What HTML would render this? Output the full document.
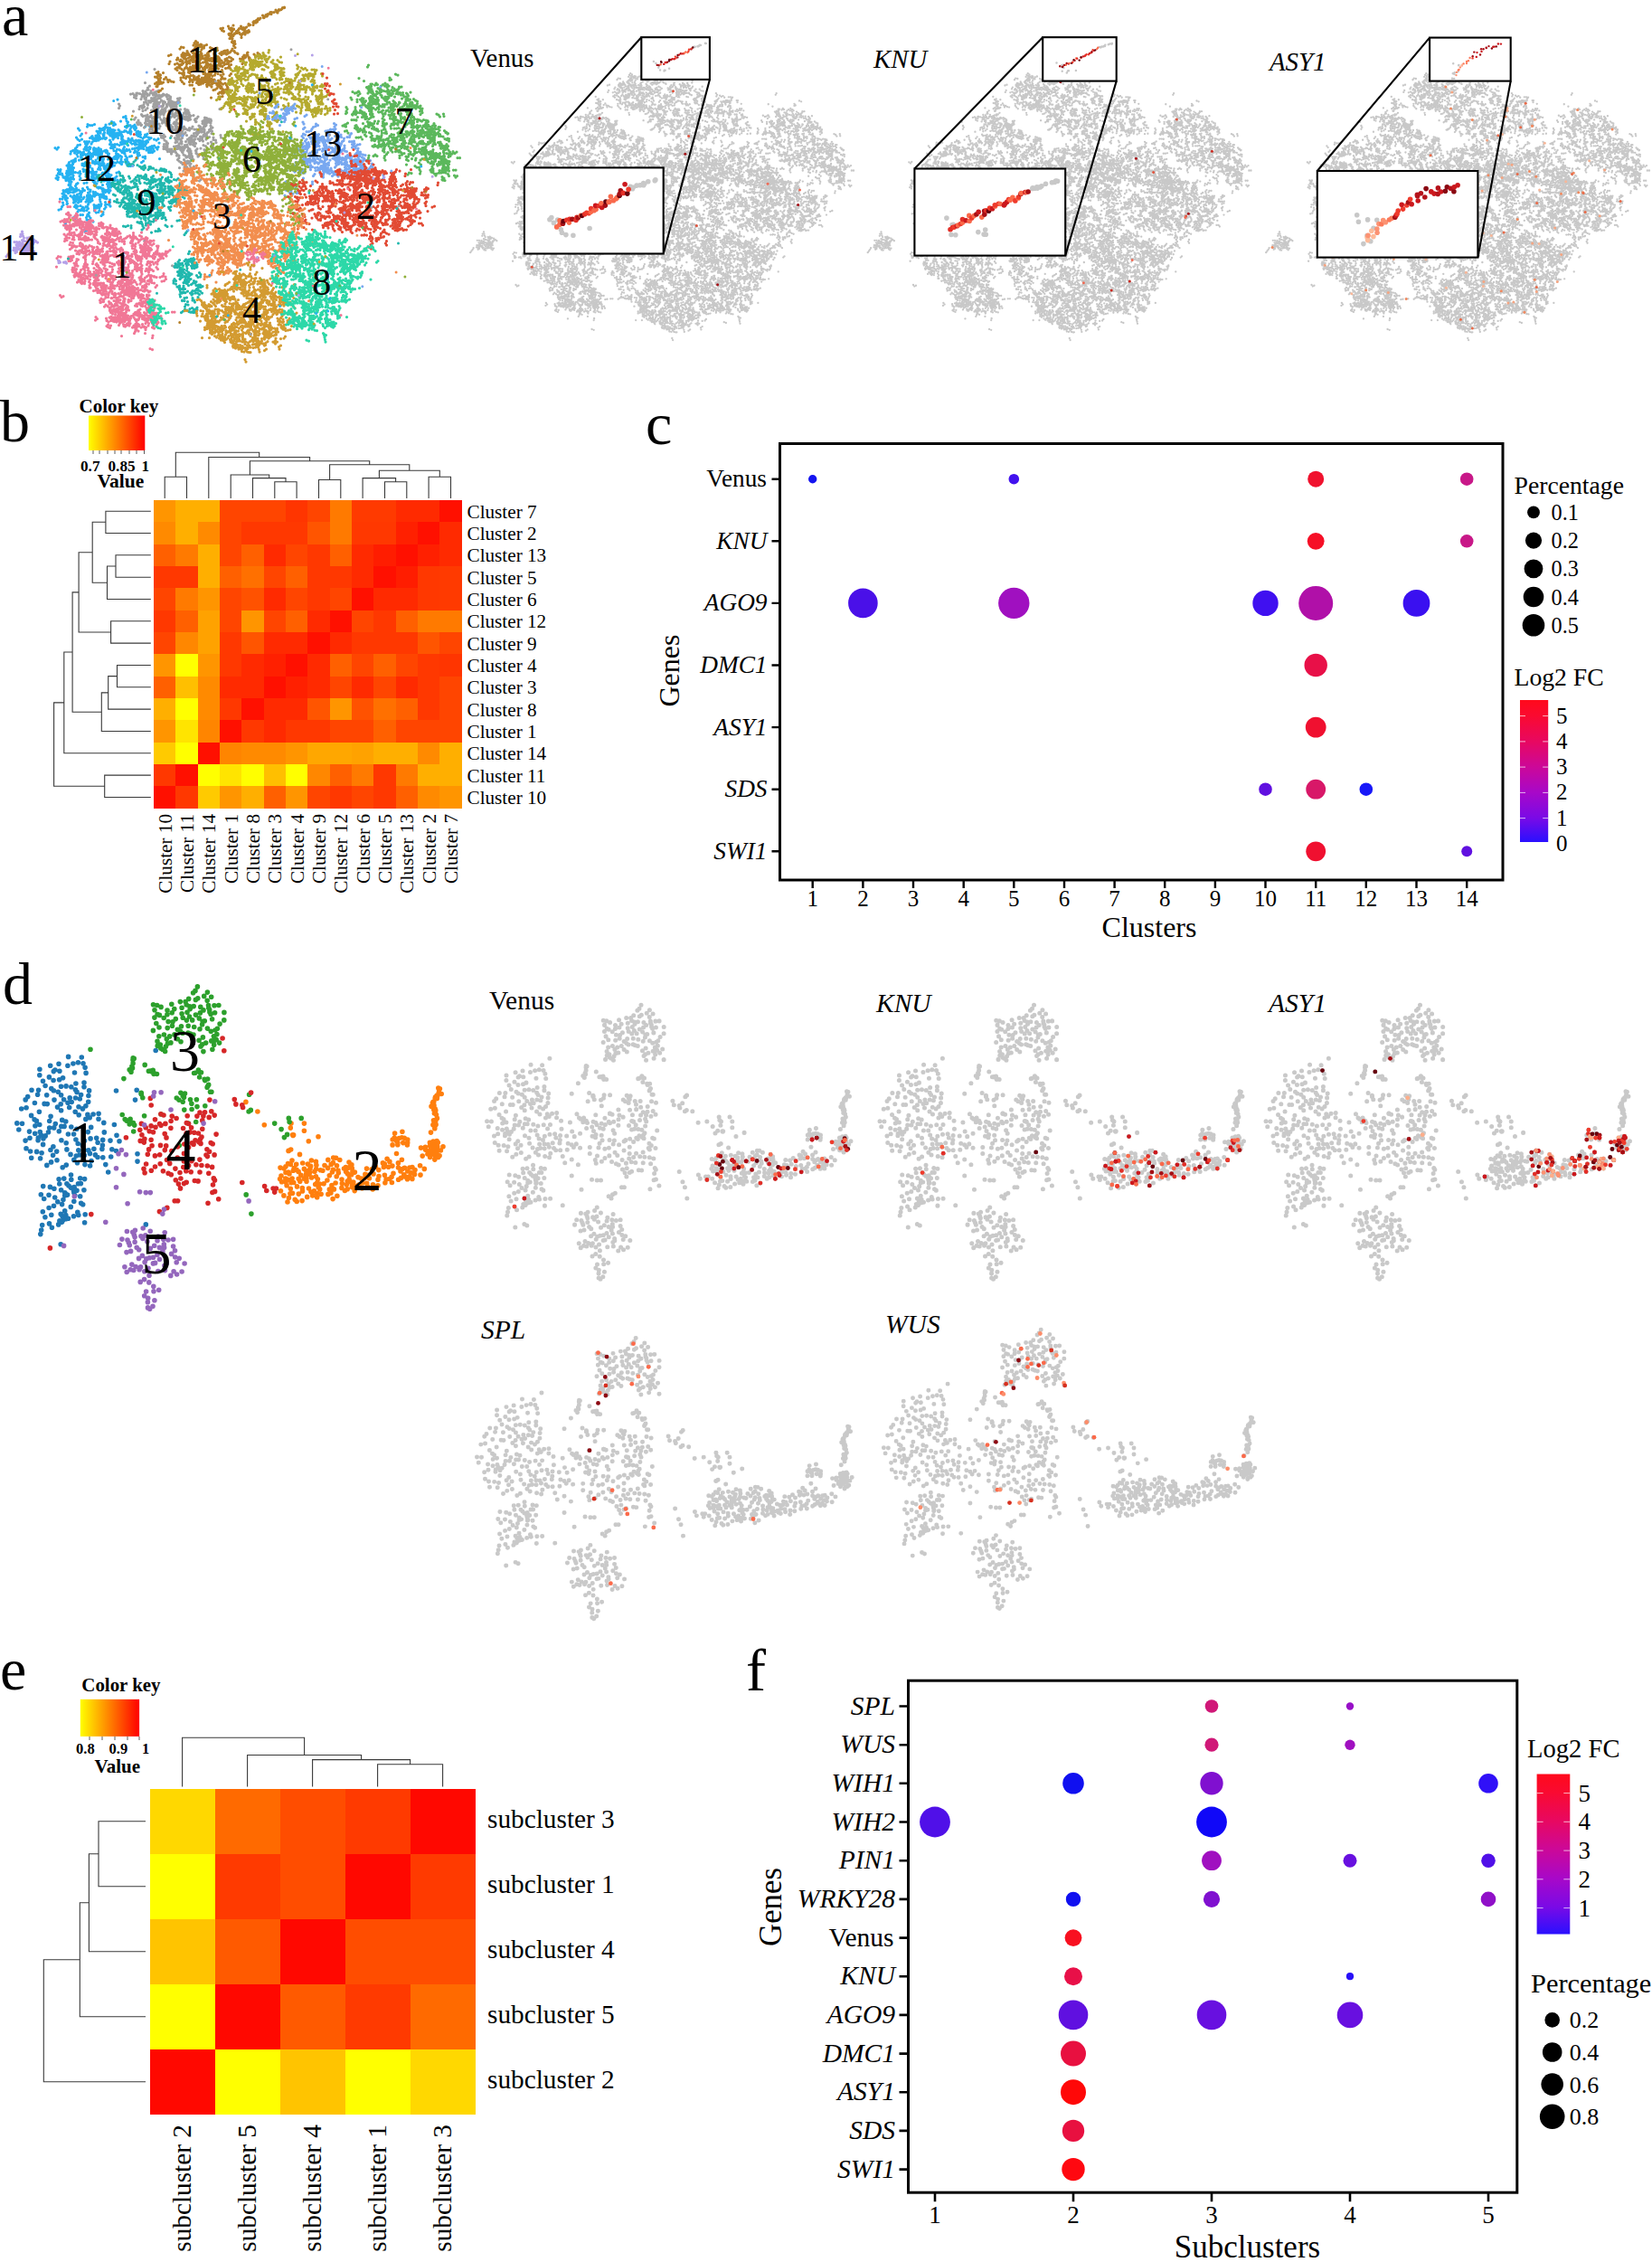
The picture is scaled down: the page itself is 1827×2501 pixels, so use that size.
<!DOCTYPE html>
<html lang="en"><head><meta charset="utf-8"><title>Figure</title>
<style>
html,body{margin:0;padding:0;background:#fff}
body{width:1827px;height:2501px;overflow:hidden}
svg{display:block}
text{font-family:"Liberation Serif",serif;fill:#000}
</style></head><body>
<svg width="1827" height="2501" viewBox="0 0 1827 2501">
<defs>
<linearGradient id="gk" x1="0" y1="0" x2="1" y2="0"><stop offset="0" stop-color="#ffff00"/><stop offset="1" stop-color="#ff0000"/></linearGradient>
<linearGradient id="gfc" x1="0" y1="1" x2="0" y2="0"><stop offset="0" stop-color="#2a10ff"/><stop offset="0.17" stop-color="#7a0ae6"/><stop offset="0.35" stop-color="#a808c8"/><stop offset="0.53" stop-color="#cc0898"/><stop offset="0.71" stop-color="#e80860"/><stop offset="0.89" stop-color="#fa0a30"/><stop offset="1" stop-color="#ff0a1c"/></linearGradient>
<linearGradient id="gfc2" x1="0" y1="1" x2="0" y2="0"><stop offset="0" stop-color="#2a10ff"/><stop offset="0.17" stop-color="#7a0ae6"/><stop offset="0.35" stop-color="#a808c8"/><stop offset="0.53" stop-color="#cc0898"/><stop offset="0.71" stop-color="#e80860"/><stop offset="0.89" stop-color="#fa0a30"/><stop offset="1" stop-color="#ff0a1c"/></linearGradient>
</defs>
<text x="2" y="38.5" font-size="66">a</text>
<text x="0" y="488" font-size="66">b</text>
<text x="714" y="490.5" font-size="66">c</text>
<text x="3" y="1110" font-size="66">d</text>
<text x="0" y="1868" font-size="66">e</text>
<text x="825" y="1869" font-size="66">f</text>
<defs>
<path id="a14" transform="scale(.5)" d="M62 550h0m-3 4h0m-6-28h0m-2-4h0m-1-5h0m-1-5h0m13 33h0m-1 5h0m2 5h0m-5 1h0m-4-5h0m5-1h0m2-5h0m1-4h0m-2 4h0m-29 3h0m-1 5h0m5 1h0m2 3h0m1-5h0m4-2h0m-4-2h0m6 2h0m23 4h0m2 4h0m-35 1h0m-1-5h0m21-21h0m5 1h0m5-1h0m1-5h0m-5-2h0m-13 15h0m-4 2h0m-5 1h0m8-5h0m-5 0h0m-5 2h0m5 2h0m-2 4h0m32-4h0m2-4h0m3-4h0m-26 10h0m-4-2h0m4-4h0m33-3h0m-4-3h0m-4-3h0m-26 1h0m-27 24h0m-2 4h0m-3 4h0m-3 4h0m52-25h0m5-1h0m-1 14h0m2 5h0m3-4h0m-43-21h0m5 0h0m32 20h0m-1-5h0m4-2h0m-5 2h0m-3-4h0m-12-14h0m-3 5h0m1 5h0m-12 2h0m-3 4h0m5 2h0m5-1h0m-4-10h0m2-4h0m26 11h0m-1-5h0m-5-2h0m-4 3h0m-11 12h0m3-7h0m5-1h0m-1-5h0m-5 0h0m-3-3h0m19-12h0m-5 2h0m4-3h0m1 5h0m-1-5h0m5 3h0m-1 19h0m-4-4h0m0-5h0m-4-1h0m11 0h0m-18 24h0m-1-5h0m-3 4h0m-4-4h0m-2-4h0m-5-2h0m-4-2h0m33-18h0m-4-2h0m-19-5h0m1-5h0m101 64h0m-2-3h0m0 1h0m-15 1h0m1-4h0m-2-1h0m4 4h0m8 0h0"/>
<path id="a12" transform="scale(.5)" d="M218 453h0m-2 4h0m4 2h0m3-4h0m-4-2h0m25-159h0m-3-3h0m5-2h0m-3 4h0m-20 137h0m4 3h0m3 4h0m4 2h0m-64-105h0m4 3h0m5 0h0m11 48h0m2-5h0m5-1h0m21-47h0m-1 5h0m3 4h0m5 0h0m-67 78h0m1-4h0m-2 4h0m-3 4h0m-3 4h0m186-92h0m-5 2h0m-3-4h0m-3-4h0m4-3h0m-166 32h0m-3 5h0m2 33h0m-2-4h0m-4 3h0m-5-1h0m-4-3h0m119-123h0m-30 110h0m-3 4h0m-74 2h0m-3-5h0m4-3h0m2-5h0m-4-2h0m92-92h0m4-2h0m-4-3h0m-4-3h0m5 2h0m-3 18h0m5-1h0m-6 80h0m5-2h0m-78-12h0m50-15h0m-5 0h0m3-4h0m-4 1h0m45-15h0m-43 22h0m-5-1h0m-5-3h0m-4-2h0m115-22h0m3-4h0m-119 113h0m74-142h0m3-3h0m5-2h0m2 5h0m-119 148h0m-3 5h0m18 31h0m0-5h0m4-4h0m4 4h0m91-153h0m-2 5h0m-4 3h0m-36-6h0m2 4h0m0 5h0m-18 63h0m4 2h0m3 4h0m3 4h0m5 1h0m-109-14h0m112 35h0m-5 2h0m44-139h0m-2-5h0m-41 68h0m13-39h0m4-2h0m5 0h0m-50 171h0m5-1h0m2-4h0m60-135h0m-3 3h0m-5 0h0m-5 0h0m-36-40h0m-1 5h0m0 5h0m5 2h0m-82 76h0m2 5h0m4-2h0m3-4h0m-4-24h0m64 19h0m-3-5h0m3-4h0m2-4h0m4-3h0m-37 7h0m-5-2h0m-4-2h0m124-36h0m5 0h0m5-2h0m5-2h0m-14-12h0m4 3h0m-133 152h0m5 0h0m4-89h0m25 54h0m-1-5h0m-4 2h0m62-108h0m5-1h0m-1-5h0m-76 39h0m1-4h0m-1-5h0m16 18h0m-1-4h0m1 4h0m5 1h0m1-5h0m-20-28h0m-3 4h0m-5-1h0m-5-2h0m9 122h0m-47-1h0m82-89h0m-3 3h0m-28 32h0m5-1h0m2-5h0m0-5h0m2-4h0m14-30h0m5-1h0m15 60h0m-42-71h0m5 0h0m4-3h0m2 4h0m86-4h0m2-4h0m-1-5h0m-5 1h0m-89 114h0m-1-4h0m1-5h0m5 0h0m-6-132h0m3 4h0m2 5h0m-4 3h0m107-3h0m3 4h0m-3-4h0m-14 6h0m5 2h0m-105 168h0m-5-1h0m-55-102h0m-5 1h0m30 40h0m67-74h0m-4-2h0m-4 3h0m-4-3h0m-91 39h0m3 4h0m-5 2h0m4 3h0m57-18h0m37-72h0m-4-4h0m-2-4h0m1-5h0m-3-4h0m97 7h0m-1-5h0m-5-2h0m1 5h0m4 3h0m-67 144h0m0 5h0m-1 5h0m2 4h0m-33-48h0m30-23h0m5 2h0m-66-35h0m17-39h0m-3 4h0m-5 1h0m3-5h0m-5 0h0m-41 80h0m60 97h0m45-198h0m-4 2h0m1 5h0m3 4h0m-109 129h0m-4-4h0m165-136h0m-91 19h0m-4-3h0m25-28h0m2 155h0m-5 0h0m-3-4h0m4 3h0m-38 1h0m5-1h0m42-42h0m0-5h0m-71 20h0m40 49h0m0 5h0m0 5h0m19-112h0m-56 102h0m-3 4h0m73-163h0m-2-5h0m-1-5h0m65 53h0m1 5h0m-1 5h0m-170 25h0m-3 3h0m29-8h0m-5 3h0m0 5h0m-2 29h0m3 4h0m147-75h0m-20-66h0m-3-3h0m-1-5h0m-1-5h0m-5 2h0m-82 64h0m2 4h0m5-2h0m23 27h0m66-6h0m4-1h0m-136 30h0m126-21h0m0-5h0m-3-4h0m-2-5h0m-131 81h0m-4 4h0m1 5h0m-2 5h0m5 1h0m44-77h0m-4 3h0m1 5h0m-4-2h0m18-39h0m108-5h0m-2 4h0m-4 2h0m34-4h0m5-1h0m4 4h0m5-1h0m-2 5h0m-18-1h0m2-4h0m5 0h0m-21-7h0m0-5h0m-5 0h0m-4-2h0m-5 1h0m37 17h0m2 5h0m-4 3h0m-99-43h0m0-5h0m31 9h0m2 4h0m-2 5h0m1 5h0m-1 5h0m-77 148h0m3-4h0m-2-4h0m37-88h0m3 5h0m1 5h0m-51 38h0m0 5h0m4-1h0m-58-38h0m2-4h0m-3-4h0m75 64h0m-5 2h0m43-74h0m-5-1h0m-4 2h0m-1 5h0m66-89h0m3-4h0m-2-4h0m3 34h0m-2 5h0m0 5h0m-4-9h0m-4-1h0m-2 5h0m3 3h0m-27 26h0m-3 4h0m-3 4h0m-5-1h0m-5-1h0m-5 55h0m-3-4h0m2-4h0m0-5h0m-74 24h0m-2-5h0m42-30h0m4-1h0m-73 41h0m4 1h0m5 2h0m2-5h0m0 5h0m93-26h0m-5 2h0m-4-1h0m-5 1h0m-4-2h0m85-95h0m-5-2h0m-4-3h0m0-5h0m4 3h0m-109 40h0m-1 5h0m49-14h0m4-3h0m5 1h0m-5-1h0m40-28h0m1-5h0m-2-5h0m-1 4h0m-65 45h0m1-5h0m-5-3h0m-1 5h0m-5 1h0m10 29h0m4-4h0m-77 37h0m4 4h0m17-74h0m2-4h0m5-1h0m84-15h0m-3-3h0m-5 2h0m-3 4h0m-1-5h0m-68 159h0m-35-63h0m-2-5h0m159-82h0m4 2h0m1 5h0m0 5h0m2 4h0m-26 31h0m-90-19h0m4 2h0m3 4h0m0 5h0m-5 1h0m-27 89h0m-3 4h0m-3-4h0m81-149h0m5 0h0m1-5h0m83 47h0m1-5h0m-4 3h0m-136 102h0m5-3h0m-60 17h0m1 5h0m-3 4h0m-2 5h0m-5 2h0m22-102h0m29 100h0m2-4h0m-5-3h0m151-118h0m-138 44h0m22 13h0m-4 3h0m-3 4h0m4 1h0m57-107h0m3 5h0m0 5h0m-39-19h0m3-4h0m-5 1h0m1 5h0m-5-1h0m89 41h0m3-4h0m-4-3h0m3-4h0m0-5h0m-88-15h0m1 4h0m-2 5h0m-5-1h0m-53 129h0m4 3h0m2 4h0m5 1h0m4-3h0m-35-55h0m3-4h0m-4-2h0m-1 5h0m1 5h0m90-25h0m5-1h0m4 1h0m-3-4h0m32-70h0m-68 38h0m-43 11h0m2-5h0m0-5h0m-3 4h0m5 1h0m48 67h0m0-5h0m-3-5h0m-4 4h0m-41 26h0m-4 4h0m-4 1h0m115-108h0m-1-5h0m-3-3h0m-134 78h0m2 5h0m4 1h0m-4-2h0m5 0h0m22-61h0m4 3h0m5 2h0m-5 1h0m17 5h0m-5 2h0m-4 4h0m0-5h0m0-5h0m38-39h0m3 4h0m-2 5h0m-1-5h0m-5-2h0m50-13h0m-102 106h0m-5 0h0m104-74h0m-5 0h0m-5 1h0m-2 4h0m-72 122h0m4-1h0m45-110h0m-5 1h0m-1 5h0m5-2h0m1-5h0m9 119h0m1 5h0m-3 4h0m-6-45h0m2 5h0m5-2h0m10-146h0m4-2h0m-65 36h0m-32 130h0m-5-1h0m-5-2h0m-1 5h0m-5 0h0m87-26h0m-9-4h0m3-4h0m-5-1h0m-1-5h0m5 56h0m-4 2h0m-1-5h0m-36-107h0m-2-5h0m94-52h0m-37 185h0m1-5h0m0 5h0m-4 3h0m0-26h0m40-120h0m-5-1h0m-2 4h0m0 5h0m-58 27h0m-5-1h0m1-5h0m2 5h0m2 4h0m34-62h0m-74 49h0m4-2h0m4-3h0m0 5h0m-7 39h0m-5 0h0m-4-1h0m5 0h0m4-2h0m47 39h0m-4 3h0m-25 0h0m-27-7h0m4-2h0m0-5h0m0-5h0m4 2h0m129-82h0m-2-4h0m-5 2h0m-5 2h0m-5 0h0m-75 113h0m4-2h0m0-26h0m-5-2h0m-2-4h0m-11-64h0m43 35h0m2 5h0m47-57h0m-4 4h0m5 2h0m-119 1h0m1-5h0m4-2h0m-18 59h0m4 2h0m5 2h0m1 5h0m5 1h0m102-52h0m-4-3h0m-3 4h0m4-2h0m5-2h0m-72 43h0m-13-11h0m-4 3h0m5 2h0m-2 5h0m77-95h0m-4-4h0m-4-3h0m-2-4h0m-5-1h0m-4 87h0m-4-3h0m62-60h0m-3 4h0m-5 0h0m-16 42h0m-1 5h0m1-5h0m1-5h0m-19-53h0m-3-4h0m3 4h0m-5 3h0m-26 134h0m2 5h0m5 0h0m3-4h0m4 4h0m-68 9h0m-2-4h0m5-1h0m0-5h0m4-1h0m-5 12h0m-1-5h0m-3-4h0m1-5h0m55-2h0m-4-2h0m-5 1h0m-57-70h0m0 5h0m3 4h0m80-31h0m3 4h0m-20 23h0m2 4h0m1 5h0m-5 1h0m0-73h0m-4 3h0m2 5h0m-5-3h0m-5 1h0m13 21h0m-3 4h0m5-2h0m63-19h0m1-5h0m-127 95h0m-5-1h0m2-4h0m4-4h0m61 67h0m-5 1h0m-1-5h0m-65-74h0m5-2h0m4 4h0m0-5h0m-1-5h0m83-21h0m3-5h0m-78 10h0m-3 4h0m-2 5h0m-4-1h0m-4 3h0m16 86h0m29 19h0m-3 4h0m-2 4h0m2 5h0m-47-53h0m2 5h0m-3 3h0m3 4h0m1 5h0m167-144h0m3-3h0m2-5h0m3 4h0m-76 61h0m-39 102h0m-16-82h0m1-5h0m5 2h0m5 1h0m73-28h0m1 5h0m2 4h0m4 4h0m-79-10h0m4 3h0m5 0h0m-2-5h0m-6-48h0m5 1h0m116 7h0m-5-1h0m1 5h0m-4 2h0m-4-4h0m-97-10h0m53 52h0m-2 5h0m-4-3h0m-5-2h0m-58 24h0m-5-2h0m5 1h0m3-4h0m-1-4h0m-27 24h0m76-50h0m4-3h0m5 2h0m-1-5h0m-21 69h0m5 0h0m-4-4h0m-2-4h0m0 5h0m-76 41h0m1-4h0m0-5h0m-4-3h0m-4-3h0m87-11h0m-2 4h0m-3-3h0m-5 2h0m-27-40h0m-1 4h0m4-3h0m-5 1h0m1-5h0m-31 82h0m-2 4h0m84-108h0m-5-1h0m62-37h0m2 4h0m-1-4h0m-3-5h0m-120 28h0m3 4h0m43-15h0m-5-1h0m-51 7h0m5 0h0m-1-4h0m58-17h0m-62 106h0m-2 5h0m0 5h0m-3 4h0m-3 4h0m55-18h0m1 5h0m-4 3h0m5 0h0m60-152h0m4-2h0m3 4h0m2 4h0m2-4h0m-52 15h0m-4-3h0m-1 5h0m6 28h0m-2-5h0m5-1h0m50-10h0m-80 40h0m-1-58h0m-3-4h0m4-2h0m-3-4h0m15 48h0m-5 2h0m-13 16h0m1-5h0m2-5h0m5-2h0m-72 29h0m-5-1h0m56 29h0m4-2h0m-2 4h0m2-4h0m36 28h0m-4-3h0m-4 3h0m-23-35h0m-1-28h0m-2 4h0m-5-2h0m50 39h0m5-1h0m5 3h0m12-89h0m-2 5h0m5 1h0m-111 104h0m5-2h0m4 3h0m-2 5h0m16-24h0m117-61h0m-2-5h0m-110 132h0m20-40h0m-5 1h0m53-139h0m-74 39h0m-4-2h0m5 0h0m-3-4h0m3-5h0m20 10h0m-5-1h0m4 2h0m-2 5h0m-1 5h0m-18 35h0m34 54h0m-9-16h0m3-104h0m-2-4h0m-5 1h0m-5-2h0m-2-4h0m70-10h0m5-1h0m4 3h0m5 1h0m1-4h0m-20 13h0m-1-5h0m-5-3h0m-4-1h0m-4 4h0m-65 148h0m2-5h0m2-4h0m4 2h0m3-4h0m12-124h0m-5 0h0m1-5h0m-5-1h0m-5 0h0m-41 64h0m-2 4h0m168-41h0m1-5h0m-131 35h0m-5 2h0m122-41h0m-3 3h0m-2 5h0m-87-31h0m-33 105h0m51 2h0m2 5h0m-87-30h0m-2-5h0m1-5h0m5 2h0m6 43h0m5 1h0m-3 4h0m-3-4h0m157-89h0m-5-3h0m-3-4h0m2-4h0m-160 108h0m57-151h0m-5 2h0m-5 0h0m-21 117h0m3-98h0m-3 4h0m59 72h0m-71 113h0m113-133h0m-61 62h0m5 1h0m-5 1h0m45-36h0m-5 2h0m-102 25h0m-4 2h0m-5-12h0m5 0h0m44 48h0m-24-40h0m149-55h0m-158 131h0m0 5h0m5-33h0m-3 4h0m4 3h0m0-156h0m3 4h0m4 3h0m176 5h0m-92-96h0m17 60h0m-45 2h0m89 64h0m-5 1h0m-41-22h0m-2 4h0m-49-44h0m-25 53h0m3 4h0m3 4h0m7-4h0m5-2h0m-4-3h0m-9 49h0m-1 5h0m25 26h0m-61-36h0m-5 1h0m96 8h0m-3 3h0m-5 2h0m-10-110h0m0 93h0m-3 4h0m-5-1h0m20-48h0m-52 149h0m-3-4h0m-3-4h0m8-156h0m130-38h0m-97 57h0m4 2h0m0 5h0m-5-68h0m95 28h0m5 1h0m-4 3h0m-103 101h0m-41 27h0m-10-148h0m-3-4h0m-51 43h0m4 3h0m3-4h0m70-49h0m-5-2h0m-1 5h0m-47 144h0m2-5h0m173-139h0m-36 87h0m37-69h0m4-2h0m-142 78h0m23-43h0m5-2h0m59-18h0m-4 4h0m-14 32h0m5 0h0m-22 92h0m-5-1h0m-86 56h0m-1 4h0m142-134h0m3 3h0m-3-4h0m67-12h0m-136-60h0m5 1h0m-60 96h0m37 36h0m-4 2h0m1 5h0m117-72h0m4-3h0m-165 31h0m-3 3h0m192-82h0m5 2h0m4-3h0m-157 125h0m5 1h0m24 13h0m-1-5h0m35-96h0m5-1h0m-82 101h0m-5-2h0m-1 5h0m67 4h0m-5 0h0m-2-5h0m50-126h0m-14-29h0m-91 183h0m5 0h0m-16 22h0m81-207h0m-3-4h0m23 60h0m-77 164h0m-4-2h0m1 4h0"/>
<path id="a10" transform="scale(.5)" d="M404 255h0m-2 4h0m-3-4h0m4 2h0m-49-31h0m3-4h0m4 3h0m30 40h0m4-4h0m0-5h0m-2 35h0m-4-2h0m-5-2h0m-4 3h0m0-5h0m72 14h0m4 3h0m-1-5h0m-5 2h0m17 15h0m2 5h0m-94 11h0m1 5h0m-48-137h0m15 7h0m48 21h0m-5 2h0m-51 40h0m-1 4h0m84-21h0m-26 39h0m5-1h0m10 64h0m3 4h0m-13 14h0m-48-145h0m0 5h0m-3 4h0m36 5h0m1-5h0m-46-12h0m-4 3h0m-4-3h0m64 130h0m3-4h0m0-5h0m-5 0h0m-23-80h0m-5 0h0m-4 3h0m-3-3h0m-3-5h0m-1-44h0m0-5h0m5 1h0m4-3h0m91 81h0m-5 2h0m-101-23h0m49 53h0m4 4h0m-4 3h0m-35-79h0m2 5h0m-2-5h0m4-1h0m68 15h0m-52-28h0m0-5h0m-3-5h0m-8 9h0m-53-33h0m1 5h0m106 139h0m1 5h0m-30-56h0m-54-35h0m4 3h0m4-3h0m1-5h0m94 26h0m-37 62h0m-2-5h0m2-5h0m2-4h0m-22-94h0m-23 27h0m4 2h0m-22 0h0m-5-1h0m-4-2h0m89 86h0m-4 2h0m3-4h0m-47-122h0m0-5h0m-64 17h0m-4 2h0m-1 5h0m82 4h0m-2-4h0m2-5h0m0-5h0m4-3h0m26 102h0m-2 4h0m-1-5h0m27-20h0m-68-65h0m5 2h0m-69-27h0m2-5h0m0-5h0m-5-2h0m-5-1h0m108 156h0m5-2h0m5 2h0m-2 4h0m2 5h0m-46-138h0m2-5h0m1 11h0m2 5h0m37 93h0m-3-4h0m4 3h0m-35-108h0m1 5h0m-5-1h0m-2-4h0m-5-2h0m31 137h0m5-1h0m-39-40h0m-2 4h0m1 5h0m2 4h0m9-109h0m-4-3h0m39 64h0m-5 6h0m-3 3h0m-70-34h0m60 56h0m-57-80h0m0 5h0m-5 1h0m109 84h0m-4-50h0m2 4h0m0 5h0m1-4h0m-69-38h0m16 78h0m-5 1h0m3 5h0m19-49h0m3 4h0m-4 2h0m-4-3h0m-5 1h0m-9-55h0m-3-3h0m26 87h0m-72-94h0m99 39h0m-3 4h0m-53 19h0m-5 1h0m-2-4h0m-4-3h0m-29-58h0m-12 55h0m1-5h0m5 1h0m3 5h0m4 1h0m61 51h0m-12 16h0m-3-4h0m-2-5h0m-4 3h0m19-35h0m10 48h0m10-92h0m-4 4h0m-5-2h0m-5 0h0m-4 2h0m-69-43h0m5 1h0m5 2h0m-5-3h0m0 5h0m68 28h0m2-4h0m-1-5h0m5 2h0m32 49h0m-85-62h0m60 74h0m3-4h0m5 0h0m0-5h0m1 21h0m-4-2h0m-4-3h0m-4 2h0m-92-50h0m-3 4h0m5-2h0m69-39h0m-50-14h0m-4 3h0m14-2h0m-3 4h0m108 46h0m-72 6h0m3 4h0m-4 2h0m-5-2h0m5 0h0m48 23h0m3-3h0m-1-5h0m-4-2h0m-5 0h0m1 22h0m-4 3h0m1 5h0m-102-62h0m-5 2h0m-5 0h0m103 102h0m-4-2h0m21-66h0m-99-84h0m5-2h0m4-2h0m5-2h0m-48 71h0m3 4h0m4-3h0m12-70h0m4-4h0m1-4h0m4-4h0m147 125h0m-1-5h0m-5-1h0m0-5h0m-38 35h0m0-5h0m2-5h0m-3 4h0m1 5h0m-55-37h0m30-42h0m5 1h0m-3 4h0m5 2h0m5-2h0m35 42h0m1-5h0m-5-1h0m-4 3h0m3-5h0m-33 46h0m-4 3h0m12-38h0m-4 4h0m-46-62h0m5 1h0m4 2h0m5 2h0m69 12h0m-5 1h0m-2-4h0m1-5h0m4 1h0m-1 16h0m-4-3h0m-115 1h0m4 3h0m-4-4h0m-5 0h0m3-4h0m58-20h0m4-3h0m2-5h0m72 79h0m0 5h0m2 4h0m-5 0h0m-1-5h0m-149-88h0m-18 23h0m-3 4h0m15 13h0m-3-4h0m4 3h0m153-4h0m-4-2h0m-5 2h0m-5-1h0m-4 2h0m-63-34h0m32 9h0m-5-1h0m-5 3h0m4-4h0m5-2h0m-12 56h0m-1 5h0m63-39h0m-4 4h0m-97-44h0m-4 2h0m0 5h0m34 75h0m-4-3h0m-2 4h0m3 5h0m-26-42h0m2-5h0m-5 2h0m-4 3h0m-7-59h0m5 0h0m63 98h0m4 3h0m5 0h0m4 3h0m-107-106h0m-1-4h0m-3-4h0m20 16h0m-5 0h0m118 113h0m-139-75h0m-3-4h0m96 10h0m5 1h0m5 0h0m1-5h0m-70-20h0m-1 5h0m1-5h0m3-4h0m-2-4h0m67 22h0m-4-2h0m-18 54h0m2-5h0m-57-70h0m1-5h0m4-3h0m3-4h0m80 92h0m-3 4h0m3 4h0m2 5h0m-4-3h0m-14-72h0m5 1h0m1 5h0m-4 4h0m-5 0h0m-29-7h0m1 5h0m-4 3h0m-3 4h0m-5-1h0m-26-18h0m-7 43h0m2 4h0m-44-45h0m70-6h0m4-4h0m0-5h0m4-1h0m3 4h0m62 73h0m-76-83h0m-7 74h0m46 61h0m-10-53h0m-1 4h0m-2 5h0m45-21h0m4-3h0m-44 16h0m-47-99h0m-12-7h0m-2 5h0m-2 4h0m86 151h0m3-4h0m-15-23h0m1-5h0m28-60h0m-37 87h0m40-58h0m-3 4h0m-78-50h0m4-4h0m4 2h0m3-4h0m0-5h0m-14 43h0m2-5h0m-2-5h0m115-7h0m-61 111h0m3-4h0m5-2h0m-3 5h0m-35-93h0m47 59h0m2 5h0m-5 1h0m-3-4h0m2-5h0m-94-84h0m3 4h0m-4 2h0m0 5h0m4-3h0m83 21h0m-5-2h0m36 28h0m3-4h0m-71-28h0m3 5h0m45 50h0m1 5h0m-63-104h0m2-5h0m-1-5h0m52 74h0m30 3h0m-1 5h0m5 1h0m2 4h0m3-19h0m-99-45h0m4 3h0m5-3h0m0-5h0m4-4h0m58 45h0m2-4h0m-57-66h0m4-3h0m4 3h0m89 71h0m4-3h0m-151-56h0m-1 5h0m1 5h0m-4 3h0m87 74h0m-2-4h0m0 5h0m2 4h0m-58-108h0m-5 0h0m1-4h0m110 140h0m0 5h0m5 1h0m-1-75h0m-26 76h0m-5-1h0m0-5h0m-102-139h0m-2 5h0m1 5h0m148 77h0m1-5h0m-19 31h0m5 2h0m-53 5h0m-2 4h0m-38-34h0m3 4h0m-4 3h0m-4-3h0m71-47h0m20 13h0m5-2h0m5 0h0m5 2h0m3-4h0m-129 11h0m56 27h0m3-4h0m5-3h0m2-4h0m-78-17h0m4 3h0m73 20h0m-4-3h0m0-5h0m55-22h0m-73-43h0m3 4h0m5 0h0m49 113h0m1 5h0m-36-15h0m1 5h0m-39-26h0m4 3h0m3 4h0m-2 5h0m-9-22h0m-3 4h0m55-52h0m51 35h0m-2 5h0m4-3h0m-55 55h0m56-66h0m1 5h0m-10 15h0m2-5h0m-53-31h0m-87 20h0m4-5h0m-2-5h0m2-4h0m5-1h0m76 16h0m40 7h0m3-5h0m3-4h0m2-5h0m-42 88h0m-2 5h0m-38-43h0m-4 3h0m21 1h0m5-1h0m5-1h0m-3-4h0m-26-6h0m-5 1h0m-1 5h0m0 5h0m1-5h0m92 16h0m-1-5h0m-2-4h0m-129-115h0m0 5h0m0 5h0m3 4h0m113 115h0m-30-24h0m5 0h0m-4 3h0m5 1h0m4 4h0m-64-76h0m-22 30h0m5-1h0m-24-27h0m-13-38h0m-4-2h0m0-5h0m-3-3h0m-5 1h0m55 24h0m0-5h0m-4 3h0m-24-20h0m1-4h0m84 50h0m-4-2h0m-46-5h0m5 0h0m31-10h0m1-5h0m-1-5h0m-4-3h0m32 82h0m4-3h0m1 5h0m-2 5h0m3 4h0m-43-96h0m-4 1h0m5 2h0m-5 2h0m-4 3h0m1-12h0m5-1h0m-1-5h0m0 5h0m3 5h0m15 1h0m-3 4h0m10 131h0m-6-64h0m-3 4h0m-13-66h0m4-3h0m4 2h0m5-2h0m-5 40h0m6-22h0m-4 2h0m2-4h0m-46 18h0m-3 4h0m-1 5h0m-13-41h0m159 110h0m2-5h0m-2-4h0m-112-58h0m4 2h0m-42 15h0m-5-1h0m0-5h0m129 31h0m-9-26h0m1-5h0m-146-20h0m2 5h0m-3 4h0m82 30h0m-57-79h0m4-4h0m5 1h0m147 18h0m4-2h0m-116 32h0m1-5h0m-49-27h0m-4 4h0m20-90h0m87 215h0m-43-109h0m3-4h0m52 145h0m3-3h0m-110-142h0m-71-25h0m2 4h0m-2 5h0m146 87h0m-99-91h0m179 69h0m-1-5h0m-95-14h0m-5 0h0m1-5h0m-1-3h0m4 3h0m2 5h0m-73-102h0m52 102h0m-1-5h0m-4-3h0m12 53h0m48-28h0m-5 3h0m-64-93h0m5-2h0m5-1h0m-13 36h0m3-4h0m96 59h0m-60-82h0m5 169h0m13-18h0m-2 5h0m-3 3h0m-16-135h0m-76 3h0m7 18h0m2-4h0m5 0h0m-28-48h0m0-5h0m96 11h0m-2 5h0m-3-4h0m61 61h0m2 29h0m2-5h0m5 0h0m-84 37h0m0-5h0m-2-5h0m42-42h0m0-5h0m15-14h0m-3-4h0m4-3h0m-83-27h0m-25 25h0m4-2h0m6 19h0m77 43h0m-57-85h0m-5 0h0m-4 3h0m-5 0h0m-4-3h0"/>
<path id="a11" transform="scale(.5)" d="M427 114h0m-29 31h0m62 27h0m-29-65h0m-29 55h0m-5-1h0m85-17h0m-5 1h0m-3-3h0m-47 8h0m-3 4h0m-5-2h0m71-37h0m5 1h0m3-4h0m5-1h0m-64 45h0m5 1h0m5-1h0m4-2h0m6 26h0m-5-2h0m-4-3h0m-3-3h0m-43-46h0m1-5h0m3-3h0m5 1h0m45 61h0m2-5h0m3-4h0m33-56h0m4 3h0m-4-2h0m-17 34h0m4 2h0m-3-4h0m-5 0h0m1 5h0m-20-9h0m1 5h0m-52-9h0m69 11h0m-70-16h0m1 4h0m-3 4h0m33 40h0m7-61h0m4-3h0m2 5h0m-5-1h0m2-5h0m42 63h0m-4-3h0m-43-54h0m-5-1h0m-5-1h0m-4 4h0m-5-1h0m-1 36h0m4-4h0m5-2h0m2-5h0m-5-1h0m58 36h0m-4 3h0m-2-4h0m-3-4h0m-17-9h0m-3-4h0m4-3h0m4-3h0m5-1h0m27-47h0m1 5h0m5 2h0m-25 78h0m4-3h0m2-5h0m5 0h0m1 5h0m-26-18h0m1 5h0m-7-18h0m-12-66h0m4 60h0m2-5h0m2 5h0m1-5h0m-41-6h0m3 4h0m2 4h0m0 5h0m57 16h0m-4 1h0m4-58h0m3 4h0m5 2h0m3 4h0m-32 43h0m3 4h0m1-5h0m5 1h0m-71-40h0m99 60h0m1 4h0m2 5h0m-82-64h0m5 2h0m3-5h0m4-2h0m-4 3h0m19-27h0m-2-5h0m3-4h0m3 4h0m5 1h0m0 73h0m-3 4h0m0-5h0m10-54h0m5 1h0m0-5h0m-1 5h0m-42-6h0m-2-4h0m5 8h0m-6 21h0m50-12h0m-4 3h0m-5 1h0m9 9h0m-4-3h0m1 5h0m8 47h0m-4-4h0m5-2h0m3-3h0m3-5h0m-13-4h0m4 3h0m-2 5h0m4-2h0m5 3h0m39-6h0m-2 4h0m-64-82h0m41 47h0m5 1h0m-4-3h0m-3-4h0m1-5h0m-3-7h0m-2 5h0m5-2h0m-2-4h0m-86-19h0m3-4h0m5 1h0m-1 12h0m0 5h0m3 4h0m2 4h0m84 68h0m-3 4h0m-5 2h0m-3 3h0m-54-79h0m1-5h0m0-5h0m-4-2h0m1-5h0m22 40h0m4-3h0m5 1h0m32-15h0m-53 14h0m-3-5h0m-3 4h0m27-14h0m2-5h0m2-4h0m49 39h0m-3 4h0m-38-38h0m-44 52h0m-2-4h0m-4-4h0m49-66h0m-4-2h0m3 3h0m5 1h0m5 1h0m-41 0h0m1 5h0m3 66h0m-5 1h0m-16-23h0m5-2h0m1 24h0m58 33h0m2 5h0m1-5h0m5-1h0m-80-91h0m3-4h0m-4 3h0m-5 1h0m-4 2h0m5 37h0m12 20h0m11-47h0m-3-4h0m1-30h0m2-5h0m3-4h0m4 3h0m47 88h0m5 2h0m4 2h0m-63 15h0m-1-5h0m24-25h0m-2 5h0m53-42h0m-5 0h0m-59-13h0m-13 16h0m3-4h0m-4-4h0m-29 16h0m1 5h0m4 3h0m4 3h0m28-35h0m1 5h0m3 4h0m5 2h0m0-5h0m-4 59h0m1-5h0m1-5h0m67-40h0m-3 5h0m-103-20h0m5 2h0m51 59h0m-1 5h0m1 4h0m2-4h0m23-4h0m-1 5h0m4 4h0m-17-57h0m-5-1h0m-5 0h0m-4 4h0m-34 10h0m3 4h0m-4 3h0m20 32h0m4-1h0m5-2h0m4-3h0m-57-38h0m79-18h0m3 4h0m4-3h0m13 48h0m-4-2h0m-68-41h0m-2 46h0m5 0h0m40-35h0m3 4h0m11-40h0m1 5h0m-4 2h0m18 92h0m-5 1h0m-29-43h0m-34-18h0m5 0h0m12-31h0m2-5h0m24 59h0m5-2h0m1-5h0m-36 7h0m-4 3h0m-4 3h0m-2-5h0m20-6h0m5 1h0m3 4h0m3-4h0m2 12h0m-71-21h0m-4-3h0m4-3h0m5 1h0m28 38h0m-5 0h0m-3-52h0m3 4h0m-4-3h0m-4-4h0m-2-4h0m39 9h0m-5 42h0m4 1h0m0-5h0m4-15h0m-18-21h0m4 3h0m-7 33h0m-2-4h0m-2-5h0m-5 0h0m-4 2h0m27-22h0m-9-40h0m-3-4h0m1-5h0m54 44h0m-23 3h0m-1 5h0m-2 5h0m2-5h0m4 3h0m-20-24h0m-7 21h0m2-4h0m-1-5h0m-1-5h0m2 4h0m45 5h0m-3-4h0m-2-5h0m-4-1h0m-5-3h0m-76 3h0m5 1h0m-3-4h0m55-4h0m-5 1h0m-39-8h0m3-4h0m3 4h0m74 34h0m-3 3h0m4 1h0m2 5h0m-78 5h0m-10 0h0m-2-5h0m64 10h0m25 27h0m1 5h0m-2-4h0m0-5h0m-3-22h0m2-5h0m-3-4h0m-56-30h0m4 3h0m-1 5h0m63 30h0m-92-13h0m16 16h0m77-60h0m-5 1h0m-4 3h0m-4-3h0m-59-1h0m81 68h0m4-3h0m3-3h0m-3 3h0m-8-64h0m4-2h0m4-4h0m2-4h0m-15 43h0m5-1h0m5 1h0m-2-5h0m4-3h0m-7-28h0m5 0h0m-36 36h0m-2 4h0m30 32h0m2 5h0m-2-4h0m-3-4h0m-2-41h0m-1-5h0m-59 39h0m4-3h0m-4-3h0m-2 4h0m35-16h0m-4-1h0m-64-16h0m-5 1h0m-4-3h0m-5 2h0m13 30h0m5-10h0m2 4h0m-1 5h0m5 2h0m2-4h0m-4-18h0m73 12h0m-18-30h0m3-4h0m5 1h0m3 4h0m-11 33h0m-57-38h0m0 56h0m-4-4h0m-3-4h0m40 8h0m4-4h0m7-75h0m1-5h0m5-2h0m-30 25h0m2 10h0m-3-3h0m-4 3h0m75 69h0m-119-82h0m-5 2h0m39 7h0m5-2h0m79 13h0m5 0h0m-29 58h0m-79-71h0m73 36h0m-4 1h0m-3 4h0m-85-28h0m2-5h0m153 32h0m-4 3h0m-70-5h0m-2-5h0m5 12h0m-5 0h0m2 4h0m12-26h0m33 47h0m4-4h0m0 5h0m-49-68h0m35 15h0m-2-5h0m4-3h0m-60-32h0m74 72h0m-1-40h0m-4-4h0m-3-3h0m-60 25h0m3-5h0m26 65h0m-6-95h0m0-5h0m4-3h0m37 16h0m5-3h0m4 9h0m4-4h0m-4-3h0m-74 11h0m-13-25h0m4-4h0m5 1h0m-76 73h0m-5 0h0m-5-2h0m-4 3h0m7-11h0m5-2h0m6-11h0m11 20h0m3-4h0m4 3h0m5 1h0m-14-5h0m-22 15h0m7-10h0m-4-3h0m-1-5h0m17-2h0m-4 4h0m-2 7h0m-15-21h0m1 10h0m3-4h0m4-2h0m-5-2h0m4 4h0m6 29h0m-4 4h0m-4 3h0m3-24h0m0-5h0m-8 17h0m3-4h0m4-2h0m5-1h0m-8-25h0m5 7h0m-4-1h0m-3 4h0m-5 1h0m194-105h0m4 3h0m5 1h0m5 1h0m-37-3h0m-1-4h0m-3 3h0m1-4h0m5-6h0m1 9h0m-5 0h0m12 8h0m-5 1h0m-3 5h0m13-7h0m-41-9h0m5-1h0m-2 5h0m4 2h0m32 3h0m-4-3h0m4-3h0m16 7h0m5-1h0m2-5h0m-17-9h0m1 5h0m-5 0h0m-7 9h0m-3 3h0m-5 2h0m-4 3h0m-3-5h0m31-2h0m4 3h0m-6-1h0m-5 0h0m3 3h0m0 5h0m-17-19h0m-5-2h0m-5 1h0m-2-5h0m6 19h0m2-7h0m49 50h0m3 4h0m5 0h0m4-4h0m-4-3h0m-19 12h0m-7-3h0m2-5h0m2-5h0m-14 16h0m4-3h0m0 5h0m2 4h0m-4 3h0m4-19h0m-3 4h0m4 2h0m-5 2h0m-5 0h0m17-8h0m-1-5h0m4 10h0m1 1h0m0 5h0m-40-49h0m-4 1h0m6 0h0m-2-10h0m14 44h0m-16-35h0m-4-9h0m7 18h0m-1-16h0m2 14h0m6 6h0m-8-12h0m7 6h0m-2 10h0m-3-24h0m2 18h0m4 10h0m-2 8h0m2 3h0m-13-39h0m7 1h0m-6-4h0m3 1h0m14 43h0m-6-23h0m103-74h0m7-5h0m-48 18h0m-10 9h0m-3 1h0m56-25h0m-27 10h0m-27 15h0m1-3h0m46-20h0m8-4h0m-32 15h0m36-15h0m-17 9h0m-62 27h0m64-25h0m-30 11h0m16-8h0m13-4h0m-39 15h0m-24 13h0m33-16h0m-30 16h0m38-20h0m-22 13h0m-30 13h0m34-18h0m25-16h0m-63 35h0m55-26h0m7-6h0m-10 6h0m-27 13h0m69-33h0m-41 17h0m-38 23h0m56-29h0m-55 28h0m33-18h0m26-15h0m-68 41h0m23-15h0m36-21h0m-40 24h0m-16 9h0m22-15h0m9-5h0m43-18h0m-30 13h0m3-4h0m-32 24h0m55-31h0m-49 26h0m-4-3h0m29-13h0"/>
<path id="a5" transform="scale(.5)" d="M587 230h0m-3-4h0m4-102h0m-5-2h0m-1-5h0m15 153h0m0 5h0m-1 5h0m1 5h0m5 0h0m-75-127h0m-3-3h0m30 39h0m3 4h0m3 4h0m-4 2h0m-3-4h0m1 63h0m3-3h0m3-4h0m3-4h0m-5 0h0m110-20h0m0 5h0m-56-62h0m82 8h0m0-5h0m-5 1h0m-180 60h0m5-2h0m4-2h0m82 38h0m-72-117h0m3-4h0m-5 1h0m102 14h0m-3-4h0m-5 2h0m4-3h0m46 4h0m-164 16h0m5-2h0m-3-4h0m186-8h0m-46 24h0m-4 4h0m-128 25h0m4 2h0m4-3h0m-3-4h0m-3-4h0m68-17h0m-3 4h0m67 40h0m-2-5h0m-107-10h0m4 2h0m-4 3h0m-2-5h0m0-5h0m33-72h0m-4-3h0m-4 4h0m45 49h0m5-1h0m54 32h0m-130-5h0m4-3h0m102-44h0m-1 5h0m-138 38h0m2-5h0m-2-4h0m-3-4h0m22 22h0m5-1h0m79-62h0m-4-3h0m-3-4h0m-35 69h0m-2 4h0m-3 5h0m-5-1h0m3-4h0m125 3h0m-2 5h0m-2-5h0m3-4h0m0 5h0m-175-7h0m-4 2h0m-3-4h0m5-1h0m-3 4h0m189-65h0m5-1h0m-4 2h0m1 5h0m-91 1h0m5 0h0m-44-31h0m-5 0h0m1 4h0m-1 5h0m2 5h0m147 57h0m-4 3h0m-3 3h0m-2-5h0m-78-16h0m-5 2h0m-5 1h0m1 5h0m-23-73h0m16 133h0m4 2h0m4 3h0m3-4h0m-5-2h0m76-20h0m-46-62h0m2-5h0m-29-43h0m4 4h0m5 1h0m4 95h0m4 3h0m-3 4h0m52-2h0m1-5h0m-4-3h0m-3-4h0m-94-20h0m3-4h0m5-1h0m17 18h0m0-5h0m1-5h0m1-5h0m31 25h0m0 5h0m58 14h0m1-5h0m-2 5h0m-3-4h0m-5 0h0m-10-45h0m-1 5h0m-101 82h0m0 5h0m-3 3h0m-3 4h0m95-111h0m-2-5h0m4-3h0m5-1h0m-86 86h0m2-5h0m-3-4h0m4-3h0m1 5h0m102-81h0m-3 4h0m-24-23h0m-3 4h0m-2 4h0m-3 5h0m-83-47h0m5 1h0m1 5h0m17-3h0m-3 4h0m-3 4h0m-4-3h0m3 4h0m-73 86h0m-2-5h0m-3-3h0m71 24h0m4 4h0m2 4h0m-5 0h0m-4-2h0m-77-16h0m-4 2h0m-2 5h0m-3 4h0m-4 3h0m189-47h0m-3 4h0m-53-47h0m5 0h0m62 96h0m3-4h0m4 3h0m4 3h0m4-1h0m-14-50h0m1 5h0m0 5h0m-115-36h0m3 4h0m5 0h0m4-3h0m15-15h0m-5 2h0m-72 1h0m11 72h0m4 1h0m-4-2h0m-4-3h0m-5-1h0m65-79h0m-4-2h0m-3-4h0m-14 67h0m-1 5h0m-4 3h0m110 8h0m-22 22h0m-121-63h0m4 4h0m-27 47h0m104-43h0m2 5h0m-1 5h0m1 5h0m-5 2h0m67-55h0m-4-4h0m-4 2h0m-4-3h0m-108 74h0m-2-5h0m5-1h0m3 4h0m29-16h0m3 4h0m-5-1h0m-5-1h0m-39 28h0m-4-3h0m-4-3h0m4-2h0m136-1h0m1 5h0m-3 4h0m2 5h0m4-2h0m-10-61h0m0-4h0m-76 58h0m65-46h0m4 2h0m5 0h0m-91 93h0m71-103h0m-5 1h0m-5 0h0m-2 4h0m-3 4h0m-79 34h0m0-5h0m1 5h0m141-66h0m-3 4h0m-2-5h0m-5 0h0m-91 60h0m-5-1h0m-1-5h0m132 37h0m-1 5h0m-5 3h0m-2-39h0m-52-19h0m-5 2h0m0-5h0m4-3h0m-118 12h0m-2-5h0m1-5h0m131 23h0m24 1h0m3 4h0m-1 5h0m2 5h0m-82-13h0m-29-86h0m-4 2h0m1 5h0m-65 14h0m-1 5h0m-1-5h0m143 89h0m0 5h0m-1 5h0m-113-63h0m2 4h0m49 68h0m91-65h0m-84 35h0m4-4h0m-5 1h0m-64-88h0m164 92h0m5 0h0m-32 11h0m-5 2h0m-23-78h0m-116-17h0m-2 4h0m176 64h0m-5-1h0m5-2h0m-169-44h0m-1-5h0m3-4h0m0 108h0m-4-114h0m5 2h0m-5 2h0m35-21h0m-3 4h0m-5 1h0m-2-4h0m-1-5h0m68 55h0m-3 4h0m-43 27h0m-61-18h0m-1-5h0m-3-4h0m-4-3h0m-5-3h0m50 19h0m5-2h0m114 40h0m1-5h0m-179-53h0m5 1h0m3-3h0m4-3h0m-1 4h0m61-46h0m1 5h0m25 49h0m-57 53h0m2 5h0m-39-51h0m5 1h0m-3 4h0m3 34h0m-2 5h0m-3 4h0m50-24h0m5 0h0m-1-5h0m10 55h0m-5-3h0m-2-5h0m0 5h0m0 5h0m-22-58h0m4 3h0m0-5h0m-4 2h0m-3-4h0m45-69h0m-5-1h0m-5 2h0m121 55h0m-3-4h0m4-3h0m4 1h0m-131-58h0m5 1h0m5-1h0m12 133h0m2 5h0m-2 4h0m1-4h0m-10-79h0m-5 0h0m-1-5h0m-2-5h0m3 4h0m-55-20h0m5 1h0m0 5h0m-4 3h0m1 5h0m187 44h0m-144-56h0m1-5h0m-5-1h0m-5-1h0m-26 15h0m0-5h0m-2-5h0m4 51h0m-5-1h0m4-2h0m-4-2h0m-5 2h0m98-33h0m33-17h0m2-4h0m-115 87h0m29-121h0m4-2h0m-1-5h0m13 99h0m1-5h0m1-5h0m118-20h0m4-4h0m1 5h0m4-3h0m-156 0h0m-5 0h0m4-3h0m-3 4h0m72-8h0m4-3h0m0-5h0m-68 41h0m99-28h0m-5 1h0m-3 5h0m-2 4h0m-99 34h0m4 3h0m-3 4h0m-4 2h0m123-17h0m-3-4h0m39 27h0m1-5h0m-5 1h0m-5 2h0m-145-80h0m-3 3h0m-50 39h0m56-72h0m-5-2h0m-1 5h0m1 5h0m66 22h0m1 5h0m-3 4h0m5 2h0m-5 1h0m-109 26h0m-5 1h0m-5-1h0m4 3h0m93 22h0m12-75h0m-1-5h0m4-4h0m2 4h0m-67 106h0m-4-2h0m-5 0h0m122-33h0m-5 1h0m-2-4h0m10-27h0m16 5h0m-157 15h0m-3-4h0m2-5h0m0-5h0m-2-4h0m187 10h0m5 0h0m-20 53h0m2 5h0m5-2h0m1-5h0m-93-2h0m5 3h0m-18-42h0m3-3h0m-1-5h0m-4 0h0m23-18h0m-5 2h0m-56 52h0m38 39h0m3-4h0m-88-64h0m3 4h0m4 3h0m5-1h0m96-63h0m4-2h0m-5 0h0m-3 4h0m14 13h0m-4-3h0m-1-5h0m5 0h0m-9 77h0m-94-48h0m3 4h0m5 0h0m-18 28h0m-2-4h0m4-2h0m2-5h0m4-3h0m138 28h0m4 2h0m-60-2h0m-2-5h0m1-5h0m60-16h0m2-5h0m2-5h0m5-1h0m4-2h0m-120 64h0m4-2h0m5 1h0m133-80h0m1 5h0m-3 4h0m-54 21h0m-1-5h0m-5 2h0m-5-1h0m77 32h0m-3 3h0m-5 0h0m-4 3h0m-12-72h0m0-5h0m-5 0h0m-168 22h0m70-44h0m16 115h0m-5 0h0m3 4h0m-14-10h0m3-22h0m-2 5h0m-23-97h0m4 2h0m4-3h0m-3-4h0m23 104h0m4 4h0m-44 3h0m46-62h0m4 3h0m-1 5h0m2 5h0m18-51h0m-5-2h0m-4-2h0m-4-3h0m4-4h0m-21 69h0m-3-4h0m-4-3h0m135 11h0m0-5h0m-30 18h0m-61-61h0m27 80h0m-119 15h0m-5-2h0m-2-5h0m33-31h0m13-47h0m3 4h0m-16 27h0m-5 0h0m-4-3h0m4 3h0m0 5h0m26 42h0m4 1h0m3 4h0m2-97h0m24 59h0m0 5h0m0 5h0m-4 2h0m-67-2h0m2-5h0m5-1h0m5-3h0m58 42h0m-88-76h0m-5-2h0m-1-5h0m140 42h0m-3 4h0m-4-2h0m10-48h0m-3 4h0m-148 58h0m-3-4h0m161-8h0m5 1h0m53-7h0m4-4h0m2-5h0m-4-3h0m-202-36h0m4 2h0m118 27h0m2-4h0m1-5h0m-5-1h0m-132 51h0m-4-3h0m47-65h0m-3 4h0m-1 5h0m-5 1h0m-4-3h0m89-14h0m-70-11h0m-4-2h0m-20 28h0m-1-5h0m4-3h0m-1-5h0m4-3h0m19-14h0m48 10h0m-3 4h0m3 5h0m-1 5h0m-5 0h0m-82 37h0m24-63h0m-2-5h0m-4-3h0m-5 0h0m24 60h0m-4 3h0m-3-5h0m-1-5h0m2-4h0m50-21h0m2 4h0m-55 77h0m-5 2h0m1 5h0m15-97h0m-5-2h0m29 91h0m-5 1h0m-1 5h0m4 3h0m-5 0h0m35-53h0m-5-1h0m-5 2h0m-4 3h0m116 6h0m-33-18h0m31 39h0m-2-4h0m-5-2h0m-3-4h0m1-5h0m-130-72h0m-4 2h0m93 37h0m2-4h0m-83-11h0m2 5h0m-5 0h0m-6 65h0m3-4h0m3-4h0m-11-102h0m118 36h0m2 5h0m0-5h0m2 61h0m0-61h0m2 4h0m4 3h0m17 81h0m1-5h0m-5-2h0m-4 1h0m0 5h0m-146-64h0m4 3h0m26 37h0m-4 3h0m-3-4h0m2-4h0m92-43h0m-1-5h0m-5 2h0m34 42h0m5 2h0m-65-13h0m-1-5h0m-2-4h0m-2-5h0m46-18h0m-123 123h0m-4-2h0m-5-1h0m91-105h0m-1-5h0m5-1h0m-128 35h0m111-66h0m-5 1h0m-2 4h0m-73-1h0m0 5h0m-5-3h0m-4 64h0m-29 8h0m1-5h0m0-5h0m171 19h0m-54-42h0m5-1h0m3 4h0m-83-57h0m59 110h0m-4-2h0m4-3h0m-97-23h0m28 17h0m-4-2h0m162-50h0m-4 2h0m-5-1h0m-177-34h0m-4-3h0m152 58h0m67 32h0m0-5h0m-43-41h0m-3-5h0m27-30h0m2 5h0m-129-47h0m0 5h0m50 94h0m-5-2h0m47 14h0m-105-110h0m-5 1h0m122 74h0m5 0h0m0 5h0m19 17h0m-1 5h0m-46 0h0m-4-3h0m7 6h0m3-30h0m2-5h0m-102 103h0m4 4h0m5 1h0m78-148h0m2-4h0m-3-4h0m-63-28h0m1-5h0m-41 24h0m0 5h0m-68 74h0m-3 4h0m-4 3h0m107-32h0m-4 1h0m2 5h0m129 20h0m-135-1h0m4 0h0m-3-4h0m42-84h0m-25 105h0m-4-4h0m1 5h0m-64-83h0m153 66h0m39 20h0m-2 5h0m5 0h0m-204-84h0m0-5h0m3-4h0m36 49h0m-5 1h0m-4 3h0m30-47h0m97 14h0m-5 1h0m-28 37h0m3 3h0m3 5h0m-108-46h0m-5-2h0m-4-2h0m144 59h0m-89 40h0m-3-5h0m52-78h0m-3-4h0m4 0h0"/>
<path id="a13" transform="scale(.5)" d="M753 349h0m-21 23h0m2 6h0m-62 4h0m1-5h0m-5-3h0m-3 4h0m66-61h0m-4-3h0m-2-4h0m0-5h0m-45 21h0m-1-5h0m4 3h0m-4 3h0m72-10h0m2 5h0m-80 28h0m4 3h0m4 3h0m5-1h0m-5-28h0m85 30h0m-3-4h0m-4-3h0m-5 1h0m-36 14h0m0-5h0m1-5h0m-3 4h0m-4-3h0m-14 21h0m5-1h0m3-4h0m-4-2h0m-5 1h0m75-4h0m-4-3h0m-38-55h0m-5 2h0m55 47h0m5 0h0m5 2h0m-1 4h0m-63-61h0m82 40h0m-5-1h0m-5-2h0m-2 5h0m-4 2h0m2 5h0m-5 1h0m-143-16h0m-2-4h0m-5 0h0m5-2h0m5 1h0m114 27h0m-4 3h0m-4-2h0m-5-1h0m-3-5h0m-6-53h0m2 24h0m2-4h0m0 5h0m-4 3h0m-4 1h0m65 27h0m-3 4h0m-5 1h0m-68 19h0m-3-4h0m5 1h0m-4 4h0m5 2h0m39-81h0m5 0h0m1-4h0m3-4h0m-7 72h0m-5-1h0m-4-3h0m-5 0h0m-11-36h0m-2-4h0m12-5h0m2-5h0m-63 27h0m1 5h0m-1 5h0m70 8h0m-34-20h0m-2 4h0m-4 4h0m-4-2h0m0-5h0m-30-25h0m5 0h0m5-1h0m-2-5h0m-1-5h0m32 36h0m5-3h0m5-2h0m3-3h0m-22 42h0m5-2h0m-44-19h0m4-2h0m2-5h0m93 19h0m-3-4h0m21 12h0m-77-7h0m-5-1h0m1 4h0m-4-1h0m-3 3h0m107-16h0m-2 4h0m4-3h0m-96 9h0m4-4h0m0 5h0m-5-2h0m4-3h0m21-14h0m3 4h0m-1-5h0m24-32h0m5 0h0m5-1h0m1 5h0m-4 3h0m20 53h0m-2 5h0m-3 3h0m3 4h0m-110-31h0m4 2h0m4-4h0m31-63h0m-5 1h0m1 5h0m4 3h0m-5 1h0m-26 58h0m-3-76h0m-3 4h0m-2 4h0m-5 2h0m-5 0h0m101 28h0m4-2h0m-36-19h0m2-5h0m22 81h0m-5-2h0m-3 4h0m3 4h0m-5-2h0m-41-9h0m3 4h0m4 3h0m-32-51h0m5-1h0m-1-5h0m2 4h0m14 51h0m42-20h0m3-4h0m5-1h0m-30 40h0m4-3h0m5 0h0m4 4h0m-61-25h0m-1 5h0m1 5h0m85 9h0m-4-3h0m-95-37h0m106 2h0m-63-29h0m-1-4h0m2-5h0m-1-5h0m-45 43h0m-5 2h0m-2-4h0m4-3h0m5 1h0m77 2h0m-1 5h0m-2 5h0m-1 5h0m3 4h0m43-28h0m5 1h0m0 5h0m-4-3h0m-98-3h0m2 5h0m4-3h0m-5 2h0m-23-3h0m1 4h0m1 5h0m-3 4h0m5 2h0m43-25h0m2 5h0m-3-4h0m-5 2h0m-1 5h0m33 26h0m-14-33h0m-4-2h0m-5 3h0m-1-5h0m-26 38h0m48-61h0m2 5h0m2 4h0m-4 2h0m-4 3h0m-88 55h0m2 4h0m-4 2h0m2 5h0m67-1h0m-4-1h0m-6 8h0m21-32h0m-76-5h0m0-5h0m-2-4h0m71 12h0m-5-2h0m-3-3h0m0-5h0m-59 27h0m-5-1h0m-5 2h0m-3 4h0m5 2h0m17-42h0m-4-3h0m-4-2h0m147 44h0m2-4h0m-136 5h0m5-62h0m3-4h0m111 67h0m4-2h0m-5-1h0m-5 1h0m-31 1h0m3 3h0m-67-34h0m4 4h0m1 5h0m0-5h0m90-24h0m-4 3h0m-71 57h0m94-16h0m-4-3h0m0-9h0m5 0h0m5-1h0m-3-4h0m-4-2h0m-67 33h0m4 2h0m5-3h0m21-20h0m0 5h0m-1 5h0m3 5h0m-122-67h0m-3-4h0m1 5h0m132 61h0m2-5h0m4 2h0m-14-16h0m-4 2h0m-4-3h0m-69-37h0m2 5h0m3-4h0m3-4h0m33-18h0m-15 95h0m0 5h0m-2-5h0m3-4h0m3-7h0m-4-2h0m-3-4h0m2 4h0m-48 1h0m-5 1h0m-5-2h0m-4-4h0m-1-4h0m61 7h0m3 4h0m5 0h0m-1-4h0m-18-36h0m1-5h0m5-2h0m-1-15h0m-1-5h0m5-2h0m74 65h0m-4 3h0m5 1h0m2 5h0m-3 4h0m-126-60h0m1 5h0m19 21h0m108-24h0m1-5h0m4-3h0m5-1h0m-87-12h0m-5 2h0m-2 40h0m-2-4h0m61-39h0m-1 5h0m-12 1h0m-93 19h0m4-1h0m-2 4h0m84 36h0m3-4h0m-1-5h0m3-4h0m45-14h0m-73-12h0m53 36h0m2 5h0m5-3h0m5-1h0m-59-74h0m70 70h0m4 3h0m0 5h0m4 2h0m-115-4h0m-4-2h0m-3-5h0m1-5h0m5 1h0m-11-61h0m-4-2h0m-3 5h0m3 4h0m20 64h0m-5-2h0m34-27h0m4 2h0m34 7h0m-48-39h0m4 4h0m5 1h0m2-4h0m5 0h0m11-25h0m-5 1h0m-5 2h0m12 0h0m3-4h0m-2-5h0m3-4h0m-4-3h0m26 73h0m4-3h0m0 5h0m5-2h0m1 5h0m15 4h0m-4-3h0m-4 2h0m-5-2h0m-2 5h0m-60-51h0m-2-4h0m-1 5h0m4 2h0m78 47h0m-51-1h0m-3-3h0m5-1h0m66 26h0m4-2h0m3-4h0m3-4h0m2-5h0m-155-8h0m4 3h0m-2 5h0m38-53h0m1-5h0m5-1h0m-5 3h0m-5 56h0m-3-3h0m5 1h0m2-5h0m4 3h0m77 16h0m-4 3h0m5 0h0m5-2h0m4-3h0m-102-77h0m-14 47h0m3-4h0m7-31h0m-4-3h0m-5-2h0m3 4h0m5 2h0m97 30h0m2-5h0m1-5h0m10 55h0m5 0h0m2-4h0m-1-5h0m-66-38h0m-1-5h0m-5 0h0m-1-4h0m16-1h0m1 32h0m-2-5h0m-4-2h0m-21-62h0m-5 1h0m2 5h0m-1-5h0m85 77h0m-5 0h0m-4 4h0m3 4h0m5 1h0m-103-78h0m-4 3h0m4 4h0m-4 2h0m-4 3h0m67 19h0m-4 3h0m-4 1h0m-2 5h0m-83-16h0m34-4h0m1 0h0m-2 4h0m5 1h0m85 19h0m-5-1h0m5 3h0m4-2h0m-2-4h0m-101 5h0m58-42h0m4-3h0m1 5h0m-78 58h0m-4-3h0m1-5h0m-2 5h0m5-1h0m64 22h0m-5 1h0m-3-3h0m-52-55h0m-17 12h0m5 0h0m4 3h0m5-1h0m1-5h0m66-13h0m1-5h0m-1-4h0m-60 33h0m-16-17h0m5-2h0m4 3h0m-4 3h0m-5 2h0m111 25h0m-48 18h0m-88-6h0m58-22h0m1 5h0m5 3h0m11 16h0m36-35h0m3-4h0m4-4h0m0-5h0m-66 63h0m-3 4h0m-34-30h0m-5 0h0m119-10h0m24 33h0m2 4h0m4-2h0m0-5h0m-62-28h0m-5-1h0m4-3h0m5 1h0m1 5h0m-72 29h0m-5 0h0m-5 0h0m2-4h0m5-1h0m-1-107h0m2 4h0m27 30h0m5 0h0m45 43h0m1 5h0m-5 1h0m-73-11h0m-1 5h0m4 3h0m100 44h0m0-5h0m73-2h0m1 5h0m-2 4h0m-156-61h0m-8 6h0m-25-10h0m42 15h0m-5-1h0m14 3h0m8-26h0m4-2h0m-4 53h0m2-4h0m-35-50h0m-2-4h0m-8-58h0m4-3h0m104 121h0m5-1h0m-71-33h0m4-3h0m-17-22h0m-4-4h0m-8 95h0m0-5h0m50-63h0m-3-4h0m-23-2h0m4-3h0m5 1h0m-74-7h0m21 70h0m-14-133h0m-5 2h0m-22 76h0m4-3h0m44-19h0m2 5h0m4 2h0m-27 5h0m0 5h0m5-2h0m-27 45h0m91-85h0m5-1h0m0-5h0m-32-12h0m4 3h0m-5 2h0m9 97h0m1-5h0m2-4h0m57-8h0m-5 2h0m46 8h0m-2-5h0m-76-54h0m4-4h0m-79 44h0m-3-4h0m22-64h0m-3 3h0m26 69h0m-5 1h0m-22-38h0m35-20h0m-2 5h0m64 33h0m-4-1h0m-5-2h0m-137-76h0m-4 2h0m-4-3h0m-4 3h0m2 4h0m24-13h0m-3-3h0m0-5h0m3-3h0m1 5h0m-9 8h0m5 2h0m-3 4h0m18-12h0m-1-5h0m-23 2h0m-4 35h0m17-28h0m0-5h0m-5 0h0m-34 5h0m5 1h0m2-4h0m1 4h0m29-4h0m-31 18h0m4-3h0m4-3h0m3-3h0m25-5h0m-31-12h0m3-4h0m4-3h0m-3 5h0m24 5h0m17-1h0m-4-4h0m-5 1h0m5-3h0m3-4h0m-34 31h0m4-2h0m5 0h0m4 3h0m-11 2h0m1-5h0m13-6h0m-8 8h0m2-4h0m1-5h0m11-12h0m4 2h0m-5 2h0m-3 4h0m-45 14h0m2-5h0m2 5h0m-3-5h0m37 12h0m2-4h0m-1-5h0m5 143h0m1 13h0m10 15h0m-9-16h0m3-3h0m17 15h0m-9 1h0m13-2h0m-17-4h0m-1 3h0m-2 1h0m-11 6h0m1-29h0m0 13h0m23-1h0m-20-14h0m-2 1h0m0 18h0m2 1h0m25 1h0m-3 5h0m-15-13h0m-9-9h0m9 13h0m-6 2h0"/>
<path id="a7" transform="scale(.5)" d="M859 306h0m-32-77h0m3-4h0m1-13h0m67 134h0m5 0h0m1-5h0m5 0h0m-1-5h0m-59-2h0m2-103h0m5-1h0m0-5h0m-4-3h0m0-5h0m16-24h0m4 3h0m-1 5h0m5-1h0m4 3h0m77 132h0m2 4h0m5 2h0m5 0h0m-5-2h0m-7 42h0m4 3h0m3 4h0m-25-47h0m-38-50h0m3 3h0m-14-34h0m5-1h0m0 5h0m-94-47h0m-4 3h0m3 4h0m5 2h0m4-3h0m76 15h0m3 4h0m5-1h0m4-1h0m36 53h0m-5 1h0m5-3h0m-2 5h0m-20-66h0m-5 0h0m14 72h0m-55 29h0m1-4h0m-6-111h0m2-5h0m-7 84h0m-1-4h0m-2-5h0m69-5h0m5 0h0m-3-4h0m-4 3h0m-5 0h0m-3 71h0m72 21h0m4 1h0m-3 4h0m-3 4h0m4-3h0m-20-39h0m0 5h0m4 3h0m5 0h0m5-1h0m-30-7h0m-5-3h0m43 25h0m-5 0h0m-4 1h0m-5 2h0m-5 2h0m-90-58h0m93 7h0m2 4h0m3 4h0m-20-14h0m-3-4h0m-114 1h0m4-3h0m-5-1h0m-1 5h0m1 5h0m49-26h0m4 0h0m39 68h0m4-3h0m-58-86h0m-5-2h0m-1-5h0m-2-4h0m79 60h0m5 1h0m-4 3h0m-5 1h0m-5-2h0m-102-122h0m5 0h0m3 4h0m89 102h0m-129-45h0m1-5h0m-5-1h0m131 17h0m-4-2h0m-4 4h0m0-5h0m32 19h0m-4-3h0m-5-2h0m-4-1h0m0-5h0m-53-31h0m6 21h0m-5-1h0m43 73h0m3-4h0m5-3h0m20-36h0m-70-81h0m0-5h0m-108 60h0m5 1h0m-2-29h0m0 5h0m0 5h0m47-19h0m3-3h0m-2-5h0m-25 32h0m-3-3h0m3 4h0m109-20h0m3 4h0m5 0h0m-4-4h0m5 3h0m-32 75h0m-2 5h0m-2 5h0m-1 4h0m77 38h0m5-1h0m-55-36h0m3 3h0m-2-4h0m4-3h0m-30-52h0m66 108h0m-155-155h0m45 106h0m-32-48h0m-32-30h0m5-2h0m205 108h0m-3 4h0m-1-5h0m-141-70h0m1-5h0m1-5h0m4-3h0m-4 3h0m54 22h0m-82-60h0m-5-2h0m99 88h0m-4-2h0m-4-4h0m79 2h0m-4 3h0m-3 5h0m-3-4h0m-5-2h0m-151-98h0m2 4h0m-27 6h0m5-2h0m0-5h0m5-1h0m173 76h0m-5-1h0m-3-4h0m-3-4h0m3-5h0m9 86h0m-4 3h0m-5 0h0m-1 5h0m5 0h0m-108-150h0m4 3h0m-3 4h0m-1 5h0m13-47h0m-3 3h0m3-3h0m2-5h0m16 55h0m-2-5h0m-3-12h0m3-4h0m2 4h0m2 4h0m3 5h0m61 110h0m-4 3h0m2 4h0m-194-84h0m-4 3h0m-4 3h0m68 33h0m-33-25h0m44-87h0m2 4h0m140 140h0m0-5h0m3-14h0m-1 5h0m5-1h0m3 4h0m3 4h0m-160-63h0m2-5h0m64-15h0m5 1h0m5 1h0m-121 31h0m195 45h0m-1-5h0m-1 4h0m-194-50h0m-4 3h0m1-5h0m102 23h0m-4-4h0m-4-3h0m4-3h0m5 0h0m30 63h0m-73-76h0m1-5h0m80 62h0m-5 2h0m-5-2h0m0-5h0m69 23h0m-5 1h0m5 2h0m-156-47h0m107 9h0m-4-4h0m-4-1h0m3 3h0m3-4h0m-48-61h0m-1 5h0m1 5h0m-1-5h0m-3-4h0m-46-5h0m12 69h0m-4 3h0m-2 5h0m-5 0h0m22-1h0m3 5h0m1 4h0m4 4h0m-80-71h0m141 52h0m5 1h0m-4-4h0m-95-28h0m158 77h0m-2 4h0m-4 4h0m5 2h0m1 5h0m-36-66h0m-5 2h0m0-5h0m-16-21h0m2 4h0m5 0h0m2 5h0m-41 36h0m-88-142h0m-4 2h0m5-1h0m-3 4h0m43 122h0m45 6h0m-2 5h0m-5-1h0m68-50h0m-144-47h0m-4 3h0m-5 2h0m5-2h0m0-5h0m150 120h0m-4-3h0m9-65h0m-27 68h0m-5 2h0m4-4h0m3 4h0m34-29h0m0 5h0m-65-45h0m-4-1h0m5 1h0m-120 8h0m2-5h0m74 13h0m83 0h0m5-1h0m5-2h0m4 1h0m35 80h0m5 0h0m-177-134h0m4-4h0m4-3h0m32 21h0m4 3h0m-5 1h0m39 0h0m1 5h0m2 5h0m3-4h0m-3-38h0m2 5h0m2 4h0m4 3h0m-48 80h0m106 37h0m-2-5h0m-4-3h0m0-5h0m1-5h0m-139-115h0m-5 2h0m54 0h0m-2 5h0m-3 4h0m-2 92h0m-1-5h0m5 2h0m5-1h0m3 4h0m-36-75h0m-5 0h0m5-2h0m2-5h0m4-1h0m57 15h0m2 4h0m-117-15h0m-5 1h0m2-5h0m4 3h0m1 5h0m43-37h0m-1-4h0m107 88h0m40 66h0m1 5h0m-2 5h0m-5 1h0m-36-90h0m-1 5h0m-1 5h0m0 5h0m2 4h0m-129-86h0m5-2h0m5 3h0m-4 3h0m-13 56h0m-5 0h0m-3 5h0m1 5h0m137 43h0m-5-2h0m-4-3h0m13-58h0m-4 4h0m4 3h0m-15 38h0m-5 1h0m-4 3h0m62 61h0m2-4h0m-1-5h0m-3 4h0m4 3h0m-137-112h0m-3 4h0m3 4h0m5 1h0m101 106h0m-2-5h0m4-2h0m-2-5h0m-124-143h0m0 5h0m5 0h0m-1-5h0m135 133h0m0 5h0m-110-154h0m5 2h0m3-4h0m-5 0h0m-5-3h0m74 64h0m4-3h0m5 1h0m1 5h0m3-4h0m-167-14h0m5-2h0m-4 3h0m127-19h0m-5 0h0m-1 5h0m2 8h0m-2-4h0m0-5h0m-4 3h0m-5 1h0m51 34h0m-4 2h0m3 4h0m30 76h0m4-3h0m-27-15h0m4 1h0m4 3h0m-153-127h0m131 75h0m-3 4h0m4-3h0m2 37h0m0-5h0m4-2h0m-23-102h0m-4-3h0m-19 61h0m-1-4h0m-105-56h0m0 5h0m64-23h0m-5-1h0m20 125h0m-35-25h0m1 5h0m-4 1h0m-5 0h0m41 11h0m-5-1h0m-5 0h0m32 25h0m-5 2h0m0 5h0m-12-97h0m-5-2h0m-45 23h0m2 5h0m-21-55h0m-2-5h0m94 96h0m-84-56h0m-5 0h0m2 5h0m22-54h0m-4 2h0m-1-5h0m-1-4h0m106 135h0m17-34h0m4-4h0m0 5h0m-5 0h0m-78 5h0m4 2h0m5 2h0m-3-81h0m-5 0h0m-3 44h0m112 115h0m-144-184h0m-1-5h0m130 150h0m-4-3h0m4-3h0m-3-5h0m-4 4h0m-132-22h0m40-44h0m1 5h0m-50-10h0m-2-5h0m5 2h0m1 5h0m-3 4h0m99-9h0m3 43h0m-5 0h0m-5-1h0m1 5h0m-5-1h0m-31-91h0m-3-3h0m-33-2h0m-2-5h0m1 5h0m-4 4h0m8-20h0m2 5h0m8 26h0m71-2h0m2-5h0m0-5h0m-35 47h0m44 41h0m41-15h0m-2 4h0m-55 8h0m74-13h0m-4-3h0m-3-4h0m4 3h0m4 3h0m-168-39h0m0-5h0m-1-5h0m-5-1h0m101 57h0m-3 5h0m-4 1h0m-5 3h0m4-3h0m-102-75h0m-4-3h0m127 58h0m5 1h0m3 5h0m23-14h0m-5-2h0m3-5h0m-80-7h0m1 5h0m-2-5h0m-4-2h0m-13-55h0m-4-2h0m57 117h0m5 0h0m4-2h0m-136-76h0m-5 1h0m-2 4h0m30-17h0m3 5h0m88 87h0m-5-1h0m-3-4h0m-33-119h0m-3-4h0m-2-5h0m4-3h0m-3-3h0m19 118h0m-29 17h0m-5 1h0m-5-1h0m-1 4h0m-12-50h0m-4-2h0m4 3h0m3-4h0m2-5h0m89 67h0m12-82h0m4-4h0m-2-5h0m10 101h0m0-5h0m-5-1h0m1-5h0m3 4h0m-176-87h0m1-5h0m2-5h0m-2-4h0m75-3h0m4 2h0m2-5h0m24 45h0m0-5h0m1-4h0m1-5h0m-5 1h0m125 126h0m-2-4h0m-5-3h0m-14-5h0m0 5h0m-73-168h0m3-4h0m-3-4h0m-78-15h0m-1-5h0m134 154h0m-1-5h0m-3 4h0m-4-2h0m-132-131h0m2-5h0m-1-5h0m-4-3h0m-10 66h0m61 56h0m-4 3h0m-5 3h0m4-4h0m101 14h0m-115-128h0m-5 2h0m-60 60h0m82-11h0m22 82h0m2-4h0m-4 2h0m-5 1h0m4-3h0m96 16h0m-123-164h0m3 4h0m-4 2h0m-4-3h0m-4 3h0m-3 130h0m5-1h0m42-22h0m3 4h0m17-81h0m-5 1h0m-4-1h0m-1 5h0m-90 73h0m3 3h0m171 51h0m-5-2h0m-2-4h0m-5-2h0m-132-54h0m-4-2h0m-5-2h0m-1-5h0m46-67h0m-54 39h0m5-1h0m-5-1h0m-4-55h0m3-4h0m-4 3h0m5-2h0m3 4h0m159 140h0m-113-133h0m-2-5h0m28 106h0m49-31h0m-140-1h0m82-29h0m1-5h0m4-3h0m4-3h0m86 144h0m-1-5h0m1-5h0m13-22h0m-1-5h0m3 4h0m3-4h0m-43-49h0m5 1h0m-107-71h0m4-2h0m0-5h0m14 53h0m129 73h0m2-5h0m4 4h0m4-3h0m-26-29h0m4 2h0m5 3h0m0-5h0m-113-31h0m-4-3h0m-5 0h0m-5 1h0m110 44h0m-2-4h0m-5 1h0m-111 22h0m-3 4h0m-4 4h0m-1 4h0m2 5h0m61-79h0m-4-4h0m-5 1h0m-4 3h0m27 54h0m5 1h0m5 2h0m0-5h0m15 34h0m3-4h0m5 1h0m-1 5h0m-18-82h0m4-4h0m-124-1h0m-5-2h0m-38-54h0m-2-4h0m121 100h0m-5 0h0m1-5h0m-4-2h0m-95-106h0m152 83h0m-1-5h0m0-5h0m-5 0h0m-4 2h0m-92-30h0m37 47h0m5 3h0m-5 3h0m-3 3h0m-9-97h0m0-5h0m5-3h0m101 160h0m3-4h0m5 1h0m0-5h0m0-5h0m-155-35h0m127-24h0m4-2h0m5 0h0m5 0h0m4-4h0m-107 22h0m-4-2h0m4-4h0m-2-43h0m91 52h0m4-3h0m-2-5h0m-5-1h0m-5 0h0m46 43h0m-5-1h0m-108-132h0m-1-5h0m0-4h0m4-4h0m5-2h0m-72 45h0m1 5h0m-3-4h0m3-4h0m5-2h0m119 120h0m5 1h0m1 5h0m-3-4h0m-117-73h0m-4 3h0m5 0h0m5 1h0m104 18h0m3-4h0m5 1h0m-97 14h0m0-5h0m-5 1h0m5-1h0m5 0h0m107-12h0m-5 0h0m0-5h0m-3-4h0m3-4h0m-137-58h0m0-5h0m-1-4h0m3-4h0m31 111h0m-1 5h0m-3 4h0m3 3h0m-2-4h0m55-120h0m-4 3h0m-5-1h0m-2-4h0m-5 0h0m90 118h0m0-5h0m-2 5h0m5-1h0m4 4h0m-146-83h0m5-1h0m4-3h0m-24-58h0m134 105h0m-4 3h0m-136-1h0m4 2h0m2 5h0m-3 3h0m-53-54h0m117 20h0m-32 51h0m0-106h0m19 90h0m-5-1h0m89 70h0m-3 3h0m2 4h0m-37-40h0m-3 4h0m3-4h0m2-4h0m-2-5h0m-79-17h0m1 5h0m-2 4h0m-5 0h0m-44-46h0m3 5h0m-2 4h0m3 5h0m205 49h0m-1 5h0m-4 2h0m-63-101h0m4-1h0m1-5h0m-5-1h0m1-5h0m-59 74h0m4 2h0m4 3h0m-4 2h0m-5 0h0m112 51h0m-193-161h0m-4 1h0m-5-3h0m144 86h0m-1-5h0m1-5h0m5-1h0m-111-37h0m4 1h0m4-3h0m8-52h0m-5 1h0m3-4h0m3 3h0m93 188h0m-1-5h0m-5 0h0m-4-3h0m-111-108h0m68-31h0m-14 19h0m4-3h0m5 1h0m-1-5h0m4 2h0m16 76h0m4-3h0m-3-5h0m-5-1h0m4-4h0m0-87h0m-66 0h0m0-5h0m165 106h0m3 4h0m-4 4h0m-2 4h0m-4 3h0m-64 0h0m-5-105h0m-4-2h0m-110 76h0m-5 1h0m-5 0h0m136-4h0m-1-5h0m5 2h0m5-3h0m-1-5h0m-20 11h0m0-5h0m-4-4h0m4-3h0m-4 3h0m-24-64h0m-73 35h0m5 1h0m4-3h0m90-9h0m47 72h0m-135-124h0m-2 5h0m-1-5h0m95 142h0m-105-49h0m-3-4h0m-5 0h0m2 4h0m45-35h0m-2 5h0m53-40h0m5 0h0m-2-4h0m-1-5h0m0-5h0m51 99h0m5-1h0m4-1h0m-4 2h0m4 3h0m-92-80h0m39 37h0m3 4h0m-1 4h0m4 2h0m1-5h0m20 62h0m44 64h0m5 1h0m-2-5h0m-4 3h0m-87-98h0m4-2h0m5-1h0m-2-5h0m-54-2h0m1 5h0m-1 5h0m-2 5h0m45 33h0m12 27h0m60-6h0m-2 4h0m-48-132h0m2-4h0m-90 33h0m5-1h0m119 61h0m-25 31h0m-57-37h0m-4-2h0m-3-4h0m-32-100h0m126 134h0m0-5h0m-5 0h0m-59-33h0m5-1h0m-40-8h0m61-55h0m-4 3h0m30 96h0m-5 3h0m-64-103h0m-4 2h0m-5-2h0m26 31h0m1-5h0m1-5h0m73 87h0m-53-39h0m2-4h0m5-2h0m-128-48h0m3-4h0m161 99h0m4 2h0m-65-54h0m-5 1h0m-23-120h0m0-5h0m3 4h0m11 31h0m5 1h0m4-3h0m15 17h0m0-5h0m-3-3h0m-75 91h0m0 5h0m112-28h0m0 5h0m-5 2h0m-114-145h0m-2 4h0m69 135h0m-5 1h0m-5 0h0m-30 23h0m-15 17h0m2-4h0m-3 4h0m33-117h0m16-43h0m5 2h0m83 153h0m-2-4h0m-3 4h0m23-67h0m1 5h0m-76 9h0m3 5h0m5-12h0m-98 85h0m-1 5h0m-2 5h0m-25-76h0m143 86h0m-4-4h0m-24-5h0m-4-2h0m1-5h0m-95-169h0m-40 101h0m-3-4h0m-4 2h0m34-67h0m4-4h0m-3-5h0m197 104h0m-63-1h0m2-5h0m-5-1h0m-161-9h0m4-1h0m3 5h0m196 90h0m-128-143h0m115 105h0m-2 5h0m-5 2h0m-83-91h0m0-5h0m56 43h0m-4-2h0m-2-5h0m34 12h0m5 1h0m0 5h0m11-12h0m-3 4h0m-4 2h0m-122 40h0m-4-2h0m-4 2h0m84-111h0m2-5h0m-18 110h0m-5 0h0m-22-98h0m-2-6h0m-1-5h0m-3-4h0m-12-8h0m81 161h0m-1 5h0m-21-180h0m103 185h0m-3 3h0m-3-4h0m-175-46h0m-36-169h0m223 176h0m-5 0h0m-96-58h0m-4 2h0m-5 1h0m-5 92h0m3-4h0m5 1h0m60-41h0m-4-90h0m4 2h0m3 4h0m-73 44h0m-2-4h0"/>
<path id="a9" transform="scale(.5)" d="M334 404h0m0-4h0m3-5h0m5 1h0m-4 3h0m68 17h0m-3-4h0m-28-10h0m4-1h0m-5 3h0m-4-3h0m-4-3h0m-16 40h0m-5 1h0m-2-4h0m-4 1h0m46-1h0m3 4h0m-5 2h0m-4 2h0m-5 3h0m-86 4h0m4 2h0m-2 4h0m-5 3h0m-8-41h0m100 47h0m-3-4h0m-6-61h0m-1-5h0m4 0h0m4 4h0m-3 3h0m-50 64h0m4 4h0m-5 2h0m-3 3h0m3 4h0m6-6h0m-4-3h0m-1-5h0m-5-2h0m2-5h0m12 9h0m-4-4h0m-4 3h0m1 5h0m-5 1h0m19-58h0m53 32h0m0 5h0m-93-47h0m4 3h0m-5-1h0m81 6h0m-1 5h0m-3 4h0m-67 53h0m-5-2h0m43-19h0m3-4h0m-4-3h0m-5 1h0m28 39h0m-2-5h0m-5 1h0m-17-26h0m-2 5h0m-56-48h0m-4 3h0m-3 4h0m-4 2h0m3 3h0m36 50h0m26-76h0m-4-2h0m-4 4h0m-3 4h0m27 0h0m-1-5h0m-2-4h0m-5 2h0m-3 3h0m5 81h0m-5 0h0m3-4h0m2 4h0m-58-32h0m60 2h0m-4 2h0m-37-49h0m-2-4h0m0-5h0m-1-5h0m5-2h0m-46 33h0m21-28h0m87 41h0m1-5h0m4-3h0m-79 40h0m-3-3h0m54 42h0m3 4h0m-5 1h0m-5 0h0m-16-18h0m-5 0h0m0 5h0m5-1h0m5-1h0m-68-40h0m3-4h0m68-55h0m-1-5h0m4-3h0m58 54h0m-5 0h0m-4 2h0m-5 1h0m-3 4h0m-102-29h0m3-4h0m2-4h0m43 35h0m-7 36h0m3-3h0m-3-4h0m-5-2h0m35 0h0m5 0h0m5 1h0m-4-3h0m-2 4h0m-66-50h0m-5 2h0m-3-4h0m49 47h0m5 0h0m-1-31h0m2-4h0m5-1h0m-36-7h0m4 3h0m-14 25h0m28-25h0m23 43h0m-5 1h0m-4 2h0m-5 2h0m3-4h0m26-56h0m-1-5h0m0-5h0m1-5h0m-4-4h0m5 50h0m-2-5h0m-4-1h0m11-17h0m4-4h0m4 3h0m4-1h0m5-1h0m-109 14h0m82-29h0m0 5h0m-5 7h0m5-1h0m5-2h0m-70 7h0m-3 5h0m5 1h0m21 15h0m-3 4h0m-1 5h0m0-12h0m4-3h0m3 4h0m5 0h0m4-19h0m-5 0h0m0-5h0m5 2h0m3-4h0m-51 42h0m4-2h0m-10-61h0m5 1h0m-4 3h0m52 23h0m5 0h0m3 4h0m3 4h0m-56 5h0m-4-1h0m-3 5h0m0 5h0m94 51h0m4 3h0m10-85h0m-2 4h0m4-3h0m4 3h0m-4-4h0m-64 33h0m36 23h0m-2 5h0m-5 2h0m-2 4h0m-4 3h0m18-39h0m2-4h0m-4-4h0m-4-2h0m-5-2h0m20 2h0m-5 0h0m-5-1h0m3 4h0m11-48h0m-6 35h0m-4 3h0m-3-5h0m-3-3h0m-51 33h0m-3-3h0m-5-2h0m59-26h0m-5-3h0m-11 64h0m-1 5h0m-5 0h0m-4-2h0m-2-5h0m-32-17h0m5 0h0m-3 4h0m0 5h0m38-23h0m-1 5h0m-4 3h0m4 3h0m4-2h0m46-64h0m5 1h0m4-3h0m-9 51h0m-87-33h0m-8 49h0m-4-3h0m-5 0h0m-1-5h0m65-45h0m5-2h0m4-3h0m-66 51h0m4 6h0m5-2h0m-5-1h0m4 2h0m3-16h0m-4 4h0m3-4h0m-5 1h0m-2 4h0m22-4h0m1-5h0m-3-4h0m37-23h0m0 48h0m-1-5h0m0-5h0m2-5h0m-3-4h0m-78-32h0m-5-2h0m-5-2h0m3-4h0m4 2h0m42 88h0m55-21h0m-32-72h0m-3-3h0m40 1h0m-51 72h0m-2-5h0m0-5h0m4 2h0m5 3h0m13-61h0m-5-2h0m-22 92h0m-5-2h0m1-72h0m-43 29h0m-4-1h0m-1-40h0m-4 3h0m-5-2h0m1-5h0m3-4h0m54 56h0m-2-4h0m49-24h0m0-5h0m-5-2h0m31-29h0m0-5h0m26 41h0m3-4h0m5-1h0m-31 9h0m-92-15h0m4-2h0m5-2h0m5 1h0m1 5h0m4 47h0m28 0h0m-4-3h0m0 5h0m-5-3h0m-2-4h0m-33 5h0m6-2h0m3 4h0m-5-3h0m-3-4h0m4-3h0m-30-9h0m2-5h0m57-47h0m4 4h0m5 1h0m5-2h0m-83 19h0m24 16h0m20 44h0m20 9h0m40-12h0m-3-4h0m-78-19h0m4-3h0m5-1h0m83-19h0m5-1h0m-24 15h0m-5 0h0m0 5h0m-4 3h0m-26-56h0m0-5h0m-5 2h0m-4-3h0m-5-1h0m73 69h0m-5 1h0m-30-30h0m-7-2h0m4 3h0m-79-15h0m-5 2h0m138 10h0m5-1h0m-1-5h0m-4-3h0m-3-4h0m-36 24h0m4-3h0m-41 46h0m45-25h0m-4 2h0m-34-7h0m-4 16h0m2-5h0m3-4h0m-3 4h0m-5-2h0m27 20h0m0-5h0m27-62h0m3 3h0m5 0h0m1 5h0m-17 2h0m-54 16h0m-5 1h0m5 0h0m5 2h0m-3 5h0m1 0h0m5 1h0m-3 3h0m2-4h0m7-5h0m0 5h0m0 5h0m-38-8h0m5-3h0m4 2h0m-3 36h0m-5 1h0m-5-1h0m-1-4h0m31 16h0m2 5h0m2 5h0m2 4h0m-4 4h0m94-89h0m-4-2h0m-5 3h0m-2-3h0m-2 5h0m1 5h0m-2 4h0m-141-25h0m0 5h0m-5 0h0m-1-5h0m1 5h0m35 42h0m2 4h0m-2-4h0m20 7h0m4-3h0m5 1h0m5 1h0m39-63h0m3-4h0m-36-1h0m-1-5h0m-38 55h0m4-3h0m4-3h0m15 27h0m-40-65h0m23 5h0m4-2h0m4-4h0m3-4h0m101 34h0m3-4h0m-118 9h0m10 49h0m-3-4h0m3-4h0m-2-4h0m5-1h0m26-41h0m-1 5h0m-42-2h0m4 3h0m4-3h0m59 36h0m5 0h0m-1 5h0m-5-1h0m-5 2h0m41-30h0m-47-38h0m4-2h0m-5 0h0m17 8h0m4-3h0m2 4h0m-14 19h0m-5 2h0m-3-4h0m62-17h0m-2-5h0m-2 5h0m0 5h0m5 1h0m-116 5h0m-5 0h0m-2-5h0m5-1h0m5 0h0m118 2h0m3 4h0m-4 1h0m-3 5h0m-59 49h0m4 2h0m1 5h0m-4 4h0m-69-40h0m4 3h0m-3 4h0m-3 4h0m73-23h0m12 48h0m2-4h0m-8-59h0m5 0h0m1 5h0m-2-4h0m-66 48h0m-4-2h0m-4-4h0m-1 5h0m3 4h0m17-36h0m95-6h0m-3 4h0m-4 4h0m5 1h0m-88-1h0m1-5h0m-4-2h0m-2 4h0m39-22h0m-4 2h0m-5-2h0m3 4h0m-13 3h0m-19-21h0m55 21h0m-1-5h0m-7 37h0m-5 1h0m-5 0h0m5-1h0m-8-17h0m-5 0h0m-1-5h0m-4 3h0m-40-8h0m48 35h0m30-38h0m1-5h0m0-5h0m-4-4h0m-4-2h0m-24 2h0m-67 17h0m-5-3h0m1-5h0m5 2h0m45 64h0m-4-3h0m15-92h0m-1 4h0m2 5h0m-42 58h0m-2 5h0m4 3h0m88-47h0m5-3h0m-3 4h0m-91 82h0m-5 2h0m-5-1h0m2-62h0m39-45h0m90 42h0m4 3h0m20-43h0m0-5h0m0-5h0m-48 115h0m-109-72h0m121 60h0m5-1h0m-126-61h0m3 4h0m-4-15h0m4-3h0m4-2h0m136 101h0m-3 4h0m-3 4h0m-95-27h0m2 4h0m-25 8h0m0-5h0m45 15h0m-50-124h0m-32 23h0m4 3h0m5-2h0m54 27h0m-97-54h0m-3 4h0m4 2h0m159 55h0m3-4h0m-26-47h0m-33 100h0m-58-114h0m1 5h0m5 1h0m92 16h0m39 2h0m-147 25h0m-4-2h0m74-24h0m-5-2h0m14 45h0m1 5h0m0 5h0m-107-66h0m-2 5h0m-2 4h0m119 42h0m-27-4h0m-4-3h0m1-5h0m-17-74h0m4-4h0m-18 100h0m37-7h0m-5-2h0m-61 0h0m5 1h0m1-5h0m117 8h0m18-35h0m3 4h0m-1 5h0m-74 106h0m-2 4h0m-45-135h0m-2-5h0m161 249h0m4-4h0m3-4h0m-2-4h0m-5 1h0m-29 9h0m1-4h0m4-19h0m1 5h0m2 4h0m7-17h0m-4 2h0m2-4h0m-1-5h0m4 3h0m-15 20h0m-7-32h0m4 20h0m-4 3h0m10-4h0m22 56h0m-2-4h0m-3-5h0m0 5h0m-23-17h0m-4-2h0m-1-5h0m15-42h0m1-5h0m-1-5h0m0 34h0m6-66h0m-2 5h0m14 125h0m-5-43h0m5 0h0m1 5h0m5 0h0m4 3h0m-27 35h0m4 3h0m5 1h0m5 1h0m5 0h0m-37-55h0m1 4h0m2 5h0m4 3h0m5-1h0m18 3h0m-6-76h0m3 4h0m2 4h0m3 4h0m-19 34h0m1 5h0m5 0h0m17 1h0m-3-5h0m5 2h0m-19 21h0m16-20h0m-4 2h0m-4 3h0m-15 30h0m5-1h0m22-19h0m4 3h0m4 2h0m4 4h0m-9 9h0m-27-46h0m1-5h0m-4-3h0m-4-3h0m-5-1h0m3-7h0m0 5h0m5-1h0m10-20h0m-5-2h0m-4 3h0m3-3h0m23 109h0m-5 3h0m-3 3h0m-5 1h0m18-48h0m-1-5h0m-22-59h0m5 0h0m4-2h0m5-2h0m-5 17h0m5 2h0m4-2h0m-35 19h0m-5-1h0m2-5h0m1-5h0m1-4h0m17 72h0m-6 17h0m-4 4h0m-4 3h0m-5-86h0m-3-4h0m5 3h0m4-3h0m-2-4h0m38 35h0m4-2h0m2 5h0m4-2h0m-5-3h0m-23 53h0m5-2h0m4 3h0m0 5h0m-44-100h0m4 39h0m-5-2h0m0-5h0m5 0h0m-3-4h0m31 6h0m-4 4h0m4 4h0m1-57h0m5-2h0m5-1h0m0 5h0m0 5h0m-4 25h0m-15 33h0m-7-55h0m-5-2h0m-3-3h0m3-4h0m38 34h0m3 4h0m5-1h0m1-5h0m-3-4h0m-23-25h0m-2 5h0m-13 82h0m5 0h0m-5-1h0m22-19h0m-4 3h0m3 4h0m-31-62h0m-1-5h0m-4-2h0m1 4h0m-2 4h0m29 83h0m-5-1h0m-2 5h0m-11-61h0m27-24h0m3-4h0m-5-1h0m9-3h0m2-4h0m2 4h0m0 5h0m-5 0h0m-23 21h0m4 1h0m5 2h0m3 4h0m-3 4h0m-11 10h0m-1 5h0m-5 2h0m-3-4h0m-5-1h0m32 13h0m-13-64h0m3-4h0m-20 6h0m-5 0h0m22 38h0m2-5h0m4-3h0m5 2h0m-17-30h0m-2-5h0m-4 3h0m-3 4h0m-4 2h0m18 56h0m-4-1h0m-5 1h0m-3 4h0m1 5h0m17-76h0m1 5h0m-20 47h0m-5 2h0m11-27h0m-1-5h0m2-4h0m-6 12h0m-1-5h0m3-4h0m36 79h0m0 5h0m-154-319h0m10-3h0m-8 1h0m77 13h0m-42-10h0m14 2h0m-24-1h0m50 6h0m-23-2h0m20 1h0m-24-1h0m14 4h0m-29-2h0m3-8h0m-26-1h0m1 0h0m26 5h0m-31-5h0m77 14h0m-28-7h0m-11 3h0m-50-17h0m80 19h0m16 3h0m-59-11h0m6 2h0m11-1h0m21 7h0m-23-8h0m-43-6h0m68 13h0m-11 0h0m21 3h0m-2-5h0m-33-1h0m-12 2h0m49 1h0m10 6h0m-64-10h0m-9-7h0"/>
<path id="a6" transform="scale(.5)" d="M531 419h0m-4 3h0m-5 1h0m-4 2h0m-14-129h0m-4 4h0m-2 4h0m0-5h0m4-3h0m108 93h0m-113-52h0m-4 1h0m91 62h0m5 1h0m4 1h0m-64-40h0m-5 0h0m5-2h0m91-12h0m-86 42h0m-5-1h0m-3 4h0m5-2h0m0 5h0m81-52h0m5 1h0m5-2h0m-13 30h0m5-2h0m4 3h0m5 0h0m2 5h0m-21 21h0m-2-4h0m-1 4h0m3 4h0m1-5h0m31 1h0m4-4h0m3-4h0m-3-3h0m-5 2h0m-81-60h0m5-1h0m1-5h0m36 52h0m-4 3h0m-4 3h0m-96-42h0m2 4h0m3 3h0m92-12h0m1-4h0m2-5h0m5-1h0m4-3h0m-80 26h0m-1-5h0m-5 1h0m111 39h0m5-1h0m4 4h0m-7 18h0m-2 4h0m3-4h0m-90-12h0m-2-5h0m5 0h0m-3 4h0m129-37h0m-4-1h0m1-5h0m4-3h0m-66 40h0m3 5h0m0 5h0m30 10h0m4 3h0m2 5h0m-90-74h0m-53 38h0m5 0h0m-4 3h0m-5-2h0m1 5h0m6 23h0m25-100h0m0 102h0m3-3h0m122-60h0m4 3h0m-4-2h0m4-3h0m5-2h0m-104 2h0m92 45h0m-60-25h0m-4 2h0m-1 5h0m4-3h0m3-4h0m-84-51h0m5 2h0m4 3h0m-2 5h0m-5 0h0m61 25h0m-2-4h0m-3-4h0m-5-1h0m-92 27h0m-4-3h0m-5-3h0m69 20h0m0-5h0m-3-3h0m-2-81h0m5 0h0m4 2h0m-2 5h0m-3-3h0m47 126h0m4-2h0m4 3h0m74-58h0m-120-9h0m-5-1h0m1 5h0m4 2h0m4 4h0m-15-52h0m5 3h0m102 46h0m1-4h0m3-5h0m2 5h0m4 3h0m-78 63h0m-52-19h0m-1-5h0m-1 5h0m101-79h0m3 4h0m-4 4h0m-66 51h0m1 4h0m10-10h0m-2-4h0m-2-5h0m-5 0h0m5 1h0m68 37h0m0 5h0m-1 5h0m0 5h0m0 5h0m-15-41h0m0 5h0m-97-92h0m46 71h0m-4 3h0m-4-3h0m3-4h0m18 16h0m1-5h0m3-4h0m5 0h0m-12-73h0m4-3h0m0-5h0m1-5h0m-2-5h0m-24 21h0m-5 1h0m-5-1h0m-4 3h0m34 31h0m5 2h0m2-5h0m-108 21h0m-3 4h0m-2 5h0m-4 2h0m5 0h0m147-21h0m-2 4h0m-3 4h0m-104-7h0m-5-1h0m7 25h0m0 19h0m-1 5h0m-2-5h0m-4 3h0m186-19h0m0 5h0m-4 3h0m-120-48h0m0-5h0m-55 43h0m0-5h0m-4-2h0m-5-2h0m3-35h0m3 4h0m123-41h0m0 5h0m-122 21h0m4 2h0m5-1h0m4-3h0m-2 5h0m138-9h0m-4 3h0m-5 1h0m4 3h0m24 41h0m-2 4h0m-21 47h0m-2-4h0m5-2h0m-149-70h0m5 1h0m5 1h0m133 49h0m4 4h0m-154-60h0m1-5h0m5 1h0m77 45h0m-29-76h0m-45 70h0m5-1h0m5-1h0m5 2h0m-55-22h0m57 10h0m1 5h0m147 25h0m4-3h0m-66 13h0m2 28h0m0-5h0m-4-4h0m41 0h0m-5 2h0m1 5h0m4 4h0m-20-68h0m-5 1h0m-4 2h0m-76 57h0m-1-5h0m-2-4h0m1-5h0m-40-33h0m158 46h0m-4-3h0m-1-5h0m-110-3h0m4-4h0m0-5h0m88-11h0m-5 0h0m3-5h0m-39 43h0m1-5h0m1-5h0m2-29h0m43-17h0m0-5h0m-5-1h0m-1 5h0m-132-14h0m-5 1h0m-4 3h0m4-3h0m4-3h0m135-36h0m4-2h0m-64-12h0m0 5h0m5 2h0m51 53h0m1 5h0m4 3h0m4 4h0m5-1h0m-4-62h0m-1 5h0m-5-1h0m4 3h0m4-4h0m4 14h0m-39 53h0m52-32h0m-3 4h0m-12 52h0m-45-89h0m42 95h0m-2 5h0m2 5h0m3 3h0m3-4h0m-18-7h0m0 5h0m-5 1h0m-2 5h0m44-31h0m-146-98h0m-5 1h0m-5 1h0m3 4h0m39 76h0m5-2h0m-3-4h0m4 2h0m87-12h0m5-1h0m2-5h0m-10 22h0m-4 3h0m-2 4h0m2 5h0m-91-56h0m-3-4h0m-4 3h0m2 5h0m3-4h0m28-35h0m-2 5h0m13 49h0m5 0h0m4 3h0m4 3h0m5 1h0m39 23h0m14-51h0m0 5h0m0 5h0m-5 82h0m-161-79h0m2 4h0m-2 5h0m141-25h0m-66 43h0m-56-17h0m89 45h0m1 5h0m2-5h0m-5 2h0m-62-93h0m-5-2h0m-41 29h0m-1-5h0m5 2h0m80 14h0m0-5h0m4-4h0m-96-14h0m100 88h0m0 5h0m35-82h0m-132 36h0m5 0h0m4 3h0m4-6h0m-1 4h0m4 3h0m4-2h0m-2-4h0m73 47h0m-5 2h0m0-5h0m97-89h0m2 4h0m4 3h0m-166 31h0m-2 4h0m-4 4h0m-3-4h0m-5 1h0m88 62h0m-23-133h0m4-3h0m5 1h0m-5 0h0m-31 109h0m-12-79h0m-2 5h0m92 50h0m2-4h0m-5 1h0m1 37h0m-135-70h0m-5 0h0m-1-5h0m1-5h0m4 3h0m108-23h0m-4-3h0m-5 0h0m5 1h0m-53-9h0m3 4h0m2-5h0m20-9h0m0 5h0m-1 5h0m5-1h0m5 108h0m-5 2h0m-5-2h0m-1 5h0m-2-5h0m122 8h0m3-4h0m3-4h0m-48-62h0m-84-31h0m-3 4h0m-3 4h0m-3-4h0m45 103h0m4 3h0m5-2h0m17-127h0m-1 5h0m44 5h0m0 34h0m-3-4h0m-5 1h0m-5 0h0m-1 88h0m-29-69h0m5 1h0m5-1h0m4-3h0m-1 5h0m38 15h0m-4 3h0m-2-38h0m-2-5h0m-70 62h0m9-23h0m1 5h0m-5-2h0m5 1h0m-5-1h0m59-15h0m-1 5h0m0 5h0m3 3h0m1 5h0m-1-52h0m-1-5h0m5-2h0m-44 32h0m5 1h0m-2 4h0m1 5h0m-68-18h0m-4-2h0m-2-5h0m1-4h0m118 6h0m-3-4h0m4-2h0m-180 41h0m197-30h0m-2-4h0m-4-2h0m0 5h0m-64 66h0m3-4h0m-3-4h0m-12-45h0m34 43h0m4-2h0m0 5h0m-7-14h0m-64-19h0m1-5h0m-76 2h0m0 5h0m163 10h0m-129-4h0m-5 1h0m3-4h0m-4-3h0m47 3h0m-3-4h0m1-5h0m-3-5h0m-45 13h0m2 4h0m0 5h0m4 3h0m4-3h0m90-43h0m-1-5h0m4 2h0m3 4h0m3-3h0m-74 67h0m-5-1h0m2-5h0m95-95h0m-39 102h0m-4-3h0m-3 4h0m58-58h0m-2 5h0m8 43h0m2 4h0m5 3h0m1-5h0m-89-87h0m-3 4h0m-5 0h0m-3-4h0m-31 17h0m3-4h0m5-1h0m88 33h0m17-35h0m-1 5h0m2 5h0m19 6h0m5 2h0m3-4h0m0-5h0m-117 86h0m-5 1h0m5-2h0m5 1h0m5 0h0m-8-39h0m103 1h0m5-2h0m4 2h0m1 5h0m-35-61h0m3 4h0m-151 68h0m-4-3h0m93-42h0m1 5h0m-9-31h0m5 0h0m-1-5h0m2-5h0m5 1h0m82 85h0m-5-1h0m-19-50h0m-2-5h0m-3 5h0m4 4h0m5 0h0m-51-33h0m5 1h0m-5 1h0m-7-14h0m57 52h0m-129 16h0m-5 0h0m-2 5h0m136-65h0m-4-1h0m-5 2h0m2-5h0m4 1h0m-110 100h0m138-62h0m5 0h0m-133-19h0m5-2h0m1-4h0m-5 2h0m-4 2h0m93 21h0m-89 0h0m-2-5h0m-65 6h0m-3-4h0m-5-2h0m5-1h0m114 80h0m-3-4h0m-5-1h0m45-110h0m-5 0h0m-2-4h0m-3 4h0m3 4h0m-43 63h0m4-3h0m4 2h0m-5 1h0m-4 1h0m96-6h0m1 4h0m5 0h0m3 4h0m-70-29h0m5 0h0m2-4h0m5 2h0m-85 50h0m52-32h0m2-5h0m-4 2h0m-56 59h0m3 4h0m61-79h0m-2 4h0m-2 5h0m5-2h0m-81 66h0m49-32h0m5 0h0m5-3h0m-5-1h0m-5-1h0m-16-15h0m4-2h0m-1-5h0m-4-4h0m36-46h0m3-4h0m5 1h0m-35 37h0m5-1h0m4-4h0m4 2h0m5 1h0m-61 49h0m-1-5h0m58 51h0m-76-36h0m-4 2h0m103-11h0m-5 1h0m-3 3h0m86-67h0m-2 5h0m-105 18h0m53-16h0m2 4h0m3 4h0m-5-2h0m-104-17h0m-5 80h0m5-2h0m2 4h0m94-56h0m0-5h0m-1 5h0m3-4h0m44-15h0m-4 0h0m2 4h0m4-4h0m-154 8h0m0-5h0m5 1h0m4 3h0m69 2h0m4 3h0m-1 5h0m0-5h0m-2 4h0m-37-6h0m-2-4h0m-4 2h0m-3-4h0m-2-4h0m96 10h0m-5 0h0m-108-12h0m3-3h0m34 10h0m-5 1h0m-2-5h0m-4-3h0m1 5h0m119 18h0m-3 4h0m5 1h0m-76 34h0m-5 1h0m26 29h0m5-18h0m55-78h0m4 1h0m5 2h0m-1-4h0m-105 19h0m-3 4h0m-4 4h0m3 5h0m-5 1h0m20-13h0m1-4h0m4 2h0m-1 5h0m-45 12h0m-5-1h0m-4 3h0m35 73h0m82-102h0m-1 5h0m4-3h0m-66 72h0m4-3h0m99-34h0m5-1h0m3 4h0m5 1h0m-177 35h0m0-5h0m4-2h0m122-29h0m-4-3h0m0-5h0m-5-1h0m4 3h0m-62 67h0m2-5h0m-4-3h0m95-22h0m-3-4h0m-41-13h0m-4-2h0m-2 4h0m-1 5h0m-36 11h0m5-2h0m5 0h0m0 5h0m-1 5h0m71-8h0m-4-4h0m-51-13h0m-4-2h0m-3-4h0m64-43h0m-1-5h0m5-1h0m0-5h0m5-1h0m-110 112h0m5-1h0m-4 3h0m-1 5h0m96-103h0m-2-5h0m-101 92h0m97-57h0m5-1h0m3-4h0m-28-4h0m-3-4h0m-5-1h0m-122-7h0m63 6h0m-5-2h0m-29 26h0m5 1h0m-4-2h0m-2 5h0m4 3h0m43-42h0m4-2h0m3 4h0m2-4h0m-68-2h0m39-33h0m2 5h0m5-3h0m53 45h0m4 3h0m-3 3h0m3-3h0m3 4h0m-65 82h0m21-66h0m3 4h0m-4 4h0m-10-35h0m-1 5h0m-59 15h0m5-1h0m-2-4h0m4-4h0m-36 31h0m97-50h0m-4 3h0m56 43h0m29-12h0m-5-1h0m-4-2h0m1-5h0m-5 0h0m-3-63h0m-1 5h0m3 4h0m5 1h0m-49 95h0m-5-1h0m-5 0h0m66-104h0m0-5h0m-1-5h0m-5 1h0m-5-2h0m26 70h0m-4-3h0m-158 26h0m135 26h0m-4 3h0m-95-135h0m1 5h0m4 2h0m113 87h0m-4-3h0m-4-2h0m-138 11h0m0 5h0m-4 2h0m64-94h0m-4 1h0m-5-2h0m-4-2h0m-11 56h0m5 1h0m3-4h0m100 34h0m-5-1h0m5-2h0m-5-1h0m-2 5h0m-110-80h0m-1 5h0m5 0h0m-53 68h0m2-4h0m-3-4h0m91-15h0m-3-4h0m0-5h0m-1-5h0m-2 5h0m33 23h0m-5-2h0m-1-5h0m2-5h0m-1 5h0m13-5h0m0-5h0m-5-2h0m-3 4h0m-121 38h0m5 1h0m5 1h0m120-9h0m4-4h0m5 1h0m-1-5h0m-1-5h0m-48-44h0m-1 5h0m1 5h0m43 4h0m-15 81h0m-4 3h0m-1 4h0m-17-69h0m-112 23h0m3-4h0m197-30h0m4 3h0m4-2h0m5-2h0m1 5h0m-81 21h0m-1-67h0m2-5h0m3-4h0m-77 52h0m0-5h0m-1 4h0m-3 4h0m86-54h0m-5 97h0m-3-4h0m2-4h0m-2 4h0m-2 5h0m32-47h0m1-5h0m-111 46h0m4-3h0m4 3h0m3-5h0m31-98h0m3 4h0m-5 2h0m-3 4h0m99 24h0m-4-3h0m-5-1h0m-5 0h0m-167 52h0m0-5h0m-5 2h0m182 46h0m4 3h0m-4 3h0m-5 0h0m-130-102h0m3 5h0m84 96h0m-5-2h0m0-5h0m-5 0h0m-104-46h0m0-5h0m97-1h0m-2-4h0m-2-5h0m-2-41h0m-1-4h0m2 4h0m-54 48h0m5-1h0m1-4h0m1-5h0m54-43h0m2 5h0m-5 1h0m-5 0h0m-58 84h0m4 2h0m3 4h0m-2 5h0m13 17h0m5 1h0m4 3h0m5-2h0m65-97h0m3-3h0m-81 10h0m3 5h0m-3 4h0m-5 0h0m-4-3h0m98 86h0m-4 3h0m1 5h0m-83-102h0m4 4h0m74 2h0m0 5h0m39-3h0m-56 64h0m-5 1h0m-2-4h0m-3-4h0m31-43h0m0 5h0m4 3h0m-5 5h0m10-25h0m3 4h0m4 3h0m2 4h0m3 4h0m-105-25h0m-5 1h0m-1 5h0m-5 1h0m104 38h0m-3-4h0m-104-56h0m3-4h0m1-5h0m-5-3h0m137 45h0m-5 2h0m-5-1h0m-5-1h0m-5-1h0m-172-2h0m3-4h0m4-4h0m1-5h0m4-3h0m-24 27h0m-4 1h0m7-7h0m99-35h0m2-4h0m-5 122h0m-25-8h0m-3 4h0m-5 0h0m2 4h0m0 5h0m63-58h0m-4 3h0m3 5h0m1 5h0m74-7h0m2 5h0m-3 3h0m-167-34h0m2 5h0m-5 1h0m15 0h0m-1 5h0m4 1h0m2-5h0m118-65h0m-5 0h0m-4-4h0m-131 76h0m1 5h0m-3 3h0m1-5h0m124-28h0m5 1h0m3-4h0m4 2h0m-22 51h0m-85 6h0m1 5h0m5-1h0m-2-4h0m126 6h0m5-1h0m-1-5h0m-93-76h0m5 1h0m0-5h0m40-17h0m5 0h0m-1 5h0m3 4h0m-4-3h0m-3 7h0m1 5h0m4 4h0m-3-35h0m-1 4h0m-4-3h0m46 99h0m-138 23h0m3-4h0m72-110h0m-3 4h0m1 4h0m-5 2h0m52 15h0m3-5h0m1 5h0m3 4h0m-31 32h0m-35-24h0m2 5h0m4 3h0m-81-38h0m168 67h0m5 1h0m-4-4h0m-5-1h0m-200 16h0m91 45h0m3 4h0m-2-99h0m1-43h0m3 4h0m25 25h0m0-5h0m32 11h0m1 5h0m2 4h0m-2 5h0m-140 62h0m154-22h0m-1-5h0m-5-1h0m-12-64h0m-113 24h0m101 20h0m2 5h0m0 5h0m-25-72h0m4-2h0m5-1h0m-86 18h0m95 4h0m0 5h0m-4 2h0m-31-39h0m0 5h0m3-4h0m23-10h0m-4-3h0m15 61h0m1-5h0m70 51h0m-12-67h0m5 1h0m13 90h0m-19-129h0m-3 4h0m3 3h0m-90 27h0m4-2h0m101 18h0m-1-5h0m2-5h0m-145 66h0m2 5h0m-52-85h0m131 118h0m2 5h0m1-5h0m24-36h0m-150 2h0m5 2h0m4-3h0m-17-36h0m33 31h0m-1-5h0m-3 3h0m128 33h0m-50 18h0m-1-5h0m-113-71h0m51 10h0m39 66h0m31-112h0m-4 3h0m33 30h0m-3 5h0m-145-26h0m3 4h0m46 81h0m3 3h0m58-130h0m-2-5h0m-116 29h0m146 66h0m4-2h0m38 22h0m-2-4h0m-5 0h0m-114-48h0m86 27h0m5-2h0m-24-32h0m3-4h0m-23 34h0m0 5h0m5 0h0m-11-26h0m58 55h0m-4 2h0m-106-70h0m30 98h0m5 1h0m0-5h0m122-64h0m-5 1h0m-5-1h0m-164-45h0m-2-4h0m22 66h0m5 2h0m-5 0h0m103-35h0m5 1h0m-125 100h0m4-3h0m-4-4h0m-9-92h0m98 46h0m-5 2h0m-4 2h0m-57-137h0m1-5h0m145 81h0m-4 3h0m-1-5h0m-94 1h0m-1 5h0m13-2h0m75 83h0m-5 0h0m-163-39h0m5 1h0m-2 29h0m-5 0h0m79-67h0m0-5h0m-3-5h0m41 53h0m-5 0h0m-28 9h0m5-2h0m-10-1h0m-9 21h0m-122-32h0m4 3h0m5-3h0m77 11h0m2-4h0m-5-1h0m-37-18h0m5-2h0m111-9h0m-3 4h0m4 4h0m-2 64h0m-5-1h0m-67-114h0m85 41h0m2-4h0m-164-8h0m-5-2h0m65-4h0m-5-1h0m-1 5h0m11 3h0m61-43h0m2 4h0m-81 113h0m2 5h0m-2 4h0m23-89h0m81 16h0m-2 4h0m-4 4h0m21 44h0m4-3h0m-5-2h0m-67-61h0m-5 0h0m-5 1h0m-47-1h0m4 1h0m-1 5h0m5-31h0m2-5h0m21 40h0m129 110h0m8 25h0m-10-39h0m-5 19h0m3-6h0m8-35h0m-17 11h0m16 20h0m-1 16h0m11 6h0m2 5h0m-21-66h0m1 12h0m1 26h0m-6 7h0m-13-5h0m21-39h0m3 80h0m-6-41h0m-3 7h0m-17 3h0m13-50h0m6 3h0m-12 76h0m31-6h0m-21-50h0m-18-19h0m20 23h0m7 43h0m0-13h0m9 7h0m-16-9h0m4-18h0m6 41h0m3-4h0m-14-54h0m19 57h0m-12-12h0m-10-16h0m15 11h0m-7-62h0m10 69h0m-12-19h0m0 21h0m-20-43h0m16 5h0m7 24h0m5 2h0m7-11h0m-37 4h0m8-30h0m20 23h0m-4 2h0m-14-10h0m6-2h0"/>
<path id="a2" transform="scale(.5)" d="M784 405h0m-38-6h0m62 28h0m5 1h0m-58-5h0m4 3h0m-1 5h0m-4-3h0m55-22h0m5-1h0m0-5h0m0-5h0m5 1h0m-110 88h0m28-56h0m0 5h0m1 5h0m-5-1h0m181 23h0m1-5h0m-1-5h0m2-4h0m1-5h0m-49-20h0m-3-3h0m3-4h0m-2-5h0m2 5h0m13 26h0m-4 3h0m-4 3h0m-5 2h0m-3 4h0m-46 26h0m-5-1h0m34-26h0m5-3h0m1 5h0m-5 1h0m0 5h0m-86-70h0m57 95h0m-3 3h0m112-5h0m-21 8h0m4 2h0m1-5h0m4 2h0m-43-109h0m3-5h0m-2 5h0m-5 2h0m-5 0h0m-4 75h0m-5 0h0m-3-4h0m-3-4h0m-1-5h0m14-44h0m-113 62h0m3 3h0m-1-4h0m73 39h0m3 5h0m0-5h0m-7 33h0m3-5h0m-2 5h0m2 5h0m-4 3h0m83-118h0m3 4h0m2-5h0m-87 60h0m-1-5h0m5 0h0m-40-49h0m-16-41h0m3 3h0m-3 4h0m84 92h0m0 5h0m-33-86h0m5-2h0m4-3h0m5 1h0m58 69h0m-5 0h0m-4 3h0m-30-92h0m-5-1h0m-5 0h0m-5 0h0m-108 25h0m179 77h0m1-5h0m-207-28h0m-5 1h0m113 51h0m-111-76h0m4-3h0m4 4h0m4 2h0m2 5h0m187-32h0m-3 4h0m1 4h0m-87 53h0m-2-4h0m91-39h0m0-5h0m-119-49h0m-4 2h0m103 60h0m-59 65h0m-37-96h0m5-1h0m5 1h0m5-1h0m4 3h0m38 122h0m1 5h0m5-1h0m-88-75h0m0-5h0m-26 1h0m1 5h0m0 5h0m5-2h0m53 36h0m-33-81h0m5 0h0m5-1h0m5 2h0m-24 37h0m5 1h0m40 46h0m9 27h0m-5 0h0m5 0h0m116-84h0m2 4h0m-3-4h0m-4-3h0m-2-4h0m-119 22h0m0 5h0m-2 5h0m2 4h0m-5-1h0m36-7h0m-67-50h0m81-2h0m0-5h0m-2-5h0m-4-4h0m-2-4h0m-138 52h0m183-25h0m-2-5h0m-2-4h0m3-4h0m-1-5h0m-114 35h0m5 1h0m68-46h0m5-2h0m4-2h0m3-5h0m21 65h0m5-2h0m-37 17h0m-4 3h0m2 5h0m0 5h0m2 4h0m-28-72h0m-1-5h0m5-1h0m-1 5h0m-18-17h0m1-5h0m5-2h0m2 5h0m-2 114h0m-5 1h0m-51-6h0m5 0h0m86 42h0m0-5h0m5 1h0m2-142h0m2-5h0m-3-3h0m-43 21h0m-4 3h0m-3 3h0m-5 2h0m-5 0h0m66 16h0m5 1h0m5-1h0m72 17h0m-135-28h0m-1 5h0m-5 0h0m-3 4h0m5-1h0m-21 13h0m0 5h0m3 4h0m4-3h0m25 17h0m-5 0h0m-5 0h0m0-5h0m4-2h0m-13-40h0m26 21h0m-2-5h0m-3-4h0m100 32h0m5 0h0m-119-22h0m-4-2h0m0-5h0m1-5h0m1 5h0m23 49h0m5 2h0m0 5h0m51 19h0m4-2h0m1-5h0m3-4h0m0-5h0m-69-54h0m-4-3h0m1-5h0m35-24h0m-4-3h0m0 5h0m-48 82h0m-3 4h0m-1-105h0m5 0h0m-5 1h0m-2-5h0m3 4h0m-19 38h0m101 40h0m3-4h0m3-3h0m3-4h0m71-16h0m5-1h0m-1 5h0m-5 2h0m-71 23h0m1-5h0m-62 46h0m0-5h0m-3-4h0m-2-5h0m-2-4h0m4-40h0m-1-5h0m27-32h0m-63 23h0m-4 3h0m-4-2h0m1-5h0m-27 30h0m-5 1h0m4-4h0m5 1h0m1-5h0m178 8h0m1-5h0m4-3h0m-108 15h0m-1-5h0m-3-3h0m-40-39h0m3 3h0m136 45h0m-5-1h0m-4 3h0m-4 2h0m-209-18h0m5-1h0m4-3h0m181 37h0m3-4h0m4-2h0m2-5h0m4-3h0m-18-59h0m-5-2h0m-4-2h0m-3 4h0m1 5h0m47 60h0m-134-24h0m96-34h0m3 3h0m4 3h0m4-4h0m-153 44h0m-3 4h0m2-5h0m45-44h0m-3-5h0m-6 90h0m2 4h0m5-1h0m5 0h0m13-41h0m3-4h0m-16 0h0m1-5h0m3-4h0m-4-3h0m51-20h0m-17 5h0m3 4h0m5-1h0m-33-32h0m1 5h0m-3 4h0m26 23h0m5-1h0m-48 31h0m-4-2h0m-5 2h0m-4 2h0m187-21h0m-37 13h0m2-5h0m5 1h0m-105-95h0m2 5h0m3 3h0m-3 4h0m-2 4h0m111 97h0m4 4h0m-2-5h0m-182 26h0m80-95h0m-1-5h0m4-4h0m1-5h0m-22 99h0m-4 3h0m-4-3h0m12-52h0m-5-2h0m-19-42h0m98 99h0m-129-11h0m-3 4h0m-3 4h0m3 4h0m3-4h0m36 1h0m2 4h0m-4 2h0m-4 4h0m-3 3h0m60-105h0m-5 2h0m2 4h0m29 8h0m-4-3h0m-151 49h0m-1-5h0m117-22h0m-5 0h0m0-5h0m-43-48h0m-48 112h0m5-1h0m5-1h0m151-43h0m-181-3h0m0-5h0m-5 1h0m1-5h0m3 4h0m100 38h0m-104 4h0m3-5h0m136-94h0m-4-3h0m-4-4h0m-2 5h0m48 79h0m3 3h0m-2 5h0m5-1h0m-1 5h0m-118-43h0m72 27h0m-144-20h0m5 1h0m139 6h0m-2 5h0m-14 18h0m-4 2h0m-20-12h0m95-47h0m-4 3h0m-127 65h0m5 2h0m4-3h0m3-4h0m38 33h0m5 2h0m5 1h0m-32-108h0m-5-2h0m-3-4h0m-5-1h0m-78 40h0m175-22h0m-53 30h0m5 2h0m-3-4h0m-5 0h0m-49 2h0m-10 41h0m3 4h0m4 2h0m86-46h0m2-4h0m5 2h0m4-3h0m-147 21h0m125-31h0m2 4h0m-3 5h0m-4 1h0m-49-54h0m141 64h0m-129 12h0m-18-7h0m3 4h0m-1 5h0m5 0h0m-5 0h0m78 14h0m2 4h0m0 5h0m-3 3h0m-5 1h0m-102-68h0m-3 3h0m-5-1h0m51-12h0m-1 5h0m127 8h0m1-5h0m-5 0h0m-3 4h0m5-1h0m-130 2h0m-3 61h0m60-9h0m-2-4h0m-5 0h0m-5 1h0m68-55h0m-2 4h0m-3 4h0m-4-3h0m-5-2h0m-35 10h0m5-2h0m0-5h0m-34 103h0m-3-4h0m96-102h0m-35 70h0m-5 2h0m-4-3h0m-4-2h0m-86-96h0m5 0h0m5-1h0m2-4h0m-3-4h0m123 38h0m-177 79h0m109-60h0m2-5h0m-3 23h0m-38-77h0m-3 4h0m25 42h0m-92 81h0m3 4h0m129-5h0m5-2h0m4-3h0m23-33h0m3 4h0m-5-1h0m-5 1h0m-143-92h0m-4-3h0m-4 3h0m5 3h0m-1 4h0m68 51h0m-1 18h0m27-38h0m-4 2h0m5 0h0m5 0h0m4 1h0m-85 46h0m-5-1h0m-2 5h0m33 4h0m-5 1h0m2 5h0m33 15h0m1-5h0m0-5h0m-107-72h0m4 3h0m1 5h0m5 1h0m-1 5h0m-12-20h0m-1 5h0m-4 1h0m-2 5h0m1 5h0m48-2h0m-5 2h0m-2 4h0m15 68h0m5 0h0m-3 3h0m-3 5h0m14 9h0m3 3h0m160-91h0m0-5h0m4-4h0m4 2h0m-4 3h0m-234 42h0m81-64h0m-2 5h0m0-5h0m3-4h0m-34 1h0m1 5h0m-2 5h0m-3 3h0m4 3h0m68-7h0m-1-5h0m-3-4h0m-33-28h0m-2-4h0m-4 3h0m5 1h0m-2 65h0m-2 5h0m0 5h0m-5-1h0m-3-4h0m22-39h0m4-2h0m4 4h0m-26 65h0m-3-4h0m-5 2h0m-14-71h0m5 2h0m-2-5h0m-4-3h0m3-4h0m-9 118h0m-4-3h0m67-69h0m3-3h0m10-61h0m57 88h0m4 3h0m3 4h0m5 0h0m-129 33h0m100-93h0m-4-3h0m2-5h0m3-4h0m7 122h0m5 1h0m4-3h0m-154-46h0m-1 5h0m3 4h0m138-16h0m3 4h0m4-1h0m3 4h0m-122-62h0m-5 0h0m-1 5h0m-4 4h0m0-9h0m126 44h0m-4-2h0m-61 69h0m-2-5h0m-3-4h0m8-113h0m62 61h0m-121 29h0m-3 3h0m3 4h0m4 4h0m88-8h0m22-23h0m-14 16h0m-4 3h0m-3 4h0m16-78h0m4 2h0m-4 3h0m8-8h0m2-4h0m2-5h0m1 5h0m-4-3h0m-179 47h0m-5-1h0m1 5h0m-3 4h0m-4-1h0m139 76h0m4 4h0m-56-98h0m19-11h0m4-3h0m5-1h0m4-3h0m0-5h0m-39 65h0m5 3h0m4-2h0m5 0h0m-8 0h0m-4 2h0m-1-5h0m-3-4h0m90-26h0m2-5h0m-1-5h0m-29 95h0m-3 4h0m22-82h0m1-5h0m-16 43h0m4-3h0m4-2h0m0 15h0m2-4h0m-3-4h0m2 4h0m0 5h0m-89-45h0m55 49h0m-5-2h0m-1-5h0m-4-2h0m-25-29h0m1-4h0m-5-1h0m0 5h0m88-32h0m3-4h0m5 1h0m5 0h0m-138 10h0m5-2h0m-2 5h0m-1 5h0m-5 0h0m93-45h0m-4-3h0m5 0h0m38-17h0m-2 5h0m83 42h0m-1 5h0m5 1h0m4-1h0m-5 0h0m-194 47h0m5-1h0m23 16h0m-4 3h0m-5 1h0m3 4h0m33-19h0m-2-5h0m-1-5h0m5-2h0m-64-47h0m-5 2h0m-4 3h0m-3 4h0m138 13h0m4 2h0m-28 79h0m-5 1h0m0 5h0m-134-89h0m-2 5h0m-3 4h0m1-5h0m-5 1h0m98-49h0m2-4h0m5 1h0m2-5h0m99 50h0m5 1h0m-93-31h0m5 0h0m1 5h0m-86 40h0m1 5h0m4-3h0m45-71h0m0 4h0m-2 5h0m0 5h0m-17 85h0m89-16h0m4 3h0m5-2h0m61-40h0m-5-1h0m-1-5h0m3-4h0m-118 56h0m-4 3h0m-5-1h0m4-2h0m-5-2h0m54-53h0m-3 4h0m-26-11h0m2-4h0m-1-5h0m42 90h0m-5-1h0m4-3h0m-54-1h0m14-27h0m4-4h0m-24-8h0m-63-27h0m40 76h0m61 1h0m5 1h0m5 2h0m-15-100h0m-5-2h0m-5-1h0m-4 2h0m-100 73h0m5 1h0m2 5h0m4-4h0m5-1h0m113-75h0m-4-3h0m-2-4h0m2-5h0m15 22h0m-30-15h0m5-2h0m1 5h0m-3-4h0m-3-5h0m-42 53h0m-3-4h0m0-5h0m29 83h0m5 1h0m32-106h0m-2-4h0m47 65h0m-4 4h0m-72-86h0m-4 3h0m-4-3h0m51 123h0m-4-3h0m-1-5h0m-3 4h0m-4 4h0m-17-97h0m-3-4h0m2-5h0m5-1h0m30 109h0m31-38h0m0 5h0m-3 4h0m-5 1h0m-2 5h0m-132 11h0m4 2h0m1-5h0m123-2h0m-5 0h0m2-5h0m-75-66h0m-1 5h0m5-1h0m2-4h0m-4-4h0m-10 29h0m-4 3h0m-4-3h0m-87 18h0m3 4h0m2 5h0m3 4h0m5 1h0m12 6h0m2 4h0m-4-3h0m-3 5h0m5 0h0m127-89h0m-3 4h0m4-3h0m-5-2h0m-35-26h0m-4 2h0m-5 1h0m-68 84h0m66 23h0m4 2h0m61-99h0m4 4h0m1-5h0m1-5h0m2-5h0m-73-7h0m5 1h0m-102 53h0m-5 2h0m46 22h0m97-51h0m4 2h0m0 5h0m-43 89h0m-5-1h0m-31-62h0m-4-3h0m-4-3h0m-2 4h0m-49 34h0m-3 5h0m-4 3h0m195-46h0m-5 0h0m-3 4h0m-36 87h0m15-66h0m-5-2h0m-4-2h0m-4 3h0m-86-67h0m-36 91h0m48-20h0m14 25h0m-5-1h0m-4 3h0m5 3h0m5 0h0m54-30h0m5-1h0m-23-33h0m-36 5h0m1-5h0m5-2h0m3-4h0m33 76h0m4-4h0m3-3h0m4 4h0m3 4h0m-27-75h0m4 2h0m0 5h0m25-45h0m5-1h0m23 117h0m2 4h0m5 2h0m-13-16h0m3-4h0m4-3h0m1-5h0m-63-14h0m2-4h0m-5-1h0m5 1h0m28 37h0m5-1h0m5 0h0m-120-21h0m3 4h0m4 2h0m4-3h0m146-23h0m2-4h0m5 2h0m-170-8h0m-4-3h0m-5-2h0m2 4h0m155 57h0m5-2h0m1-5h0m13-55h0m2-5h0m5 0h0m5 2h0m4-3h0m-105 44h0m-2-4h0m2-5h0m-5 2h0m-4 2h0m104-40h0m-1-5h0m5 0h0m4 4h0m3-4h0m-102 15h0m-5 1h0m-1-5h0m-54 2h0m-1-5h0m63-53h0m1 5h0m63 115h0m-5 1h0m3 4h0m4 2h0m-2-4h0m-115-52h0m2 5h0m-2 4h0m-5 0h0m-4-2h0m99 31h0m-87 4h0m-34-58h0m0-5h0m-2-5h0m-3-4h0m62 83h0m5 2h0m110-49h0m-4-4h0m5-2h0m-4 4h0m-4 1h0m-154-50h0m-5 0h0m-3-4h0m-5 1h0m-1-4h0m34 83h0m-5 1h0m15-83h0m-2 5h0m-38 36h0m5 0h0m-5-2h0m23 72h0m105-75h0m-52-45h0m-5 1h0m2-5h0m3-4h0m1-5h0m32 101h0m-1 5h0m-45-79h0m38 95h0m-4-2h0m-4-4h0m3-3h0m1-5h0m-60-32h0m5 2h0m4-3h0m1 5h0m26-12h0m-5 0h0m-4 2h0m-3 5h0m-50-11h0m75-62h0m4-3h0m2-4h0m4-4h0m-4 3h0m-32 18h0m4-3h0m3-4h0m1-5h0m2 4h0m-22 47h0m-4 2h0m-5 3h0m3 4h0m16-46h0m5-2h0m4 2h0m2 5h0m108 29h0m-2-4h0m2-5h0m-4-3h0m15 56h0m-19-50h0m1 5h0m-3-4h0m-3-4h0m-4-1h0m-208 30h0m-5-1h0m-4 3h0m4 2h0m57 35h0m-4 0h0m72 7h0m-2-5h0m-94-11h0m4 2h0m124-84h0m-37 61h0m-11-72h0m2-5h0m-5 1h0m4 2h0m-75 43h0m187 74h0m5-3h0m2-5h0m1-4h0m-5-1h0m-80-101h0m3-4h0m3-4h0m13 20h0m5 0h0m2 4h0m62 20h0m2 4h0m-1 5h0m1 5h0m-1-5h0m-81 2h0m-3 4h0m-4 3h0m-14-62h0m4 1h0m5 1h0m0-5h0m4 2h0m71 107h0m5 1h0m-128-9h0m5 2h0m-5 0h0m1-5h0m40-3h0m-4 3h0m8-36h0m5-1h0m-73-13h0m2 5h0m0-5h0m4 2h0m140 27h0m4-2h0m-5-1h0m-3-4h0m1-5h0m-160 56h0m-5 0h0m-4 3h0m1 5h0m154 3h0m5 0h0m4-2h0m3 4h0m-3-4h0m-126-122h0m-5 2h0m-2 4h0m-4-3h0m128 92h0m-3-3h0m2 4h0m3 4h0m25-45h0m2-5h0m-5-1h0m-5 0h0m-156 10h0m-4 3h0m172-21h0m5 0h0m-4 2h0m-52 11h0m2-5h0m65 62h0m5 0h0m3 4h0m-222-78h0m4-4h0m-5-1h0m99-59h0m5 0h0m0 5h0m-45 139h0m5 0h0m-61-76h0m49 68h0m-3 4h0m0 5h0m-46 2h0m-1-5h0m134 15h0m-71-152h0m0-5h0m13 87h0m-1-5h0m3-4h0m89 8h0m-1-5h0m-1-5h0m-79 38h0m-18 5h0m-64-42h0m0 5h0m-1 5h0m-32-9h0m5-1h0m-3 4h0m219 25h0m5 32h0m-2-5h0m-82-2h0m1 5h0m8-24h0m34-44h0m5 1h0m-2 4h0m-177-3h0m15-36h0m0-5h0m-3-4h0m46 26h0m10 61h0m-56 4h0m-5-1h0m136-89h0m-5 1h0m-4 3h0m-11 129h0m46-50h0m-61-21h0m-40 0h0m125 36h0m-2 4h0m-163-62h0m-2-4h0m0-5h0m17 71h0m4-1h0m-4-3h0m-49-45h0m167 4h0m-35 42h0m-124-81h0m4 3h0m108 90h0m34-26h0m-48-13h0m105 28h0m4-3h0m-109-32h0m-82-2h0m45 28h0m5-1h0m4-3h0m116-91h0m-193 130h0m77-42h0m5 2h0m11-87h0m74 83h0m-5 0h0m-4 2h0m-16 9h0m-3-4h0m-27 30h0m1 5h0m42-45h0m4 2h0m4 3h0m-61-10h0m-5 0h0m-5-1h0m-22 30h0m-2 5h0m-3 4h0m-39-57h0m5-1h0m-21-9h0m96-70h0m-12 58h0m3 3h0m33 132h0m-4-3h0m104-78h0m5-3h0m1 5h0m34-15h0m-5 2h0m-86-27h0m-2-5h0m-51-38h0m-42-45h0m-1-4h0m135 36h0m-135 108h0m-1-5h0m121 30h0m5 0h0m-5 0h0m-39 25h0m-2 5h0m2 4h0m41-153h0m1-5h0m-58 28h0m4-2h0m4 3h0m-120 53h0m-5 2h0m4 3h0m216-16h0m-1-5h0m2-4h0m-151 51h0m-2-69h0m1 5h0m-40-58h0m1 5h0m-5 1h0m221 28h0m1-5h0m-277 59h0m254 4h0m-114 6h0m-119-41h0m-5 1h0m-5-2h0m76-35h0m-4-1h0m56 113h0m-4 4h0m-43-167h0m5-1h0m141 126h0m-3-4h0m-4 3h0m-135 41h0m125-107h0m-5 0h0m-2 4h0m-187-211h0m19 32h0m3 1h0m-1-9h0m-17-48h0m10 35h0m6 45h0m-1-44h0m-16-19h0m7 1h0m-5-5h0m16 44h0m1 14h0m-10-36h0m6 29h0m-13-33h0m-5-18h0m25 44h0m-5-8h0m-13-21h0m22 36h0m-19-26h0m15 25h0m-9-11h0m-21-61h0m33 88h0m-109 184h0m22 28h0m7 1h0m20-53h0m-42-4h0m-2 22h0m30-26h0m-11 96h0m7-101h0m-12 40h0m20-21h0m-11-1h0m10 70h0m1-34h0m-13 33h0m-2-19h0m-2-45h0m5 8h0m24 35h0m-11 30h0m-21-42h0m21 41h0m-18-8h0m10-8h0m-1-72h0m-5 55h0m-1-56h0m6 33h0m-3 52h0m2-69h0m12 27h0m-31-37h0m9 26h0m14 67h0m-9-101h0m-6 81h0m8 1h0m-2-18h0m-5-20h0m-5-1h0m21 44h0m-10-52h0m14-34h0m7 18h0m-26 85h0m-3-43h0m13-65h0m15 68h0m6 16h0m-42-10h0m24-51h0m-12 21h0m13-34h0m0 67h0m-10-48h0m11 3h0m-11 36h0m6 18h0m-16-25h0m1-51h0m21 4h0m-22 23h0m10-12h0m-1-11h0m8 0h0m14 83h0m-10-16h0m-4 13h0m-1-39h0m8-17h0"/>
<path id="a3" transform="scale(.5)" d="M432 477h0m47 30h0m-1-5h0m61-53h0m-68 69h0m1-5h0m-1-5h0m173 27h0m-97-11h0m-5 2h0m-43 76h0m2-4h0m5 0h0m5 1h0m-91-164h0m-4-3h0m-2-4h0m-4-4h0m126 123h0m-19-46h0m4 2h0m99-9h0m5-1h0m-103-44h0m14 29h0m-3 4h0m1 5h0m5 2h0m2 4h0m79 51h0m-92-62h0m-13 98h0m2-5h0m-116-164h0m2-5h0m-1-5h0m5 0h0m4-3h0m33 46h0m-9 37h0m0-5h0m-4-3h0m4-3h0m-5 0h0m132 40h0m3 4h0m0 5h0m-132-101h0m-4-3h0m192 111h0m5-2h0m4 1h0m-163-120h0m4 3h0m103 62h0m0-5h0m1-5h0m4-3h0m-125 80h0m-5 1h0m85-60h0m5-1h0m-4-4h0m-4 3h0m-35 109h0m-3 4h0m0 5h0m-2 5h0m11-31h0m-5-3h0m-3-3h0m1-5h0m-5-1h0m16 14h0m-1 5h0m-1 5h0m2-4h0m3-5h0m-18 10h0m-5-1h0m5-2h0m128-33h0m5 1h0m1 5h0m3 4h0m-4-4h0m-107-22h0m38-77h0m4-3h0m97 75h0m-2 4h0m1-5h0m0-5h0m-84-8h0m5-2h0m0-5h0m-122-37h0m-5 1h0m-5 0h0m-4-3h0m51-48h0m-28 162h0m0 5h0m-4 3h0m77-136h0m-133-42h0m-2-4h0m147 91h0m0-5h0m-4 3h0m-2 5h0m-39 93h0m2 5h0m-4 3h0m-91-128h0m85 79h0m-2 4h0m-3 5h0m148-19h0m-1-5h0m-5-1h0m-224-87h0m-5 2h0m-5-1h0m-4-3h0m63-49h0m-5 1h0m5 2h0m75 68h0m36 17h0m-2 4h0m-83 112h0m111-70h0m-128-14h0m59-10h0m2-5h0m-4-4h0m82 75h0m4 3h0m-76-14h0m-5-1h0m-5 0h0m-3-4h0m0-5h0m0-25h0m-3-4h0m1-4h0m5-3h0m5-1h0m63 18h0m-5 1h0m-4-4h0m-117-64h0m-5 1h0m-5-1h0m-5 0h0m-4-3h0m142 75h0m2 4h0m-120-112h0m-5-1h0m-2 4h0m34-19h0m-1-5h0m-4-4h0m-4-2h0m-1-5h0m83 117h0m-1-5h0m5 1h0m-110-85h0m-3 3h0m-5 0h0m0-5h0m5 1h0m9 174h0m-2 5h0m-1 5h0m-4 3h0m-5 1h0m-38-166h0m4 3h0m-5-1h0m5-3h0m-5 0h0m207 100h0m3-4h0m4 3h0m-40-73h0m-4-3h0m10 57h0m0 5h0m5-1h0m2-5h0m-4-3h0m6 60h0m-5-1h0m-3 5h0m-160-38h0m3 4h0m1 5h0m130-109h0m-51 101h0m2-5h0m-4-4h0m-3 4h0m-47-2h0m5-1h0m18 19h0m1 4h0m5-1h0m5 1h0m113-67h0m-178-43h0m3 4h0m5-1h0m4-3h0m128 67h0m2-4h0m-5-1h0m-47-40h0m-5 1h0m-3-4h0m-61 69h0m2-5h0m5 2h0m-3-4h0m96 14h0m3 4h0m4 2h0m-4 2h0m-5 2h0m-75 13h0m4-3h0m-2-5h0m-4-2h0m-38 13h0m-4 2h0m7-26h0m1 5h0m35-29h0m-1 5h0m-5 1h0m-5-1h0m3 4h0m-16-19h0m-22 20h0m-5-55h0m-5 1h0m-4 1h0m-2 5h0m38-78h0m-1-5h0m-3-4h0m140 99h0m0-5h0m-4-3h0m-151-115h0m0-5h0m22 55h0m5 0h0m4 4h0m4 2h0m-4-1h0m123 144h0m1 5h0m-1-5h0m-102-76h0m-5 3h0m-4-2h0m5 2h0m19-60h0m2-5h0m119 106h0m-127-3h0m-3-4h0m-4 3h0m4 2h0m0-18h0m-50-72h0m166 19h0m0 5h0m1 5h0m-2-5h0m-5-2h0m-172-82h0m147 67h0m-4-3h0m-3 4h0m-4 4h0m-5-1h0m-155 10h0m-1-5h0m19-71h0m45 168h0m-3-4h0m0-5h0m-4 3h0m163-43h0m4 2h0m3-4h0m5 0h0m-46 52h0m-4 3h0m-169-111h0m2 4h0m1 5h0m150-2h0m5 1h0m-5 2h0m-2-5h0m5-1h0m-136-51h0m-5-2h0m-13 104h0m0-5h0m172-54h0m5 1h0m-4 3h0m-5 1h0m-104-17h0m2 4h0m-4-2h0m-3-4h0m-3-4h0m125 74h0m5 1h0m-1 5h0m-4 3h0m-5 2h0m3 56h0m-164-163h0m3 3h0m0 5h0m-4-3h0m166 107h0m3 4h0m-165 17h0m102-43h0m2 4h0m-86-78h0m-5-2h0m-1-5h0m-4-3h0m137 140h0m-5-1h0m-2-5h0m3-4h0m-103-23h0m-1-4h0m-5 0h0m4 3h0m137-25h0m-130-10h0m-4-2h0m-5 2h0m5-1h0m36 82h0m-3-4h0m2-4h0m3-4h0m5 2h0m-66-5h0m5-1h0m4-3h0m0 5h0m-1 5h0m162-12h0m-2 5h0m-117 16h0m-3-5h0m-58-9h0m-1-5h0m132-79h0m-143 81h0m-1 5h0m30-82h0m-2-4h0m-18 86h0m1 5h0m-2-5h0m163-30h0m-3-4h0m-2-4h0m-10 23h0m-4-3h0m-4 2h0m-5 0h0m-5 2h0m-46-87h0m17 97h0m4-4h0m3-4h0m1-5h0m78 25h0m0-5h0m2-4h0m5-2h0m-2-5h0m-156 7h0m109-58h0m2 5h0m34 36h0m-5-2h0m-3-4h0m-5 0h0m-5-2h0m-33-11h0m-1-4h0m-4 3h0m-5 1h0m-5 0h0m-35 38h0m5 1h0m2 4h0m5 2h0m-80-139h0m-3-4h0m4-4h0m-4-2h0m6 2h0m-4 3h0m99 46h0m-152-51h0m111 133h0m-3 4h0m5 1h0m-43-79h0m-75-37h0m-4 2h0m2 4h0m141 16h0m-3 4h0m-3 4h0m5 2h0m18 29h0m5-1h0m1-5h0m-111 8h0m28 15h0m0-5h0m-2-5h0m89-65h0m5 2h0m4 4h0m4 2h0m5 0h0m-46 115h0m0-5h0m-3 3h0m4-2h0m-5 1h0m-123-100h0m1-5h0m-5 1h0m5-1h0m3-5h0m17 22h0m-2-5h0m208 86h0m-5-1h0m0 5h0m-4 3h0m-3-4h0m-31-113h0m-3 4h0m-9 96h0m3 4h0m-155-70h0m-16-51h0m2-5h0m5-1h0m4-3h0m4-3h0m51 98h0m3 4h0m4-3h0m4 3h0m-3 3h0m53 19h0m-15 10h0m-31-93h0m2 5h0m4 4h0m104-15h0m4 2h0m-39 18h0m-5 2h0m-42 18h0m-51-8h0m-2 5h0m-4 2h0m-5-1h0m28-40h0m-4 2h0m-1 5h0m5 1h0m-7 11h0m-2-5h0m4-2h0m5 0h0m5-2h0m-43-3h0m153 36h0m-4-2h0m-5-2h0m-3 4h0m36 15h0m-4-3h0m-6 1h0m-5 1h0m-1-5h0m5 1h0m-190-8h0m-5-2h0m0-5h0m31-58h0m5 0h0m-2-4h0m-3-4h0m-4 2h0m-17 130h0m3 3h0m20-110h0m5 1h0m87 8h0m-5 1h0m-5 2h0m5 3h0m-1 5h0m-21 48h0m0-5h0m-5 1h0m-4-3h0m10-33h0m-5-1h0m18 28h0m-5 0h0m3-5h0m3-3h0m5-2h0m-53 27h0m-34 7h0m81 39h0m2 5h0m-3 4h0m-3-4h0m-3 4h0m-114-162h0m5 1h0m-5-1h0m-5 1h0m43 130h0m-2 4h0m-5 3h0m25-120h0m0 5h0m-3 5h0m-5 0h0m-5 0h0m114 43h0m1 4h0m5 2h0m-4 4h0m-69 48h0m1-4h0m-5-1h0m4-3h0m4 3h0m-27-130h0m-2 4h0m-3-3h0m-5 0h0m132 105h0m-3-4h0m4-3h0m-62-30h0m-3 5h0m-36 98h0m-5-2h0m0 5h0m-3 4h0m32-127h0m1-5h0m4-3h0m4 0h0m49 5h0m-3 4h0m-63-25h0m-2-5h0m3-4h0m-59 24h0m-5-1h0m4 3h0m175 75h0m3-4h0m5-1h0m-231-143h0m4 3h0m-2 5h0m-5-1h0m-4-1h0m73 57h0m-2-4h0m-5 2h0m35 94h0m-3-4h0m-5 0h0m-3-4h0m-2-4h0m76-6h0m-41 69h0m-71-157h0m-1-5h0m32 95h0m-3-4h0m-4 2h0m5-2h0m4 3h0m65 26h0m1 5h0m5 0h0m-3-4h0m1-5h0m36-20h0m-158 21h0m1 5h0m-1 5h0m-5-1h0m-4-3h0m134-19h0m4-3h0m-71 77h0m5 0h0m-4 1h0m0 5h0m4-3h0m7-59h0m-90-93h0m2 5h0m-1 5h0m-2 4h0m26-82h0m3-4h0m8 52h0m2-5h0m5-1h0m4-3h0m-51-11h0m1 5h0m144 117h0m1-5h0m-2-5h0m0-5h0m-49 42h0m3 3h0m5 1h0m5 2h0m-64-147h0m-5 1h0m-4 3h0m152 150h0m1 5h0m4 3h0m-43-121h0m-4 2h0m-5 0h0m-4-2h0m35 72h0m-1-59h0m5-1h0m-165-34h0m-5 0h0m19-6h0m-5-1h0m-18 67h0m1-5h0m214 44h0m5-2h0m2-4h0m-4 2h0m1 5h0m-153-113h0m0 5h0m3 4h0m80 122h0m5 1h0m-5-2h0m-2-5h0m28-35h0m-1 5h0m-1 5h0m-1-5h0m22 50h0m5 0h0m0-5h0m-3-4h0m-2 5h0m-29-94h0m-5-1h0m-4-3h0m-40 90h0m1 5h0m5-1h0m4-4h0m-88-30h0m-25-144h0m-4-3h0m-5-1h0m3-5h0m39 75h0m-5-1h0m-1-5h0m-5 1h0m59 121h0m3 4h0m4 2h0m-42-108h0m31 79h0m0-5h0m-3-4h0m41 5h0m3-4h0m-5 2h0m3 4h0m4 2h0m-109-6h0m-5-1h0m-19-159h0m96 29h0m-1-5h0m18 92h0m-4-3h0m-1-5h0m-2 5h0m-103-112h0m4-3h0m-4-3h0m5 1h0m82 102h0m-3 4h0m-5 1h0m-3-4h0m-12 63h0m4 3h0m3 4h0m4 4h0m-3 4h0m46-91h0m-4 3h0m-3 4h0m2 5h0m-19-41h0m7 120h0m-4-2h0m-51 18h0m-5-2h0m3-4h0m138-50h0m3 4h0m-203-84h0m-5 0h0m-1-5h0m-3 3h0m-4 3h0m75 55h0m66-47h0m-16 17h0m-4-3h0m-5 3h0m-3 4h0m28 92h0m5 2h0m53-72h0m-5 0h0m-25 22h0m5 0h0m2-4h0m-51-70h0m4-3h0m-3 5h0m-103 24h0m4 3h0m4 3h0m4 3h0m2-4h0m18 29h0m5 2h0m5-2h0m0-5h0m12-68h0m30-27h0m-4 3h0m-2 5h0m-4 3h0m-63 43h0m-5 0h0m-5 2h0m3-4h0m25-37h0m126 66h0m-2 4h0m-6-21h0m4-3h0m3 4h0m39 90h0m-5 1h0m-3 3h0m-4 3h0m-2-5h0m-22-78h0m4 2h0m5 3h0m4 1h0m-83 66h0m10-74h0m4-2h0m2 5h0m-5 3h0m58 77h0m5 2h0m5 1h0m4 2h0m-154-45h0m115 21h0m-5 3h0m-1-5h0m-3-4h0m3-4h0m-51-61h0m-49 8h0m-4 4h0m-4 2h0m2-108h0m66 38h0m-5 2h0m122 177h0m0 5h0m-10-135h0m4-2h0m-2 4h0m-5-2h0m-167 14h0m88 27h0m5-1h0m-4-2h0m-98-121h0m4-3h0m5 1h0m4-2h0m1-5h0m188 173h0m-1 5h0m0 5h0m-180 3h0m2-5h0m117-71h0m1-5h0m-2-5h0m3-4h0m-4-2h0m-45-4h0m4-2h0m-4-2h0m4-4h0m-2-5h0m56 17h0m50 123h0m-4-4h0m3-4h0m-56-62h0m4-1h0m-2-4h0m-5 2h0m-4 2h0m-160-96h0m3-5h0m3-4h0m11 95h0m-5 2h0m-5 1h0m5-16h0m5-3h0m-4 4h0m1 5h0m114-35h0m2 5h0m-21 130h0m1 5h0m-3 4h0m43-109h0m-41-40h0m-6-18h0m-5 0h0m0-5h0m1-5h0m-5 2h0m58 60h0m-70-1h0m-7-86h0m-2-4h0m-2-5h0m-72 77h0m224 8h0m-2 5h0m-5-1h0m-89 105h0m-4-3h0m-97-130h0m-20 11h0m0 5h0m-2-5h0m232 27h0m-1 5h0m5 0h0m1-5h0m-116 90h0m-3-4h0m2-4h0m-5-2h0m46-20h0m-2 4h0m-52-29h0m-2 5h0m-97-153h0m69 169h0m-3 4h0m-2-5h0m98-52h0m48-1h0m-1 5h0m3 4h0m-1 5h0m1 4h0m-145-2h0m-2-5h0m146-28h0m-5 1h0m-4 3h0m-5 0h0m15 29h0m5 0h0m5 1h0m4 3h0m1 5h0m-172-5h0m-62-85h0m4-2h0m-2 4h0m71 112h0m-4 2h0m-1 5h0m-5 2h0m3-4h0m-20-64h0m1-5h0m97 40h0m-3-4h0m2-5h0m-5-2h0m40 45h0m-4 3h0m-2 5h0m5 0h0m5 1h0m-158-39h0m-5 0h0m44-90h0m4 2h0m4 3h0m4 3h0m4-2h0m-60 33h0m1 5h0m-2 4h0m2 5h0m-1 5h0m75-63h0m-1 5h0m-3 4h0m40 144h0m1-5h0m-4-3h0m-3-4h0m2-4h0m-129-86h0m5-2h0m160 49h0m4-3h0m5 1h0m32-70h0m-5 0h0m0-5h0m-2-4h0m-196-18h0m5 1h0m133 34h0m5 0h0m-83 111h0m5 1h0m4 3h0m-3 3h0m-7-42h0m5 0h0m-21-124h0m2 5h0m5 1h0m4 3h0m-43 36h0m38 59h0m2 4h0m-4-3h0m156 34h0m-4-2h0m2-4h0m-43-6h0m3 4h0m5-2h0m3 4h0m-26-86h0m-3 4h0m-5 2h0m59 62h0m-162-130h0m-2-5h0m-5 0h0m-12 60h0m5 0h0m-1-5h0m61 100h0m0-5h0m-1-5h0m-3-4h0m22-26h0m72-12h0m-68 59h0m-4-2h0m-2-5h0m-4 3h0m-84-80h0m4 4h0m4-1h0m5 2h0m8 62h0m0-5h0m15 3h0m2 5h0m5-2h0m4 3h0m2-5h0m91-21h0m5 2h0m-115-126h0m3-4h0m162 202h0m-4-3h0m-34-137h0m-4-2h0m1-5h0m-2-5h0m-4-2h0m-99 135h0m28-93h0m4-3h0m-79-23h0m215 56h0m5 0h0m-4 2h0m-3-4h0m-2 4h0m-175-51h0m-1-5h0m5 1h0m141 107h0m-100-93h0m-5-1h0m-2-5h0m5 1h0m-21-52h0m177 138h0m-3-4h0m-3-4h0m-22 8h0m-3 4h0m-5-1h0m-157-154h0m-3-4h0m55 117h0m54 4h0m-2-4h0m-141-23h0m3-4h0m0-5h0m103 97h0m-4-1h0m-2 5h0m-92-181h0m5 0h0m186 184h0m4 3h0m-3 4h0m-205-208h0m0-5h0m3 4h0m170 62h0m3 4h0m4 0h0m-9 57h0m0-5h0m-1-4h0m1-5h0m-157-115h0m3 4h0m200 190h0m1-5h0m1-4h0m-229-173h0m-3-4h0m196 146h0m4-2h0m-145 44h0m1 4h0m103-23h0m-3-4h0m-5 2h0m-154-124h0m4-3h0m5-1h0m-2 5h0m36 130h0m-4-2h0m-5 1h0m0 5h0m-5-1h0m122-49h0m3 4h0m-4-25h0m1 5h0m4 3h0m-3 4h0m-3 4h0m14 30h0m1 5h0m4-1h0m31-13h0m-134 48h0m-30-120h0m5 24h0m-4 3h0m96-17h0m-3 4h0m-5 1h0m-22 70h0m0 5h0m5 0h0m2-5h0m-48-7h0m-1-5h0m55 12h0m0 5h0m3 3h0m-3 4h0m43-60h0m5-1h0m-2 25h0m2 3h0m1 5h0m5 0h0m1 4h0m5 3h0m-126-7h0m-5 1h0m3-3h0m-3 4h0m-41-100h0m-4 2h0m-2 5h0m202 129h0m3-4h0m-62-63h0m5-2h0m-49 95h0m113-114h0m2-4h0m-120 62h0m4 2h0m-2 4h0m1 5h0m-1 5h0m97-91h0m-83-29h0m-4-4h0m86 141h0m5 1h0m-4-4h0m5 1h0m-79-125h0m2 4h0m-61 34h0m1 5h0m11 94h0m-3-3h0m2-5h0m-4-2h0m-46-114h0m3-3h0m-4-4h0m59 63h0m5 1h0m5 1h0m2-5h0m100-37h0m-5-2h0m5 2h0m2 4h0m1 39h0m3-5h0m-95-36h0m-5-1h0m-4 3h0m-4 3h0m-4-3h0m76 58h0m-41-100h0m-1 5h0m-4-1h0m-67 87h0m139-53h0m-5-1h0m46 26h0m-5 1h0m-150-30h0m142 3h0m-2-5h0m-75 78h0m5-1h0m1 4h0m-5 2h0m5 2h0m-125-100h0m5 2h0m-4 4h0m182 57h0m-45-55h0m-142 43h0m-1-5h0m101 22h0m33-9h0m-3-4h0m-5-1h0m97 3h0m2-5h0m3-4h0m5 1h0m5 1h0m-64-49h0m0-5h0m-37 17h0m88 116h0m1-5h0m3-4h0m3-4h0m-5 1h0m10-20h0m-158 61h0m-4-3h0m4-3h0m2 5h0m-63-92h0m-1 4h0m121 18h0m-1 5h0m-59-101h0m5 0h0m4-3h0m-65-34h0m-1-5h0m4 2h0m-4-2h0m21 74h0m-5-1h0m-9-23h0m1-5h0m99 58h0m3-4h0m-56-53h0m2-5h0m30 1h0m4-2h0m3-4h0m5 2h0m4 2h0m81 37h0m5 0h0m5 1h0m-184 33h0m1 5h0m3 3h0m34-6h0m3 3h0m4 4h0m-50-6h0m4-4h0m5-1h0m5 0h0m68 40h0m4 2h0m-3 4h0m2-4h0m-45-119h0m4-4h0m-4 4h0m5-1h0m5 2h0m-27 21h0m5-2h0m4-3h0m4 4h0m-4 3h0m13 111h0m0 5h0m4 3h0m2 5h0m-2 5h0m152-38h0m-183-108h0m1 5h0m-2 4h0m2 5h0m13-54h0m-5 1h0m5-1h0m20 137h0m-2-5h0m-4-2h0m4 2h0m-3-4h0m16-58h0m58 7h0m5-3h0m2 5h0m-1 4h0m-5 0h0m-126 38h0m-1 5h0m6-79h0m175 20h0m5 1h0m-130-47h0m-10-18h0m2-5h0m2 4h0m90 142h0m-4 3h0m4-2h0m3-4h0m-132 0h0m-4-3h0m137-30h0m5 3h0m-147-119h0m-5-1h0m4 3h0m2 139h0m2-4h0m33-91h0m3 4h0m11 56h0m-4 1h0m-5-2h0m31 28h0m2-5h0m-1 5h0m-104-68h0m2 5h0m183 90h0m5-2h0m17-33h0m-5 0h0m-5 3h0m-1 4h0m-170 9h0m71 52h0m-2-4h0m-3-4h0m5 1h0m78-29h0m3 4h0m-5 2h0m-4 3h0m-57-50h0m5-1h0m5-2h0m1-4h0m0 5h0m-47-63h0m0 5h0m-2 5h0m11 58h0m-4 4h0m4 2h0m5-2h0m5 0h0m41 1h0m-5 0h0m-4-3h0m-2-5h0m-5 0h0m77 53h0m-5-1h0m-147-32h0m3 4h0m-5 1h0m144-30h0m4 4h0m-5-2h0m-4-2h0m4-2h0m-35-1h0m-114 20h0m44-55h0m5-1h0m4-3h0m-5-2h0m-4 3h0m40 75h0m-23 16h0m-2-4h0m5-2h0m0-5h0m-61-67h0m-5-1h0m-3-4h0m131 1h0m-4 11h0m-5-1h0m5 1h0m0-5h0m27 48h0m-5 0h0m-73 36h0m23 2h0m-3 5h0m3 4h0m4-2h0m16-51h0m-4-2h0m-1 5h0m5 1h0m-5 0h0m-69-5h0m2-5h0m5 1h0m4 3h0m-10-56h0m2 5h0m5 1h0m1 5h0m3 4h0m45 115h0m5-1h0m5-2h0m-77-128h0m5 1h0m-1 5h0m1 5h0m5 1h0m-41 53h0m3-3h0m-29-53h0m143 18h0m4 2h0m5 2h0m-15 32h0m-2-5h0m-79-60h0m4-1h0m1-5h0m27 56h0m4 2h0m0-5h0m-97-15h0m3 4h0m5 0h0m175 47h0m-60 47h0m-41 10h0m4-2h0m5 1h0m-82-161h0m-3-4h0m-4 3h0m106 133h0m5 0h0m18-23h0m4-3h0m-3 4h0m73-44h0m32 90h0m5 1h0m5-1h0m-220-72h0m2-5h0m-27-32h0m5 2h0m143 29h0m75-34h0m-5 0h0m-26-26h0m-130 88h0m-5 3h0m-4 3h0m48-98h0m-5-2h0m-5 0h0m123 100h0m5 0h0m-170 63h0m0 5h0m-1 5h0m192-45h0m4 3h0m5 1h0m-163-7h0m-65-165h0m4-3h0m129 79h0m-3 4h0m-3-4h0m-48 48h0m-4 2h0m-1-5h0m-18-23h0m2 4h0m22-123h0m2 4h0m149 154h0m-5-2h0m-4 3h0m-259-130h0m4 3h0m1-5h0m-20 121h0m82-127h0m5 2h0m168 197h0m-3-4h0m-3 4h0m-97-12h0m0-5h0m3-4h0m-122-182h0m239 171h0m0-5h0m-4-3h0m-142 7h0m5 1h0m97-67h0m-243-45h0m-5 0h0m181 114h0m-2 5h0m-45-60h0m3-4h0m0 5h0m106 22h0m5-1h0m-158-125h0m4 3h0m2-4h0m-27 54h0m184 28h0m-3 4h0m-1-5h0m6-33h0m5 3h0m2 4h0m-175 110h0m3-5h0m92-20h0m-1-5h0m25-80h0m-5 2h0m-103-84h0m-5 1h0m0 5h0m136 84h0m35 125h0m2-5h0m-112-137h0m0-4h0m100 133h0m-153-225h0m-2 4h0m184 219h0m-3 4h0m-174-38h0m-5 0h0m4 18h0m4-2h0m-32-163h0m-4-3h0m100 226h0m-4-3h0m57-123h0m-5-1h0m46 7h0m0-5h0m71 33h0m5 3h0m-281-115h0m5 1h0m-1-5h0m-33 34h0m5 1h0m2-5h0m63-87h0m114 160h0m-4 3h0m0-5h0m-67 37h0m5 3h0m0-5h0m-7-44h0m123-30h0m2 5h0m0-5h0m-110-11h0m-4-4h0m5 0h0m-30 116h0m5 3h0m-65-168h0m8 162h0m132-80h0m4 4h0m-162-90h0m-2-4h0m145 102h0m-3 4h0m-93 36h0m-4 3h0m-12 16h0m1-5h0m0-5h0m242-36h0m5-3h0m-3 5h0m-37-3h0m-126-29h0m-1 5h0m-38 51h0m-5 2h0m-2 4h0m-75-160h0m135 94h0m4-3h0m-5 1h0m-78-49h0m-3 4h0m-4 3h0m17 102h0m5 0h0m3-4h0m-64-186h0m3 5h0m-2 136h0m-4-2h0m193 77h0m-4 2h0m1 5h0m-116 41h0m-22-207h0m-40-39h0m-3-4h0m-5-1h0m85 187h0m143-83h0m-205-52h0m-5-1h0m-5 0h0m15 69h0m-3 3h0m196 24h0m-3 4h0m0 5h0m-167 48h0m41-43h0m3 4h0m150-79h0m2 30h0m12-1h0m-12-36h0m12 42h0m-22-53h0m3 53h0m19-29h0m-7 39h0m-17-25h0m18 37h0m-7-40h0m-5-19h0m23 21h0m9 16h0m-24-36h0m0-3h0m17 6h0m-18-5h0m10 42h0m-15 9h0m-1 5h0m4-57h0m2 28h0m2 2h0m10 0h0m0 17h0m-2-19h0m-8 31h0m-9-68h0m5 7h0m7 46h0m1-45h0m-17 5h0m27 34h0m-14 6h0m-7 4h0m26 4h0m-34-48h0m8 20h0m-3-33h0m-8 11h0m32 16h0m-13 25h0m-13 8h0m-9-37h0m33-5h0m-15-7h0m-26-18h0m31 47h0m-15-53h0m13 39h0m6-7h0m-14 42h0m17-70h0"/>
<path id="a1" transform="scale(.5)" d="M240 652h0m43-40h0m-1 5h0m-1 5h0m1-5h0m15 3h0m3 4h0m-100 12h0m-2-5h0m2-4h0m-3-4h0m47-5h0m2-5h0m4 3h0m5 1h0m93 80h0m-4 3h0m-5 1h0m-4-3h0m2-4h0m-157-149h0m5 2h0m163 37h0m-117-4h0m1-5h0m4 4h0m57 20h0m-1 5h0m-3 4h0m52-46h0m5 0h0m2-5h0m-33 160h0m44-156h0m-9 13h0m5-2h0m-4 3h0m-23 21h0m3-3h0m-105-71h0m1 4h0m4 4h0m4-2h0m5-1h0m24 66h0m-35-18h0m-3 4h0m4 4h0m2 4h0m-4-3h0m-25-54h0m70 171h0m-3 4h0m-86-159h0m-2 5h0m-4 3h0m130 165h0m-5-2h0m0 5h0m-3-135h0m4 3h0m4 3h0m4-3h0m19 32h0m4 2h0m2 91h0m3 5h0m-3 4h0m4 2h0m-31-112h0m0 5h0m2 5h0m-2 4h0m-31 79h0m0-5h0m-4 2h0m4 2h0m5 1h0m42-17h0m-1-5h0m-62-99h0m2-5h0m-2-4h0m-4 3h0m-70-7h0m0-5h0m2-4h0m-2-5h0m67 128h0m2-4h0m4-3h0m-2-5h0m-3-4h0m-29-8h0m-4-3h0m-3 4h0m1 5h0m108-75h0m-4 4h0m-4 1h0m-33 9h0m5 1h0m-1 5h0m-5-2h0m1-5h0m55 28h0m3-4h0m-148-137h0m4 4h0m-3 3h0m-4-2h0m32 132h0m1-5h0m-5 0h0m34 37h0m2-4h0m4-3h0m5-1h0m-3-4h0m14-50h0m-5-3h0m5-2h0m3-4h0m-39-37h0m-1-5h0m-3-32h0m5-1h0m-4-3h0m-83 5h0m133 13h0m-2 4h0m4 3h0m4 4h0m3-4h0m-62 17h0m10 88h0m-3-4h0m-37-135h0m-5-1h0m-4-3h0m-5 2h0m87 124h0m-3 4h0m-2-4h0m-2 4h0m-1 5h0m60-87h0m-3 3h0m-4-3h0m2-4h0m0 163h0m-12-65h0m5-2h0m5 1h0m4 35h0m5-3h0m1 5h0m5 2h0m-180-89h0m-1 5h0m5 0h0m-4 4h0m-1-5h0m178 74h0m-3 3h0m-4-4h0m-1 5h0m-4-3h0m-37-98h0m2 4h0m-3-4h0m-13 120h0m4-3h0m-11-44h0m5 0h0m1-5h0m-4-2h0m-5 0h0m-94-34h0m-3-4h0m91-80h0m2 5h0m-93-30h0m-1-5h0m156 62h0m-3 4h0m-4-1h0m-5 1h0m17 163h0m1-5h0m-13-151h0m-105 6h0m-3 3h0m-2 5h0m-1 5h0m84 117h0m5-2h0m2-4h0m-18-135h0m5 0h0m41 2h0m5 0h0m2 5h0m5 1h0m3 4h0m-66 146h0m1 4h0m67-95h0m-5-1h0m-1-5h0m-141-128h0m4-3h0m5-1h0m-3 28h0m-5 1h0m-5-2h0m53 9h0m37 34h0m57 148h0m4-2h0m-4-2h0m-5 1h0m-1-5h0m-169-175h0m3-4h0m-1-5h0m2 5h0m-6 10h0m3-4h0m1 5h0m-2-4h0m108 8h0m5 0h0m0 5h0m-29 165h0m4 3h0m3 4h0m5 1h0m50-138h0m-3-3h0m3-4h0m4 4h0m-1 5h0m-12 147h0m3-4h0m4 2h0m-4 4h0m-42-35h0m-5 0h0m0 5h0m38-43h0m1-5h0m4-3h0m3 4h0m5-1h0m-5-93h0m-5 2h0m2 5h0m-106 29h0m3 3h0m0 5h0m4 3h0m-4 3h0m49 78h0m-1 5h0m5-1h0m4-3h0m42-104h0m3 3h0m-3-3h0m26-12h0m5 0h0m5-2h0m-38-3h0m0 5h0m-5-1h0m-30-26h0m-5 10h0m-4-3h0m2-5h0m34 171h0m3-4h0m2-5h0m-5-1h0m-1-5h0m-66-161h0m4 2h0m-13 67h0m72 29h0m3 4h0m2 4h0m27 33h0m1-5h0m-5-1h0m-80-101h0m5 2h0m-2-5h0m2-4h0m96-26h0m3-4h0m0 5h0m3-4h0m5-1h0m-87 22h0m-1-5h0m4-2h0m-14 125h0m5 1h0m4 3h0m5 0h0m1-5h0m-106-196h0m0-5h0m-4 3h0m5 0h0m4 3h0m52 125h0m3 4h0m19 29h0m5-2h0m-2 5h0m2-5h0m-52-8h0m-4 1h0m126-40h0m-4-3h0m-4-3h0m-5-1h0m-5 0h0m45 3h0m5-2h0m-156-34h0m1-5h0m-4-3h0m75 120h0m-5 2h0m81-13h0m-77 41h0m-73-198h0m-5-1h0m-4 3h0m5 1h0m82 22h0m-5 2h0m-1 4h0m5-1h0m28 148h0m-2-51h0m-5 1h0m-33-52h0m-4 3h0m-4 3h0m2 5h0m103 128h0m4-3h0m-1-5h0m-99-165h0m5-1h0m5 1h0m4-3h0m66 126h0m5-1h0m-5 2h0m-49 5h0m30 47h0m-5 2h0m20-78h0m-1 5h0m3-4h0m1-5h0m5 1h0m-111-73h0m-51 33h0m5 0h0m-3-5h0m-5-1h0m2 5h0m32-74h0m5-1h0m1 4h0m-4 2h0m-31-10h0m134 199h0m4-2h0m-90-79h0m-1 5h0m-5 1h0m-2-5h0m3-4h0m145-56h0m-3-4h0m-70 67h0m-93-18h0m-3 5h0m0 5h0m-1 5h0m92 23h0m4 1h0m-2-5h0m11-67h0m-5-1h0m-19 129h0m1 5h0m-4 3h0m-2 4h0m-12-83h0m-5 0h0m38 32h0m0-5h0m-18 49h0m5-1h0m3-5h0m2 5h0m-5-3h0m46-49h0m-23-5h0m1 5h0m-131-50h0m2-5h0m2 5h0m-3 3h0m108 22h0m-4-3h0m-1-5h0m55-87h0m-3-4h0m-1 5h0m-1 5h0m4 3h0m-40-25h0m5-2h0m2 4h0m-101 7h0m-4-3h0m-5-2h0m122 66h0m-103-102h0m-4 3h0m-4 4h0m2 4h0m3-4h0m56 38h0m4 3h0m-46 22h0m0-4h0m4-4h0m4-2h0m-2-5h0m-26 64h0m33 17h0m-5 0h0m63 72h0m-2-4h0m-5 0h0m-5 1h0m4 2h0m-64-105h0m-47-56h0m-5-1h0m-2 5h0m80 99h0m1 5h0m1 5h0m5-3h0m3-3h0m-11-5h0m-5-2h0m-4-2h0m-2-5h0m0-4h0m64 26h0m-58-109h0m5-1h0m4 3h0m2-5h0m3 3h0m93 126h0m2-5h0m0 5h0m-1 5h0m-119-84h0m3 4h0m53-37h0m-2-5h0m-3-4h0m-4 3h0m-5 0h0m-43 49h0m48 80h0m19-1h0m0 5h0m-5 0h0m35-85h0m-158-97h0m-5 0h0m-3-4h0m60 131h0m4 2h0m84 27h0m-4 2h0m-1 5h0m-5-2h0m-95-104h0m-5 1h0m-10 46h0m5 2h0m0 5h0m77-56h0m-5 1h0m-3-3h0m-21 88h0m4-4h0m2-4h0m129-73h0m-4 3h0m-3 4h0m5 2h0m-45-11h0m5 1h0m4 3h0m-5 2h0m-5 139h0m-2-5h0m-5 1h0m31-102h0m-4-3h0m-4 1h0m-2 5h0m-59 14h0m0 5h0m-5 1h0m-4 3h0m44 29h0m-54-117h0m-20 113h0m36-126h0m-4 4h0m1 5h0m1 106h0m-1-5h0m3-4h0m3 4h0m-69-137h0m-5-2h0m-5 1h0m112 212h0m10-92h0m4 2h0m4-4h0m4-3h0m-68-47h0m-1-5h0m88 21h0m-4 4h0m-63 138h0m-62-133h0m-3-4h0m77 37h0m5 2h0m-5 0h0m-2-4h0m4-2h0m31 24h0m-80-127h0m3 114h0m0-5h0m-4-2h0m-3-4h0m-4-3h0m-20-32h0m3 4h0m2 5h0m3 3h0m38-13h0m-27-2h0m5-1h0m5 2h0m-24-87h0m5-2h0m4 3h0m-5 2h0m4 4h0m28 207h0m-5 2h0m41-59h0m4-3h0m-4-2h0m-3-4h0m0 5h0m-16 38h0m-4 1h0m-5-2h0m-10-177h0m5 1h0m-2 5h0m-4 1h0m29 53h0m1 4h0m4 2h0m-3-4h0m-83-58h0m-4 3h0m107 115h0m-30-63h0m-75-61h0m45 180h0m-1-5h0m-4-3h0m-4-3h0m-3 4h0m-22-167h0m102 37h0m5-1h0m4-2h0m4-3h0m-135 33h0m0 5h0m137-17h0m-4-3h0m-150-4h0m-2 5h0m5 1h0m-2-4h0m41 61h0m-2-5h0m-1-5h0m-3 4h0m4 4h0m-42-136h0m-4-4h0m-1 5h0m-5 0h0m64 42h0m4 4h0m3-3h0m5 1h0m1-5h0m63 43h0m0-5h0m-1-5h0m-50 42h0m-1 5h0m-4 3h0m-2 4h0m-2-4h0m-57-95h0m-3-4h0m3-4h0m1-5h0m35 3h0m10 75h0m3-4h0m1-5h0m6 8h0m-47 40h0m4-3h0m-42-95h0m0-5h0m3-4h0m-4-3h0m-5 0h0m134 135h0m5 0h0m4 3h0m4-3h0m-3-4h0m-87-81h0m91 149h0m3 4h0m3 4h0m1 5h0m32-25h0m-84-70h0m-2 4h0m-1 5h0m5 3h0m4 0h0m65-104h0m-5 0h0m-5 1h0m-3 3h0m-3 4h0m-80 63h0m30 51h0m-6-137h0m0-5h0m-4-3h0m-5-1h0m4 205h0m2-5h0m-5-2h0m4-2h0m5 2h0m-52-84h0m95-75h0m5 2h0m-1 5h0m-117 72h0m-2-4h0m-5 1h0m-3 5h0m-16-105h0m-1-4h0m-4 3h0m-4 4h0m-4-4h0m48 10h0m3 3h0m5-1h0m-3-4h0m-5-1h0m126 197h0m4 2h0m2 5h0m1-5h0m-4-2h0m-74-112h0m5 0h0m5 1h0m-72 6h0m-4-3h0m-1-5h0m-5 1h0m99 94h0m3-4h0m-5-2h0m-3-3h0m-41-192h0m-4-4h0m5 1h0m2 4h0m30 205h0m3-3h0m-5-3h0m-42-147h0m-4 3h0m-5 2h0m-1 5h0m4 2h0m85-44h0m-39 160h0m31-29h0m5 2h0m-20-14h0m5-1h0m4-4h0m13-62h0m-126-22h0m5 2h0m141 46h0m1 4h0m-2 5h0m-4 3h0m-36 6h0m1-4h0m-4-2h0m1-4h0m1-5h0m-39 26h0m-4-4h0m3 4h0m5 1h0m36-60h0m-45-3h0m-1 5h0m4 2h0m-2 5h0m20-52h0m-1 5h0m-5-1h0m-3-4h0m68 165h0m-5 1h0m0-5h0m4-4h0m-103-141h0m5 2h0m-3 4h0m0 5h0m73 2h0m4 4h0m2 4h0m18 154h0m-2-4h0m-4 4h0m2 4h0m2 5h0m5-78h0m0-5h0m-5 2h0m-2-5h0m-4-3h0m25-20h0m-44 32h0m3-3h0m-2-4h0m32-76h0m5-1h0m4-4h0m4 3h0m3 4h0m-171-45h0m-5-1h0m-4 3h0m4 3h0m-5 2h0m184 135h0m-5-2h0m-5 1h0m-4 4h0m-125-79h0m2-5h0m-3-3h0m-2 5h0m3-5h0m78-58h0m4 4h0m5-2h0m4-2h0m-38 13h0m3-4h0m-4-1h0m2-4h0m48 76h0m-4-3h0m-5 0h0m-1 5h0m3 4h0m-114-8h0m1 5h0m4 3h0m2-58h0m4 4h0m65-39h0m4-3h0m5 0h0m0 5h0m-14-7h0m-3-3h0m3 96h0m-5 0h0m10 113h0m-2 5h0m-4-2h0m0-5h0m-3 3h0m-61-192h0m5 0h0m117 125h0m3-4h0m-84-12h0m3 4h0m2 5h0m-5 0h0m-1-5h0m9 0h0m1-5h0m45 36h0m0 5h0m1 4h0m-5 1h0m81-139h0m2 4h0m-1 5h0m-3 4h0m-4 3h0m-70 25h0m4-2h0m-2 4h0m-1 5h0m68 104h0m-100-157h0m3 4h0m4 3h0m64 106h0m-5 1h0m1 5h0m5 2h0m-61-42h0m-81-73h0m-5-1h0m-4 2h0m170 3h0m1 5h0m-2 5h0m-2-5h0m-6 5h0m0-5h0m2-5h0m-3-4h0m-133 12h0m-5-1h0m-29-65h0m-4-1h0m-2-5h0m114 198h0m-3 4h0m4 4h0m-1 5h0m-43-190h0m58 213h0m4-3h0m-93-124h0m-4 2h0m-5 3h0m-2 5h0m2-5h0m93-38h0m-1 5h0m-3 3h0m1-5h0m-53-14h0m90 169h0m1 4h0m5 3h0m20-184h0m4 2h0m4-3h0m-6 78h0m-1-5h0m-4-4h0m5 1h0m-79 92h0m4 4h0m5-2h0m-40-54h0m115-85h0m4 4h0m-2 4h0m-150-65h0m5 2h0m4-2h0m-2-5h0m-9 81h0m4 2h0m99-41h0m1 5h0m-67 59h0m59 32h0m5 3h0m4 3h0m-65 2h0m-3 4h0m5-1h0m-5-2h0m23-137h0m-49 99h0m5-3h0m4 3h0m1-5h0m4-3h0m75-22h0m1-5h0m13 20h0m5 0h0m4 2h0m2-4h0m14-13h0m-3 4h0m-108 42h0m-5 1h0m-1 5h0m2 4h0m-1 5h0m90-3h0m-21 6h0m-5 0h0m0 5h0m5 2h0m-54-72h0m0-5h0m82 117h0m-115-76h0m10-9h0m-4-2h0m85 81h0m-5 0h0m-1-5h0m3-4h0m-4-3h0m-109-181h0m5-2h0m-2-5h0m5-2h0m75 181h0m69-126h0m2-4h0m1-5h0m-1-5h0m-17 70h0m-39 100h0m-2 5h0m-3 4h0m5 2h0m-4 4h0m-48-205h0m-2 4h0m0 5h0m0 5h0m-4 4h0m131 163h0m2-5h0m-72 14h0m-2-5h0m45-146h0m2 4h0m-2 5h0m11 41h0m4 3h0m-13 80h0m-30-79h0m-3-4h0m2-4h0m0-5h0m-68 33h0m0-5h0m3-4h0m-2-5h0m84-36h0m-11 60h0m-22 77h0m5-2h0m5-1h0m90-136h0m-1-5h0m0-5h0m5 0h0m4-3h0m-111 126h0m5-2h0m4-2h0m-2 4h0m-5-1h0m60-57h0m4-2h0m2-5h0m3-4h0m5 1h0m-18 93h0m-5 2h0m-30-78h0m-2-4h0m-4-4h0m-5-1h0m-32 71h0m4 4h0m84-108h0m-3 4h0m-32 5h0m1-5h0m0-5h0m-85-72h0m-1-5h0m0-5h0m98 66h0m-48-57h0m3 4h0m-5 1h0m-31 25h0m-1-4h0m3-4h0m4-2h0m4-4h0m53 196h0m-20-126h0m-1-5h0m-2-4h0m-2-4h0m-23 106h0m1-5h0m5 1h0m-3 4h0m3-3h0m-25-134h0m1-5h0m-4 3h0m4 4h0m-25-45h0m-1-5h0m2-4h0m-2 4h0m-5-3h0m104 192h0m3-3h0m4-3h0m3 3h0m-1 5h0m-76-57h0m-3 3h0m4-42h0m3 4h0m5 0h0m3 4h0m-57-5h0m-5 3h0m-34-105h0m-1 5h0m-3-3h0m131 106h0m3 4h0m-4 2h0m-5 3h0m1-1h0m0 5h0m-125-119h0m4-3h0m138 214h0m-2 5h0m-96-196h0m-5 2h0m-41-40h0m-2 5h0m171 61h0m3-4h0m-131-39h0m-3 5h0m-1 5h0m107 119h0m-2 4h0m-3 4h0m-3 4h0m14-17h0m4 3h0m-4 3h0m-106-41h0m-1 5h0m-1 5h0m149 102h0m5 0h0m4-3h0m4 3h0m-97-179h0m90 161h0m-135-191h0m-4-4h0m-2-4h0m-2-5h0m121 172h0m5 2h0m5-1h0m-3-4h0m-1-5h0m-115-134h0m-2 5h0m3 4h0m4 3h0m2 4h0m86 65h0m-40 91h0m3 3h0m3 5h0m4-1h0m-2-5h0m-112-144h0m-4 3h0m144 125h0m4-4h0m5 0h0m22-137h0m-5-2h0m0-5h0m-5 0h0m5 0h0m-117-6h0m20 3h0m44 131h0m2 5h0m53-82h0m-147-68h0m135 122h0m5 2h0m4-1h0m-171-135h0m5-1h0m4-3h0m45 148h0m99 89h0m-4-3h0m-3 4h0m-2 4h0m-130-138h0m2-4h0m-5-2h0m95 109h0m2-4h0m1-5h0m5-1h0m4 2h0m87 11h0m-5-2h0m3-4h0m-173-200h0m4 4h0m5 1h0m4-1h0m4 4h0m52 196h0m-4 3h0m122-148h0m-4 2h0m1 5h0m-134 10h0m3-4h0m1-5h0m1-5h0m-2-4h0m-6 105h0m-1 5h0m-5 1h0m38-5h0m-1 5h0m5 2h0m5 1h0m5 2h0m-21 0h0m-3 4h0m-5 1h0m67-106h0m-5-3h0m-63 90h0m-23-79h0m3-4h0m3 5h0m-60-109h0m3 4h0m135 55h0m-4-3h0m-5-3h0m-5-1h0m24 181h0m4-2h0m1 5h0m5-1h0m1-5h0m-166-136h0m-5 1h0m-5 1h0m-1 4h0m165 100h0m-2-4h0m-3-4h0m3-4h0m-4-2h0m-24-24h0m-1-5h0m-4-4h0m0 5h0m-44-116h0m-4 3h0m80 134h0m4 2h0m-3 4h0m6-26h0m-1 5h0m3 4h0m-3 4h0m16-92h0m-147-30h0m2 4h0m-2 4h0m92 40h0m-5 3h0m-4 2h0m0 5h0m-23 3h0m5 1h0m-18 120h0m2 5h0m-2-5h0m1 5h0m4 3h0m76-41h0m5-2h0m3 3h0m5 2h0m5 0h0m-111-118h0m-3 5h0m2 5h0m16 55h0m68 66h0m4-3h0m-47-80h0m-101-38h0m-3 4h0m0 5h0m-4-2h0m-3 4h0m39-85h0m142 188h0m13 12h0m-148-149h0m-3 4h0m-5-3h0m-4 2h0m-3-4h0m87 92h0m2 5h0m1 5h0m5 0h0m4-4h0m43 57h0m5 2h0m4-3h0m5-1h0m-142-133h0m3-4h0m-3-4h0m-5 0h0m-2-4h0m85 117h0m1-5h0m-3 4h0m16-129h0m4-4h0m0-5h0m5-2h0m-135-39h0m5 1h0m5 2h0m5-1h0m49 75h0m2 5h0m4 3h0m3 3h0m2-72h0m-1 5h0m3-4h0m-5-2h0m-5 1h0m-53 18h0m-2 4h0m-4-4h0m5-1h0m158 169h0m-32-117h0m-24 20h0m-4-1h0m-5 0h0m-85 23h0m-4 3h0m1 5h0m0 5h0m-4-4h0m82 8h0m3-4h0m1-5h0m5-1h0m2 4h0m-117-120h0m-2-5h0m-5-1h0m-5-1h0m176 56h0m1-5h0m3-4h0m3 4h0m-111 48h0m5 1h0m5-2h0m39 30h0m13-56h0m1 5h0m1 4h0m-2-4h0m-4 2h0m-100-82h0m-5 0h0m4 3h0m5 0h0m-3-3h0m4 3h0m1 5h0m-1-5h0m5-3h0m138 203h0m3-4h0m-3-3h0m-111-167h0m1-5h0m92 50h0m2-4h0m-46-59h0m-4 2h0m-4-3h0m-5-2h0m0-5h0m55 193h0m1 5h0m5 1h0m3-3h0m-4 3h0m11-75h0m-138-94h0m158 183h0m5 1h0m2-4h0m-5-2h0m-143-151h0m-9 14h0m3-3h0m74 102h0m-5-1h0m-2 5h0m78-93h0m-5-1h0m-2 5h0m-23 94h0m-1-5h0m39-60h0m5 1h0m-122-10h0m4-72h0m-2-5h0m5-2h0m21 128h0m-4-3h0m89 98h0m1-5h0m-17-5h0m-67-172h0m-5-1h0m4 3h0m-71-69h0m-5-2h0m4-2h0m128 201h0m5 2h0m-155-182h0m-34 75h0m133-22h0m4-2h0m104 46h0m-5-2h0m1-5h0m-99-11h0m2 5h0m102 18h0m-4 4h0m-5 1h0m-114 12h0m1-5h0m-32-16h0m0-5h0m-2 100h0m4-3h0m-3-4h0m101-187h0m-126-23h0m124 150h0m-5 1h0m-1-5h0m-171-147h0m4-2h0m82 105h0m-1 5h0m0 5h0m-43-60h0m1-5h0m160 154h0m-22-56h0m14-79h0m-67 92h0m97-38h0m-5 2h0m-8-22h0m3 4h0m-106 43h0m5-1h0m5 1h0m56-117h0m4 2h0m-125 27h0m1 5h0m5 0h0m155 23h0m-44-2h0m5-2h0m2 4h0m-25 74h0m-21 11h0m34-101h0m2-5h0m-52 75h0m-20-39h0m4 3h0m119-35h0m0 5h0m5-2h0m-77 155h0m5-1h0m-104-227h0m1 5h0m-1 5h0m72 147h0m1 5h0m1 5h0m1-149h0m63 113h0m12 149h0m5 2h0m-194-288h0m3 5h0m4-4h0m3-4h0m0-5h0m25 38h0m1 5h0m-5-1h0m125 5h0m-4-4h0m0-5h0m-80 46h0m-4-3h0m-5-1h0m60-1h0m2-4h0m47 149h0m-81-45h0m5 1h0m-5 1h0m-27-32h0m2-5h0m71 30h0m-43-55h0m-4-2h0m117-50h0m-195-87h0m-5 0h0m140 242h0m-47-28h0m-2-4h0m4 3h0m103-108h0m-22-35h0m-71 32h0m1 5h0m5 3h0m-51-102h0m76 201h0m-59-55h0m4-3h0m4 3h0m34 132h0m42-160h0m3 4h0m-180-19h0m-5-1h0m-3 4h0m79-83h0m-4-1h0m-4 3h0m-42 7h0m4 3h0m5 0h0m-24 155h0m-4 2h0m-3-4h0m211 59h0m3 5h0m3-4h0m-182-167h0m-4-3h0m-5 0h0m170 145h0m0-5h0m1-5h0m-21-26h0m20 29h0m-5 0h0m-3-4h0m-68-91h0m-35 33h0m-5-2h0m2-5h0m106 96h0m4 3h0m-3 4h0m10-71h0m-162-71h0m-1 5h0m4-4h0m155-76h0m0 5h0m-3 4h0m-56 140h0m31-123h0m-5 2h0m-1 4h0m-132 38h0m-12-94h0m-18-28h0m24 131h0m-3-4h0m101-32h0m-4 3h0m-7 45h0m5 1h0m85 78h0m4-4h0m5 0h0m-81-63h0m-63 35h0m88-27h0m-14 83h0m39-145h0m-1-5h0m76 148h0m-5 0h0m167-126h0m-4-4h0m4-3h0m5 1h0m29 13h0m-3-3h0m-8 2h0m-4 3h0m-7-11h0m0 5h0m3 6h0m-1 5h0m0 5h0m-1 5h0m1-28h0m1-10h0m4 3h0m-7 7h0m2-5h0m3-3h0m-11 10h0m18 13h0m-4 3h0m4-3h0m-4 3h0m1-5h0m-12-4h0m5 0h0m-2-2h0m-1 5h0m-5 1h0m-4 2h0m-3-3h0m30-10h0m5-3h0m4 3h0m-4 2h0"/>
<path id="a4" transform="scale(.5)" d="M619 684h0m5 1h0m-56 68h0m2-5h0m17-98h0m-5-1h0m-3 4h0m3 4h0m5 0h0m-14-31h0m-73 69h0m63 26h0m47-75h0m-3 4h0m2 4h0m-10 90h0m-4 3h0m-3-3h0m-3-4h0m-5-1h0m-57-7h0m-5 2h0m-4 3h0m-4 3h0m12-23h0m5-3h0m-1-5h0m4-3h0m5 0h0m29-30h0m2 5h0m5 2h0m2-5h0m-97-13h0m4 3h0m3-19h0m0-5h0m5 1h0m5 0h0m4 2h0m8 81h0m83-37h0m-3 4h0m2 5h0m-94 45h0m-5 0h0m-2-4h0m-4 2h0m46-129h0m2 5h0m2 5h0m-36 109h0m12 14h0m-37-101h0m-3-4h0m4-4h0m4 3h0m45 43h0m-3-4h0m4-4h0m37 65h0m1-5h0m5-2h0m4-2h0m1-5h0m-43-36h0m0 5h0m5-1h0m0-5h0m5 3h0m31 48h0m-5 0h0m-4-2h0m-20-40h0m40-21h0m2-42h0m-4-2h0m-5 1h0m-35 74h0m3-38h0m-53 55h0m0-5h0m-10-37h0m5 2h0m-3 3h0m-1 5h0m34 48h0m68-88h0m-4-4h0m-4 3h0m39 57h0m4 2h0m-2 5h0m5 2h0m0 5h0m-168-43h0m-4-3h0m-3-4h0m0-5h0m137 24h0m-4 3h0m2 5h0m-5 2h0m-4 3h0m-71-26h0m-3 4h0m4-3h0m65 78h0m0 5h0m3 4h0m2 5h0m1 5h0m16-44h0m-2-4h0m-4 3h0m-29-19h0m73 14h0m4 3h0m5-1h0m5-1h0m-58-90h0m-135 49h0m-5-1h0m89-3h0m0-5h0m-4-3h0m-4-2h0m4 3h0m32-33h0m3 4h0m-65 76h0m-2-4h0m-1 5h0m-5 0h0m-3 4h0m66-16h0m4-1h0m-23-71h0m3 4h0m0 5h0m-14 101h0m-1 5h0m-5-2h0m33-35h0m-5-1h0m-2-5h0m-5 0h0m90 5h0m-2 4h0m-22 20h0m4-2h0m2-5h0m0-5h0m-44 5h0m-5-1h0m5-2h0m-5-1h0m33-46h0m4-2h0m-17 54h0m26-52h0m-5-1h0m2 4h0m5 3h0m-143-24h0m4 3h0m3 3h0m3 4h0m-29 17h0m-2 5h0m5 1h0m4-2h0m5 1h0m14-7h0m-3-4h0m-1 4h0m1 5h0m37-26h0m91 58h0m-4-4h0m1 5h0m-55-122h0m-3 95h0m-5 0h0m-4-3h0m-2-4h0m-5-2h0m-7 49h0m3 4h0m5-1h0m104-73h0m2-4h0m-130 20h0m-5 1h0m-3-3h0m55-7h0m-5-1h0m-4-3h0m4-3h0m64-36h0m-78-22h0m2 4h0m5 1h0m31 70h0m3 3h0m4-3h0m-2-4h0m-5 1h0m-67-9h0m-5-1h0m91 46h0m-72-88h0m-3 4h0m-55 66h0m5 0h0m-3-4h0m4 3h0m30 45h0m-5-1h0m5-1h0m59-17h0m2 5h0m4 3h0m-1 5h0m50 13h0m4 2h0m1-5h0m1-5h0m-32-129h0m-3-4h0m10 11h0m-32-21h0m35 130h0m1 5h0m-121-63h0m125-31h0m-4 3h0m-5 2h0m-1 5h0m0-5h0m53 63h0m0-5h0m5 0h0m-1-5h0m-86-108h0m0-5h0m3-5h0m5 1h0m-29 33h0m-2 4h0m-2-4h0m-1-5h0m1-5h0m-77 59h0m-5 0h0m-2-4h0m-4-3h0m-5 1h0m115-3h0m5 0h0m4 3h0m5 3h0m61-2h0m-5 1h0m-150 36h0m4 3h0m74-19h0m0 5h0m-3 5h0m-5 0h0m-5 1h0m-64-26h0m3-4h0m-3-4h0m39-1h0m78 28h0m-5 1h0m3 4h0m-120 30h0m-4 2h0m-5 1h0m-5 2h0m158-66h0m-4-3h0m1-5h0m-58 108h0m-1 5h0m5 0h0m-2-4h0m21-5h0m5 0h0m4 1h0m3 4h0m2-58h0m-86-59h0m-1 4h0m-2 5h0m2 5h0m-5 2h0m105-18h0m3-4h0m-54 9h0m-3 5h0m0-5h0m-1-5h0m-4-2h0m29-15h0m4-3h0m3-4h0m-58 66h0m4-3h0m54-9h0m1 5h0m4-2h0m5 0h0m-44-49h0m3-4h0m5-2h0m4-3h0m50 48h0m0 5h0m-140 63h0m3-4h0m147-42h0m2-4h0m-5 0h0m1 5h0m-29-46h0m2-5h0m1-5h0m-56 133h0m-5 0h0m2 4h0m5 0h0m-39-67h0m-5-3h0m3 4h0m35-32h0m-4 3h0m2 4h0m4 2h0m2 57h0m89-22h0m-28-82h0m-4-3h0m-2-5h0m-69 125h0m-5 2h0m-3-4h0m13-84h0m3 3h0m106 56h0m-5 2h0m2-5h0m-4 3h0m-90-16h0m5 0h0m3 4h0m3 4h0m-3 4h0m-61-12h0m-5-1h0m-5 1h0m-2-5h0m-3 4h0m-4 14h0m47 4h0m5-1h0m-12-76h0m-4-2h0m-5 1h0m2 5h0m22-10h0m-32 10h0m-2-4h0m-5 2h0m-2 4h0m24-4h0m4 3h0m1 5h0m4 4h0m92-18h0m3 4h0m-1 5h0m-5 0h0m30 19h0m1-5h0m2-4h0m-1-5h0m-171 56h0m63 44h0m0 5h0m-1 5h0m-5-2h0m1-5h0m26-133h0m-1 5h0m0 5h0m18 129h0m5-1h0m4-2h0m-97-40h0m18 0h0m-3 5h0m4 2h0m3-4h0m16-45h0m5-2h0m8-65h0m2-4h0m4-3h0m1-5h0m27 42h0m-3 4h0m38 104h0m-4 3h0m-1 5h0m-4-3h0m-110-25h0m-4 4h0m46 17h0m-5 0h0m31-70h0m76-29h0m2 5h0m-79 33h0m41-54h0m-5 3h0m3 4h0m-22-33h0m-2-4h0m-4-2h0m-36 114h0m-2-4h0m-4 3h0m-11-50h0m2-5h0m0-5h0m-2 31h0m5 0h0m4 3h0m-1 5h0m5-2h0m-10-20h0m5 0h0m-14-20h0m-1-5h0m1-5h0m31 90h0m62 11h0m0-5h0m3-4h0m0 5h0m-4 2h0m-45-37h0m-1-5h0m-2-4h0m4-3h0m-25 66h0m2-5h0m5 0h0m4 3h0m40-25h0m4-4h0m-5 2h0m-1-5h0m-88-27h0m-2 5h0m1 5h0m-4 3h0m-1-5h0m6-11h0m49 11h0m2 5h0m73 25h0m-5 0h0m-1-5h0m-72-65h0m-5-1h0m43-43h0m-5 0h0m-4 3h0m1 5h0m-60 102h0m84-111h0m4 2h0m-44 127h0m-5-2h0m-2-4h0m-2 4h0m-60-55h0m137-4h0m-3 5h0m-4 2h0m-46-60h0m-3 3h0m-1 5h0m12 28h0m-3-3h0m-1-5h0m-3-4h0m-4 3h0m14-4h0m-5-1h0m-3 4h0m0 5h0m-1 5h0m21 27h0m4-4h0m5 0h0m1-4h0m56 9h0m-185 2h0m170 5h0m-4-2h0m-3-4h0m-4-3h0m-78 41h0m77-88h0m5-1h0m5 2h0m-1 5h0m0 5h0m-100 48h0m-5-2h0m-4 3h0m-30 6h0m-4-2h0m-3 4h0m0 5h0m117-90h0m-4 2h0m-57-6h0m5-2h0m-3-4h0m4-4h0m26 34h0m3-4h0m0-5h0m3 4h0m-81-11h0m5-1h0m3 5h0m-3 4h0m21 23h0m-3 4h0m-3 4h0m-5-3h0m-1 5h0m82 19h0m5-1h0m4 3h0m1-5h0m-1 5h0m24-39h0m-136-16h0m3-4h0m-4 3h0m0 5h0m-3-4h0m44 80h0m-5-1h0m-1-5h0m-3-4h0m79 0h0m4 3h0m5 0h0m-25-83h0m-5-1h0m-5 2h0m13 20h0m3 4h0m3-3h0m-36-77h0m-3-4h0m5-2h0m-3 191h0m-5-2h0m-5-1h0m-72-47h0m0-5h0m2-5h0m-4-2h0m-5 2h0m132-24h0m-4-3h0m-3-65h0m-95 35h0m4-4h0m0-5h0m-3-3h0m-5-3h0m31 22h0m32 29h0m3-4h0m2 37h0m-5-1h0m52-62h0m4-3h0m-122 85h0m-3 4h0m-4-3h0m106-119h0m-5-2h0m-5 0h0m5 1h0m3 4h0m-115 51h0m-2-5h0m-4 4h0m-4-3h0m-3 3h0m30 22h0m-4 3h0m32-44h0m5-2h0m4 3h0m-5 0h0m55 10h0m4 3h0m5 2h0m-5 0h0m-36 46h0m43 8h0m5 0h0m1-5h0m-5 3h0m31 14h0m-1-5h0m1-5h0m2-4h0m-128-70h0m2-4h0m1 13h0m-3-4h0m-2-4h0m15-26h0m106 103h0m-4 4h0m-5 2h0m4 3h0m-80-18h0m5-2h0m27-6h0m0-5h0m3-5h0m2-4h0m8 58h0m-5 1h0m-21-122h0m41 109h0m-44-66h0m2-4h0m5 0h0m-5 1h0m-58 32h0m36-78h0m-1 5h0m-5 1h0m-5 1h0m74 26h0m-2 4h0m2 5h0m-37 94h0m3 4h0m3 4h0m4 1h0m-59-122h0m4 3h0m1 5h0m4 2h0m-3-3h0m13 74h0m-1-5h0m-4 1h0m19-110h0m-1 5h0m-2 5h0m5 2h0m4 3h0m-68 49h0m-5 0h0m56 55h0m5-3h0m81-91h0m-35 60h0m4 4h0m4 3h0m21 3h0m-5-1h0m-4 3h0m5 0h0m-108 2h0m0 5h0m-3 4h0m54-103h0m5 1h0m0-5h0m-1-5h0m108 101h0m-161-28h0m-2-4h0m1-5h0m65 47h0m5-2h0m12-122h0m3-5h0m18 140h0m3-4h0m-66 12h0m0-5h0m52-38h0m3 3h0m1 5h0m-119-6h0m2 4h0m-1 5h0m-8 6h0m74-42h0m5-1h0m-4 21h0m-35 48h0m46-77h0m-11 27h0m-4 2h0m-2 5h0m24-48h0m1-5h0m-2-4h0m5-2h0m-75 88h0m-5 1h0m139-55h0m-60 0h0m2-5h0m5-3h0m5 0h0m4 1h0m-43-64h0m-1-5h0m-2-5h0m-18 110h0m-3-4h0m-4-4h0m5 20h0m129-47h0m0-5h0m5-1h0m5 0h0m4-2h0m-100-45h0m-3-4h0m-5 0h0m-4 3h0m77 59h0m4-3h0m-25 36h0m41-44h0m-155 65h0m-5 0h0m-2-4h0m-1-5h0m-5-1h0m154-31h0m3-4h0m5 1h0m-121 40h0m62-42h0m-5 2h0m-23-43h0m4-4h0m4 3h0m-3-4h0m21-19h0m4-2h0m-56 39h0m29 90h0m5-1h0m-3 4h0m5 2h0m5 2h0m59-67h0m-22 31h0m-120-7h0m3 4h0m2 4h0m5-1h0m-4 2h0m122 14h0m-1 5h0m1 5h0m-75-119h0m2-4h0m-1-5h0m-1 5h0m-1 4h0m-29 123h0m5 1h0m3 4h0m-40-73h0m5 1h0m1 5h0m5-1h0m118-56h0m-1 5h0m1 5h0m2 4h0m5 0h0m-30 105h0m-3 4h0m40-125h0m-5-3h0m-3-4h0m-1-4h0m-90 116h0m4-3h0m-36 1h0m0-4h0m99-24h0m-2-5h0m-4-75h0m1-5h0m1-5h0m-1 5h0m0-5h0m-15 119h0m3 4h0m-14 5h0m-1-5h0m2-4h0m-3-5h0m2-4h0m40-7h0m4-2h0m5-1h0m4-4h0m-1-4h0m36-21h0m-3 4h0m4 2h0m-3-3h0m-92 73h0m3 5h0m1 4h0m0 5h0m5 1h0m11-57h0m-1-5h0m41 17h0m5 1h0m8-70h0m3 4h0m1 5h0m3 5h0m-114 68h0m1 5h0m123-77h0m-5 0h0m5 1h0m-1-5h0m-80 81h0m0 5h0m2 5h0m17-14h0m-2 5h0m-4 3h0m26-108h0m2-4h0m19 32h0m5 2h0m3 4h0m-5 2h0m-4 2h0m22 18h0m3-4h0m3-4h0m4-3h0m-162-4h0m2 5h0m1 5h0m53-22h0m-3 4h0m5 3h0m-52 37h0m-1-4h0m-31-6h0m178 39h0m-124-108h0m4 4h0m130 99h0m-3 4h0m-122-41h0m1-5h0m-5-2h0m35 40h0m-5 0h0m-3 4h0m-5-2h0m4 4h0m39-13h0m-2-5h0m3-4h0m-32 41h0m73-111h0m6 80h0m-2-5h0m-4 4h0m-44 13h0m-2 5h0m-2-5h0m4 3h0m-2 4h0m-39-143h0m-4 3h0m2 5h0m-5-1h0m43 115h0m-3-4h0m-2-4h0m1-5h0m4-3h0m-12-25h0m5 2h0m-5-1h0m-3 5h0m-47-42h0m-4-3h0m5 1h0m4-3h0m40 86h0m4-3h0m-3 4h0m5-2h0m21-51h0m1-5h0m5 1h0m1-4h0m30 50h0m-5 0h0m-89 32h0m3-4h0m-5 1h0m92-107h0m-3-3h0m-4 3h0m-4 2h0m34 56h0m1 5h0m-90 37h0m17-64h0m2 5h0m1 5h0m5-1h0m5 0h0m44-68h0m5 2h0m-3-4h0m-5 0h0m0-5h0m-29 136h0m-3 4h0m-3-3h0m-4 3h0m-2 5h0m-109-43h0m1 5h0m114 38h0m3-4h0m-4-3h0m-2-5h0m-50-29h0m-2-5h0m51 2h0m-3 4h0m-54-42h0m4 3h0m2 5h0m4 2h0m4 3h0m-13-22h0m3 4h0m-3-4h0m0 5h0m78-7h0m3 4h0m1-5h0m-5 0h0m-1-5h0m-108-4h0m-3-4h0m-4-1h0m32 35h0m5 2h0m1-5h0m3-3h0m69 0h0m-80 63h0m2-4h0m5-2h0m4-1h0m4-4h0m-62-42h0m5-1h0m2-5h0m152 30h0m-78-112h0m-4 3h0m-5 3h0m5-2h0m-23 141h0m5 2h0m4-3h0m2-5h0m5 1h0m74-57h0m-1-5h0m5-2h0m4-3h0m-125-13h0m4-2h0m-3 4h0m-5 2h0m-1-5h0m51 88h0m-3-4h0m-4-3h0m58-119h0m2 4h0m0-5h0m2-4h0m-31 84h0m-2-4h0m0-5h0m5 0h0m-93-10h0m15 23h0m5 2h0m3-4h0m35 55h0m-1 5h0m-22-28h0m1-5h0m5-1h0m4-3h0m5-1h0m62-61h0m5 0h0m2-4h0m-148 23h0m0 5h0m1 5h0m42-41h0m-31 90h0m124-48h0m-80-24h0m-26 18h0m5 1h0m5 0h0m45 0h0m4-54h0m-4-2h0m-2-5h0m-54 41h0m-4 3h0m84 123h0m-2-5h0m19-160h0m2 5h0m-65 73h0m5-2h0m44 53h0m-73-75h0m2-5h0m-18-5h0m-5-1h0m-1-5h0m30 61h0m5-1h0m2-5h0m-80-41h0m5 0h0m86 12h0m5-1h0m4-2h0m44-45h0m4-3h0m52-30h0m2 5h0m-2-4h0m-57 33h0m-18 61h0m-5 26h0m41-80h0m5-2h0m-5 0h0m-22 29h0m1-5h0m62-74h0m4 3h0m-99-6h0m5 1h0m2-5h0m105 38h0m-4-3h0m-109 51h0m-5 2h0m-4-4h0m64 39h0m-43-6h0m17 5h0m2-5h0m105-88h0m1 4h0m-132 29h0m-4-1h0m1-5h0m57 82h0m-11-16h0m-95-9h0m188-21h0m-4 3h0m-184-45h0m5 1h0m-1-5h0m88-19h0m-92 69h0m86 83h0m59-23h0m-4 4h0m-1-5h0m-23 20h0m4-3h0m-95-170h0m-5-1h0m10 28h0m4-2h0m4-3h0m22 102h0m110-75h0m1-4h0m2 5h0m5 3h0m3 4h0m-100-48h0m-5 0h0m-1 4h0m-35 88h0m82-39h0m5 2h0m-1 5h0m-94 79h0m97-134h0m5-3h0m18 151h0m-4 3h0m1 5h0m-12-86h0m3-4h0m-146 65h0m-5-116h0m0 5h0m154 59h0m-54-42h0m5 0h0m-18 1h0m-5 0h0m64 41h0m-92 30h0m-5-1h0m52-21h0m-1 5h0m2 4h0m-66 39h0m39-29h0m5 1h0m4-2h0m-52 0h0m-3 4h0m81 32h0m0 5h0m1 5h0m26-97h0m5 2h0m4 3h0m-106 20h0m-3 3h0m71-83h0m14-22h0m17 121h0m1 5h0m-71-56h0m35-1h0m5-1h0m-2 5h0m-16 17h0m5-1h0m-62 60h0m-5 0h0m-3-4h0m-9-26h0m173-35h0m4 4h0"/>
<path id="a8" transform="scale(.5)" d="M697 530h0m-1 5h0m-3 4h0m5 0h0m-73 16h0m5 1h0m4 3h0m114-19h0m-5 1h0m3 5h0m-4-4h0m-3-4h0m-104 84h0m-5 2h0m-3-4h0m16 94h0m-1-5h0m4-3h0m2-5h0m95-162h0m3 4h0m-27-22h0m-77 23h0m161 29h0m-3-3h0m-5 0h0m-149 31h0m-4 1h0m0 37h0m0 5h0m3 4h0m3 5h0m95 31h0m-4 4h0m-3-4h0m0-5h0m-5 3h0m-54-108h0m-2 5h0m-34 90h0m-5-2h0m1-5h0m-4-67h0m4-2h0m65-41h0m-47 39h0m5 1h0m-35 24h0m-5 0h0m-3 4h0m0 5h0m-4 2h0m84-64h0m-1 5h0m-3 4h0m-4 2h0m40 58h0m-3 4h0m5 0h0m5 1h0m-109 4h0m-3 4h0m1 5h0m26-83h0m-4 4h0m43 78h0m-4-3h0m-4-3h0m-35-51h0m3-4h0m4-3h0m15-45h0m-1-5h0m5-1h0m5-3h0m2 68h0m4 2h0m4-3h0m-5-2h0m76 49h0m-30-58h0m2-4h0m-5 0h0m-82 72h0m2-4h0m17 8h0m18-113h0m3 4h0m4 3h0m-37 149h0m4 2h0m2 5h0m77-15h0m-1-5h0m-60-38h0m-1-5h0m-4-3h0m-5 0h0m62-57h0m5 0h0m5 2h0m-46 110h0m-1 4h0m-3-3h0m-3-4h0m70-107h0m-43 108h0m5-1h0m14-117h0m-1-5h0m-3-3h0m-17-43h0m-5-1h0m-4-2h0m-56 7h0m1 5h0m5 0h0m88 181h0m-5-3h0m-4 1h0m2 4h0m-38-59h0m2-4h0m4-3h0m1-5h0m3-4h0m-72 44h0m78-20h0m4-4h0m-16 17h0m4 3h0m4 2h0m-15-156h0m0-5h0m4 2h0m-49 147h0m-4-3h0m-2 4h0m-4-2h0m76-43h0m5-1h0m-5 1h0m-5 0h0m-30 58h0m0 5h0m-4 2h0m10-1h0m4-3h0m5-1h0m45 22h0m-2 5h0m3 4h0m4-2h0m4-4h0m-105-184h0m5 0h0m69 36h0m4 3h0m5-2h0m63-18h0m-2 4h0m-5-2h0m-42-16h0m-2 4h0m3 5h0m-67 7h0m-5 0h0m-3 4h0m-5 0h0m83 82h0m11 29h0m-4-2h0m-5 1h0m-5 0h0m3 3h0m-56-146h0m-5 1h0m2 5h0m5 0h0m-20 92h0m28 103h0m-4-4h0m-5-1h0m5-2h0m3 4h0m-50-201h0m-1 5h0m1 5h0m2-5h0m99 163h0m-2-5h0m-2-4h0m-4 2h0m4 1h0m-131-59h0m-5 0h0m3-4h0m-3-4h0m-1-5h0m56 60h0m-5 0h0m-5 2h0m2-5h0m21-43h0m5 2h0m5 0h0m5-1h0m3-4h0m29-34h0m-5-1h0m35 56h0m2-4h0m-2 4h0m-3 4h0m-4 4h0m55-106h0m-3 4h0m-3 3h0m-109 25h0m3-3h0m48 61h0m-5-1h0m-5-2h0m-5 0h0m-31-2h0m58-68h0m0 5h0m-2 4h0m-4 7h0m-1-5h0m-7 17h0m-4-3h0m-4-3h0m-23-21h0m5 2h0m4-2h0m-67 94h0m39-29h0m-5 2h0m7-26h0m1 4h0m3 4h0m-11 13h0m-4-2h0m5-1h0m81 5h0m-63-79h0m-2-4h0m-2-4h0m-5-2h0m41 183h0m4-2h0m3 4h0m4 2h0m-4-2h0m16-169h0m3 4h0m-22 47h0m2-5h0m5-2h0m-1 5h0m1 5h0m73-26h0m-3 5h0m-98-42h0m-5-2h0m5-2h0m-63 13h0m1-5h0m-4 3h0m64 121h0m-4 2h0m18 13h0m-5 0h0m-3 3h0m-19 8h0m-66-83h0m1 5h0m4 3h0m-3 5h0m5 0h0m133-54h0m-5 2h0m-5-2h0m-4 4h0m-75 140h0m-4 3h0m-5 1h0m103-87h0m2 4h0m5-1h0m5 1h0m-5 1h0m-104-91h0m43 51h0m1 5h0m0 5h0m-64-1h0m-4-2h0m1 4h0m1 5h0m-5 2h0m28-76h0m3-4h0m3 4h0m-3 4h0m16 19h0m-3 4h0m0 5h0m-5 1h0m68-26h0m2-4h0m-2-5h0m27 24h0m4 1h0m3 5h0m3 3h0m-152 4h0m4-3h0m1-4h0m127-23h0m-142 97h0m3 5h0m2 4h0m128-125h0m3 3h0m-3 4h0m-44 124h0m-4 3h0m-82-7h0m-2-4h0m-3 4h0m10 57h0m-1 5h0m-5 1h0m82-144h0m-2 4h0m3 4h0m17-29h0m-3 4h0m-54 118h0m-4 1h0m-3-4h0m4-1h0m24 20h0m-64 11h0m22-103h0m-3-5h0m-5-1h0m-4-2h0m104 102h0m0 5h0m31-136h0m5 1h0m0 23h0m-5 2h0m-30-18h0m-5-1h0m-136 47h0m4-3h0m-1 5h0m27 77h0m4-3h0m35-114h0m-5 1h0m5 1h0m4 4h0m3-4h0m-13 80h0m5-2h0m4-2h0m-5 0h0m37-113h0m5-2h0m4 3h0m-1-5h0m-5-2h0m29 17h0m4 2h0m-1 5h0m-79 155h0m1-5h0m89-137h0m-144 41h0m-3 4h0m-3 4h0m4 1h0m111 34h0m9-9h0m1-5h0m-2-4h0m4-4h0m-1-5h0m-85-50h0m5-2h0m5 0h0m1-5h0m18 102h0m1-5h0m5 2h0m54-62h0m-3-4h0m5-2h0m-1-5h0m-64 83h0m-3-5h0m-1-4h0m5-3h0m-4-4h0m85-72h0m-87 50h0m5 0h0m-1-5h0m0-5h0m96-83h0m-2 5h0m-105 61h0m-16-96h0m-2-5h0m3-4h0m101 176h0m-2 5h0m1 5h0m0 5h0m4-2h0m-83-60h0m4 2h0m22-9h0m-4-3h0m-4-2h0m1-5h0m-5-2h0m97-3h0m-3 5h0m-3 3h0m-128-98h0m28 171h0m-2 5h0m3 4h0m4 4h0m-26-32h0m-3-4h0m-1-4h0m-4-3h0m-4-68h0m-5 1h0m-3 4h0m131-23h0m0 5h0m-5 2h0m-100 3h0m4-3h0m-1-5h0m92-22h0m1-5h0m5 1h0m32 19h0m1-5h0m-22 24h0m-160-21h0m158 20h0m-2 4h0m-3 4h0m19-52h0m-96 160h0m5-2h0m54-121h0m-4 3h0m-3-4h0m-94 48h0m-41-71h0m1-5h0m58 49h0m-2-4h0m66-64h0m-4-2h0m-3 4h0m-2 5h0m-43 62h0m-4 4h0m-4 2h0m-4 3h0m7-51h0m5 0h0m-2 5h0m108 36h0m-4 3h0m-1-5h0m0-5h0m2 5h0m14-34h0m-4-2h0m-32 26h0m5 2h0m-43-46h0m2 5h0m-100 75h0m32 65h0m1-5h0m-4-3h0m-2-4h0m-2-5h0m28-119h0m30-20h0m-5 1h0m83 32h0m0-5h0m3-4h0m0-5h0m-27 23h0m-27-35h0m4-3h0m3-4h0m-5-1h0m-9 46h0m5 3h0m52-6h0m-4 3h0m5 3h0m3 3h0m-118 108h0m-3-4h0m-4 3h0m126-147h0m-125 2h0m-4-3h0m-3-4h0m-4-2h0m161 18h0m-1 5h0m-4-3h0m-47-6h0m4 3h0m4 2h0m5 2h0m-149 36h0m-4-4h0m-3-3h0m-2-5h0m146-15h0m4-3h0m5-2h0m5 1h0m-22 2h0m4 3h0m-2 4h0m3 3h0m5 1h0m5 1h0m-123 63h0m-36-51h0m-4 2h0m66 104h0m3-4h0m19-116h0m1-5h0m-4 3h0m3-4h0m56 56h0m-1-5h0m-102-41h0m-3-5h0m-5-1h0m0-5h0m3-4h0m16 61h0m-5 1h0m-4-3h0m4 64h0m4 3h0m2 5h0m5-1h0m1 5h0m-9-116h0m14 126h0m1-5h0m12-89h0m1 5h0m-2 5h0m95-3h0m0 5h0m-90-85h0m38 161h0m0-5h0m-7 8h0m1 4h0m4 4h0m-52-6h0m2-4h0m5 1h0m2 4h0m-36-182h0m73-6h0m2 5h0m-1 5h0m-54 165h0m-2 4h0m-4-3h0m-4 4h0m-29-156h0m56 91h0m-5-1h0m4-2h0m-4-1h0m3 4h0m-49 5h0m-5-1h0m-4-3h0m73 80h0m3-4h0m-36-2h0m0 5h0m40-25h0m-3 3h0m4-3h0m3-3h0m-38-64h0m-2 5h0m4 1h0m1 5h0m5 0h0m88-63h0m5 1h0m5 0h0m5-1h0m4 3h0m-76 104h0m-12-11h0m5-1h0m-1 5h0m5 0h0m-1-5h0m74-58h0m5 2h0m3-4h0m-166-52h0m-4-4h0m2-4h0m-4-3h0m2 5h0m202-6h0m-2-5h0m-1 5h0m-3-4h0m-3 5h0m-141 43h0m-1-5h0m-4-2h0m-4 2h0m60 44h0m1-5h0m-1-5h0m3-3h0m-3-4h0m-25-33h0m5 1h0m1 5h0m-1 5h0m1 5h0m21 41h0m2-5h0m1-5h0m3-4h0m-38-102h0m2 5h0m2 5h0m-1 5h0m60 31h0m-2 5h0m-4 1h0m-66 119h0m-4-4h0m2-5h0m3-3h0m90-71h0m-1 5h0m-5-2h0m-4 3h0m-46 43h0m-2-4h0m-57-81h0m-5 0h0m-4 3h0m4 3h0m2 4h0m167-18h0m-102 84h0m-3-4h0m-3-4h0m-2 5h0m-12 64h0m4 2h0m-4 3h0m41-123h0m0-5h0m15-29h0m-2 5h0m-5 0h0m-4-3h0m47 3h0m3 4h0m2 5h0m-137-37h0m-2-5h0m8 51h0m4-2h0m1 5h0m163-40h0m4 4h0m-83 12h0m4 3h0m4 1h0m-14 63h0m-5 0h0m-1 5h0m-14-100h0m-4-4h0m-3-3h0m2 0h0m3 4h0m-50 80h0m-5-1h0m4 2h0m-29-25h0m-1-5h0m-2 4h0m106-28h0m2 5h0m-5 1h0m32 69h0m-4-4h0m0-5h0m2-4h0m5 2h0m-21-78h0m-5-2h0m3 4h0m-46 153h0m5 1h0m-4 1h0m2-5h0m3-4h0m72-128h0m-2 4h0m2 5h0m-88-16h0m-2-5h0m3 5h0m2 4h0m4-3h0m-61 98h0m0-5h0m-4-3h0m73 39h0m-38-38h0m-20-110h0m3-5h0m1-4h0m-37 45h0m2 5h0m-2-5h0m-5 1h0m0-5h0m14-29h0m-1-4h0m0-5h0m47 1h0m-3-4h0m27-23h0m2 5h0m3 4h0m-17 183h0m1 5h0m3-4h0m4-3h0m-3-177h0m1-5h0m-5-1h0m-4-2h0m-29 73h0m-4-2h0m5 1h0m-3 4h0m30 8h0m-1-5h0m-52-48h0m-4-3h0m2-5h0m72 104h0m-4-3h0m31 39h0m-5-3h0m4-2h0m17-17h0m3-4h0m-4 4h0m0 5h0m0 5h0m35-23h0m-107-56h0m-5 0h0m-5-3h0m5 0h0m-4-2h0m96 82h0m5-2h0m-5 0h0m-68 36h0m-3 4h0m-2 5h0m44-85h0m6-61h0m5 2h0m-5 1h0m31 71h0m-3-3h0m1-5h0m1 5h0m-69 89h0m-4 3h0m-5-1h0m-2 4h0m121-174h0m-5 2h0m-2 5h0m-45 52h0m-4 3h0m3 3h0m-2 5h0m-36-40h0m0-5h0m-5 3h0m-2 4h0m-2 5h0m4 38h0m-4 2h0m-26 25h0m3-3h0m3 3h0m1-5h0m-29-5h0m5-1h0m4-1h0m5-2h0m49-126h0m0-5h0m-93 85h0m-2-37h0m100-9h0m-2 103h0m0 5h0m-3 5h0m3-5h0m4 3h0m42-41h0m5 0h0m-109 49h0m-2-5h0m5 2h0m5 0h0m-72-95h0m1 5h0m119 102h0m-56-31h0m-5-1h0m-2 4h0m4 4h0m84-29h0m-70-93h0m-4 3h0m3 4h0m-1 5h0m121 18h0m4-2h0m3 4h0m-4 3h0m-38-16h0m-4 2h0m-40 183h0m2 4h0m1 5h0m1 5h0m1 5h0m-93-169h0m-1 5h0m85 113h0m75-113h0m4-3h0m-134-36h0m-3 54h0m-4 4h0m5-2h0m114 55h0m5-2h0m-5 2h0m-3 4h0m-52-53h0m-1 5h0m-5 0h0m-5 0h0m50 11h0m-2-4h0m-91 91h0m2-4h0m5 1h0m4 2h0m5-2h0m87-78h0m-2 4h0m-4-3h0m-55 48h0m2-5h0m4-2h0m-21-61h0m5 1h0m-4 1h0m-3-4h0m49-62h0m-27 124h0m-5-1h0m-2 4h0m-4 2h0m-1 5h0m-21-8h0m2 4h0m-4 3h0m80-156h0m-53 129h0m2-5h0m0 5h0m5 3h0m4 3h0m65-71h0m-5-2h0m-2-4h0m-74-58h0m-5 1h0m-2 5h0m4 2h0m16 131h0m-3-4h0m-4 2h0m-1 5h0m-30 41h0m-4 3h0m0 5h0m-5-1h0m14-183h0m51 178h0m5-1h0m5-2h0m-81-129h0m-3 4h0m5 0h0m44-35h0m40 76h0m5-1h0m4 2h0m0 5h0m77-88h0m-3-4h0m-150 108h0m-5 1h0m-3 4h0m5-1h0m-15-51h0m4 3h0m-1 5h0m4-3h0m109-38h0m-147-4h0m-4 2h0m-5-1h0m-3 4h0m42 134h0m4-3h0m-5 2h0m-5 1h0m66-159h0m-5-1h0m0 5h0m-5 0h0m5 2h0m57 101h0m-4 2h0m4 1h0m-4-3h0m5 2h0m-6-94h0m-3 4h0m-5 1h0m3 4h0m3 4h0m-94 13h0m-3 4h0m-5-1h0m64 48h0m-3 4h0m-4 2h0m1 5h0m5-1h0m5-49h0m-72 67h0m-5-2h0m21 15h0m4 2h0m71-17h0m-42 66h0m-5-1h0m1-134h0m-4 4h0m10 7h0m-3-3h0m-1-70h0m3 4h0m5 1h0m28 131h0m-3-5h0m-4-2h0m3-4h0m5 0h0m-17-40h0m1-5h0m-3 4h0m-43-38h0m-5 2h0m-2-4h0m25-60h0m2-5h0m2-4h0m3 4h0m4 3h0m21 180h0m-2 5h0m0-5h0m-1-5h0m2-5h0m-4 19h0m5 0h0m1 5h0m2 5h0m-14-88h0m1-4h0m2-5h0m-2-5h0m-4 3h0m55-60h0m4 4h0m2 5h0m-9-34h0m-3 4h0m-5 2h0m-4-3h0m4 3h0m-109 20h0m-5 0h0m-4-3h0m0-5h0m18 112h0m0 5h0m3-4h0m-2 5h0m0-5h0m70 45h0m5 0h0m-9-168h0m-74 150h0m-1 5h0m-5 0h0m-4-3h0m5-1h0m28-126h0m-4 3h0m1 5h0m2-4h0m94 11h0m-4-3h0m-1 5h0m9 69h0m-3-4h0m-4-4h0m-4-2h0m-1-5h0m-33 3h0m-1-5h0m39 20h0m-94-44h0m-2-5h0m-1-5h0m0-5h0m61 25h0m56-28h0m4-3h0m1 5h0m2 4h0m-72-53h0m1-5h0m-15 129h0m81-57h0m5 2h0m4 3h0m-117 55h0m118-110h0m0 5h0m5 2h0m4 1h0m-10 18h0m4-3h0m-5 0h0m-3-4h0m-5 1h0m-46-29h0m2-5h0m-4-3h0m-1-5h0m29 7h0m-48 52h0m27-48h0m4 2h0m-118 31h0m-5-1h0m-3-4h0m77 69h0m5 2h0m3 3h0m3 4h0m3-4h0m91-48h0m-2 5h0m-2 4h0m-5-1h0m-28-52h0m-67 43h0m-26 7h0m-4 1h0m3 4h0m2-5h0m-1-5h0m62 11h0m5 3h0m3 4h0m3 4h0m-94 88h0m-4-2h0m4-4h0m72-156h0m1-5h0m-34 125h0m-1-5h0m-2-4h0m5 0h0m45-63h0m-4 3h0m-2-5h0m-3-4h0m10-24h0m13 53h0m3-4h0m-24-56h0m-109 64h0m5-2h0m2 5h0m18-13h0m11 34h0m5 0h0m3-3h0m4-4h0m5 0h0m-22-117h0m-5 1h0m-5 1h0m20 115h0m-25-33h0m5-2h0m3-4h0m4-3h0m23-49h0m-2 156h0m4 3h0m4-127h0m24-8h0m-3-4h0m-4 2h0m4-2h0m3 4h0m-13 112h0m-4-4h0m-5 0h0m2-5h0m58-56h0m-36-96h0m-77 134h0m5 2h0m3-4h0m-5-3h0m21-89h0m76 144h0m-5-2h0m10-168h0m5-1h0m4 3h0m-3 4h0m-18-26h0m-4 1h0m-4-3h0m-2-4h0m-64 54h0m4-3h0m-5 1h0m41 65h0m-3-4h0m1 5h0m5 2h0m0 5h0m47-57h0m-1-5h0m0-5h0m0 5h0m-21 23h0m-3 3h0m-24 46h0m0-5h0m1-5h0m-48 45h0m4 3h0m5 2h0m-4 4h0m16-171h0m102 69h0m4-1h0m5 0h0m2 5h0m3-4h0m-136-58h0m4-2h0m-2-4h0m2-5h0m-4-1h0m95 143h0m4-4h0m3 4h0m3-4h0m-118-78h0m-2 5h0m19-20h0m0-5h0m0-5h0m24 166h0m-40-90h0m4-3h0m147-68h0m-4-2h0m11 15h0m-131 58h0m-5 0h0m33-42h0m3-3h0m1-5h0m4-3h0m5 1h0m-7 104h0m-5-2h0m-2-4h0m1-5h0m57-114h0m-4 3h0m-3 4h0m4-3h0m35 7h0m5 0h0m0 5h0m-5-2h0m-150 69h0m-5-2h0m96 34h0m-1-4h0m-2-5h0m-21-70h0m-4-1h0m-5-1h0m-71 22h0m5 1h0m-1-5h0m-3-3h0m93-29h0m32-31h0m-37 105h0m4-3h0m3-4h0m14-113h0m1 4h0m-2 5h0m-71 54h0m-2-5h0m39 14h0m-38-47h0m-23 133h0m5-1h0m5-2h0m0-86h0m89-22h0m-4 3h0m26-98h0m-81 39h0m70 138h0m-5 2h0m-5 1h0m-11-98h0m52 16h0m3 4h0m3 5h0m-97 1h0m3-4h0m-20-5h0m-3-5h0m-3 4h0m151 14h0m-4 3h0m-130-76h0m-5-1h0m59 25h0m4 3h0m5-1h0m87 9h0m-173 124h0m2 4h0m-23-155h0m99 135h0m-1-5h0m-43-99h0m-1-5h0m-26 79h0m4-3h0m23-43h0m-5-2h0m87 73h0m3-4h0m4 3h0m-1-81h0m-2-5h0m-4-3h0m-25 54h0m1-45h0m-1 5h0m-31-61h0m-2-5h0m1-5h0m-25 233h0m5 2h0m71-108h0m3-4h0m-32-24h0m-1-5h0m-4-3h0m-41 69h0m5 2h0m4 2h0m24-112h0m-34-22h0m0 5h0m-3 4h0m58 109h0m4-4h0m66-85h0m-3-4h0m-2 5h0m-49-37h0m-14 74h0m-26-12h0m21-79h0m37 176h0m-67-34h0m-1-24h0m60 10h0m-2 5h0m-1 5h0m-20-80h0m-28 130h0m87-76h0m-108 8h0m-5-1h0m0-5h0m-42 50h0m98 23h0m-1 5h0m3 4h0m-118-185h0m198 82h0m-128-11h0m-4-1h0m59 0h0m11-6h0m3 4h0m-2-5h0m-8 99h0m-4 2h0m-91-135h0m-4 3h0m-1 5h0m-2 22h0m4-2h0m-42 41h0m83 2h0m1-5h0m-4-3h0m123-83h0m5 2h0m-150 89h0m4 3h0m59 2h0m4-4h0m14 48h0m2-4h0m-2-4h0m-97-48h0m-2 5h0m-5-2h0m-13-37h0m-2-4h0m-2 5h0m29-49h0m87 104h0m91-74h0m-3 3h0m-110 141h0m1-5h0m-22-6h0m3-4h0m56-109h0m-5 0h0m-3 4h0m-11 92h0m-13-98h0m-1-5h0m9-45h0m-20 194h0m4 2h0m25-80h0m-2 5h0m-65-127h0m0 5h0m0-10h0m0-5h0m5-1h0m9 85h0m-1 4h0m3 5h0m-49-96h0m4-2h0m-1-5h0m6 28h0m63-22h0m5-1h0m-20 146h0m5 2h0m4 2h0m20-108h0m4-16h0m-4-2h0m-3-4h0m-79 178h0m3-4h0m-5-3h0m45-97h0m5-1h0m3-3h0m-58-45h0m5-2h0m4 3h0m3-7h0m-2-4h0m47 16h0m5-1h0m-92 32h0m35-14h0m21 29h0m20-37h0m-337 100h0m3 5h0m-4 3h0m-2 5h0m-14-17h0m5-2h0m0-5h0m2 5h0m10 25h0m5 1h0m-23-34h0m0 9h0m-2 4h0m-2 5h0m4-3h0m-5 1h0m2 5h0m3-5h0m5 0h0m19-4h0m5 0h0m-17 40h0m4 3h0m5 1h0m3-17h0m0 5h0m-10-9h0m-3-4h0m-5-1h0m3 4h0m4 3h0m-10-45h0m2 5h0m-12 1h0m3 4h0m2-4h0m4-2h0m5 0h0m9 16h0m5 1h0m0-5h0m-3-3h0m-5-1h0m-13 33h0m4 2h0m-1 4h0m3 5h0m2-11h0m2 5h0m-4 3h0m8-17h0m4 2h0m-22-33h0m2-4h0m34 52h0m-2-5h0m-5 1h0m0 5h0m-17-43h0m25 19h0m5-1h0"/>
<g id="aall"><use href="#a14"/><use href="#a12"/><use href="#a10"/><use href="#a11"/><use href="#a5"/><use href="#a13"/><use href="#a7"/><use href="#a9"/><use href="#a6"/><use href="#a2"/><use href="#a3"/><use href="#a1"/><use href="#a4"/><use href="#a8"/></g>
</defs>
<g fill="none" stroke-width="6.5" stroke-linecap="round">
<use href="#a14" stroke="#b4a0e8"/>
<use href="#a12" stroke="#25b2f2"/>
<use href="#a10" stroke="#a0a0a0"/>
<use href="#a11" stroke="#b5802a"/>
<use href="#a5" stroke="#b5aa2e"/>
<use href="#a13" stroke="#78a8f0"/>
<use href="#a7" stroke="#5bb85c"/>
<use href="#a9" stroke="#20b8ae"/>
<use href="#a6" stroke="#8fb03a"/>
<use href="#a2" stroke="#e24a33"/>
<use href="#a3" stroke="#f28e4e"/>
<use href="#a1" stroke="#f17796"/>
<use href="#a4" stroke="#d39b31"/>
<use href="#a8" stroke="#2cd8a8"/>
</g>
<g fill="none" stroke-width="3" stroke-linecap="round">
<path d="M167.6 219.6h0M221.7 239.3h0M326.5 61.6h0M176.3 117.3h0M478.2 195.2h0M412.9 197.2h0M332 89.7h0M330.3 326.5h0M284.5 284.6h0M345.3 61.1h0M380.9 235.1h0M424.9 196h0" stroke="#b4a0e8"/>
<path d="M364.7 330h0M362.8 344h0M231.9 304.3h0M252.3 348.7h0M125.7 111.6h0M465.8 183.9h0M326.9 139.3h0M278 167.3h0M213.9 233.1h0M309.5 338.4h0M349.6 346.6h0M345.2 93.8h0" stroke="#25b2f2"/>
<path d="M440.9 227.8h0M362.7 109.7h0M411 229.3h0M106.3 304.2h0M238.3 89.8h0M190.5 293.7h0M322 54.8h0M364.6 149.2h0M277.2 369.5h0" stroke="#a0a0a0"/>
<path d="M197 65.4h0M150.9 174.6h0M320.3 91.5h0M198.7 356.4h0M437.6 164.7h0M258.8 211.6h0M334 236.6h0M299.3 244.6h0M455.7 207.3h0M246.8 277.7h0M167.4 139.4h0M470.9 212h0" stroke="#b5802a"/>
<path d="M240.2 231.4h0M78.2 243.2h0M329.2 59.8h0M327.2 193.9h0M348.5 156.4h0M359.8 283.6h0M347.2 357.9h0M173 190.6h0M313 145.6h0M219.2 143.2h0M221.4 236.6h0M193.2 164.5h0" stroke="#b5aa2e"/>
<path d="M303.4 282.6h0M197.1 113.4h0M399.6 118.8h0M146.8 183.6h0M356.2 73.6h0M202 150.1h0M411.8 184.7h0M420.8 95.9h0M208.1 254.6h0M432.8 188.9h0M162.3 79.9h0M287.1 103h0M400.8 316.7h0" stroke="#78a8f0"/>
<path d="M145.3 131.9h0M401 251.8h0M400.6 153.9h0M123.2 136.3h0M395.5 129.5h0M212 177.6h0M242.1 175.1h0M248.1 353.6h0M375.7 316.1h0M341.8 211.3h0" stroke="#5bb85c"/>
<path d="M188.5 152.6h0M311.4 134.7h0M440.5 268.9h0M438.9 230.4h0M75.4 285.9h0M140.4 139h0M341.8 213.2h0M239.6 349.9h0M321 152.6h0M173.5 324.3h0M265.7 298.2h0" stroke="#20b8ae"/>
<path d="M214.3 105.1h0M289.2 309.5h0M140.2 301.3h0M447.9 306h0M327.7 324.6h0M90.5 129.6h0M180.1 214h0M243.4 196.1h0M105.3 205.7h0" stroke="#8fb03a"/>
<path d="M199.5 143.8h0M214 253.5h0M310.5 159.1h0M148.3 148.5h0M120.7 223.3h0M363.6 165.5h0M223 239.5h0M390.9 165.5h0M398.5 245.6h0M247 162.9h0M273.4 272h0M242.4 269.1h0M258.9 120.9h0" stroke="#e24a33"/>
<path d="M289.7 269.4h0M99.3 180.2h0M244.6 330.3h0M454 163.5h0M438.1 301h0M177.5 193.2h0M120.5 308.4h0M341.5 332.8h0M394.9 260.3h0M370.8 226.1h0M112.3 234h0" stroke="#f28e4e"/>
<path d="M119.7 318.5h0M346.1 315.9h0M460.5 231.1h0M384.6 208.7h0M363.2 75.2h0M377.1 348.4h0M95.1 147h0M301.2 313.3h0M169.3 99.3h0M172.5 243.3h0M379 169.9h0" stroke="#f17796"/>
<path d="M220.7 170.9h0M213.6 178h0M104.1 205.1h0M469 176.2h0M376.4 93h0M353.2 289.5h0M346.3 210.6h0M268.3 252.2h0M109.3 286.9h0M445.8 210.7h0M251.7 277.2h0M146.3 128.2h0M151.7 233.3h0" stroke="#d39b31"/>
<path d="M199.1 116.7h0M353.4 354.6h0M191.3 272.8h0M239.4 321.7h0M309.7 128.2h0M266.6 166.3h0M140.6 159h0M202 295.5h0M266.6 237.7h0M261.9 315.4h0M406.9 223.9h0M267.3 277.8h0" stroke="#2cd8a8"/>
</g>
<text x="227.3" y="80.1" font-size="42" text-anchor="middle">11</text>
<text x="292.7" y="114.7" font-size="42" text-anchor="middle">5</text>
<text x="182.6" y="147.8" font-size="42" text-anchor="middle">10</text>
<text x="447" y="147.8" font-size="42" text-anchor="middle">7</text>
<text x="357.3" y="173" font-size="42" text-anchor="middle">13</text>
<text x="278.6" y="190.3" font-size="42" text-anchor="middle">6</text>
<text x="107" y="199.7" font-size="42" text-anchor="middle">12</text>
<text x="162.1" y="237.5" font-size="42" text-anchor="middle">9</text>
<text x="404.5" y="242.2" font-size="42" text-anchor="middle">2</text>
<text x="245.5" y="253.2" font-size="42" text-anchor="middle">3</text>
<text x="20.5" y="287.8" font-size="42" text-anchor="middle">14</text>
<text x="134.7" y="306.7" font-size="42" text-anchor="middle">1</text>
<text x="355.7" y="325.6" font-size="42" text-anchor="middle">8</text>
<text x="278.6" y="357.1" font-size="42" text-anchor="middle">4</text>
<g fill="none" stroke="#c8c8c8" stroke-width="5.6" stroke-linecap="round" transform="translate(514.3 43.3) scale(0.845 0.832)"><use href="#aall"/></g>
<circle cx="882.6" cy="226.4" r="1.5" fill="#a50f15"/>
<circle cx="884.5" cy="210.1" r="1.5" fill="#ef6b55"/>
<circle cx="644.8" cy="186" r="1.5" fill="#a50f15"/>
<circle cx="698.6" cy="248.3" r="1.5" fill="#ef6b55"/>
<circle cx="663" cy="130.8" r="1.5" fill="#a50f15"/>
<circle cx="716.7" cy="203.3" r="1.5" fill="#ef6b55"/>
<circle cx="761.6" cy="150.4" r="1.5" fill="#e0553f"/>
<circle cx="682.3" cy="203.7" r="1.5" fill="#a50f15"/>
<circle cx="849.1" cy="203.2" r="1.5" fill="#ef6b55"/>
<circle cx="770.4" cy="249.6" r="1.5" fill="#e0553f"/>
<circle cx="588.3" cy="295.3" r="1.5" fill="#e0553f"/>
<circle cx="744.5" cy="100.7" r="1.5" fill="#e0553f"/>
<circle cx="583.1" cy="243.4" r="1.5" fill="#ef6b55"/>
<circle cx="720.4" cy="268.1" r="1.5" fill="#e0553f"/>
<circle cx="793.6" cy="314.8" r="1.5" fill="#a50f15"/>
<circle cx="757.8" cy="170.3" r="1.5" fill="#a50f15"/>
<text x="520" y="74" font-size="28.8">Venus</text>
<path d="M709.3 41.2L579.9 185.4M784.9 87.9L733.7 280.5" stroke="#000" stroke-width="2.1" fill="none"/>
<rect x="709.3" y="41.2" width="75.6" height="46.7" fill="#fff" stroke="#000" stroke-width="2.1"/>
<rect x="579.9" y="185.4" width="153.8" height="95.1" fill="#fff" stroke="#000" stroke-width="2.1"/>
<path d="M735.6 77.8h0M728.3 74.8h0M722.9 68h0M730.1 77.6h0M734.5 78.4h0M728.7 73.1h0M740.1 75.7h0M734.7 77.7h0M725.4 70.1h0M767.8 52.3h0M767 52.2h0M780 47.8h0M767.4 51.7h0M772.9 50.9h0M774.9 49.9h0M771.8 51.4h0M771.4 51.3h0M780 48.1h0M768.7 51.8h0M773.4 50.2h0M773.7 50h0M774 49.8h0M780.9 47.9h0" stroke="#c8c8c8" stroke-width="2.5" stroke-linecap="round" fill="none"/>
<circle cx="726.8" cy="71.9" r="1.2" fill="#a50f15"/>
<circle cx="728.6" cy="72.1" r="1.2" fill="#a50f15"/>
<circle cx="730.6" cy="71.2" r="1.2" fill="#fb6a4a"/>
<circle cx="731.1" cy="68.1" r="1.2" fill="#67000d"/>
<circle cx="731.5" cy="68.9" r="1.2" fill="#67000d"/>
<circle cx="734.3" cy="70.9" r="1.2" fill="#cb181d"/>
<circle cx="735.7" cy="68.9" r="1.2" fill="#e32f27"/>
<circle cx="736.6" cy="69.2" r="1.2" fill="#e32f27"/>
<circle cx="738" cy="68.7" r="1.2" fill="#a50f15"/>
<circle cx="740" cy="67.4" r="1.2" fill="#67000d"/>
<circle cx="740.2" cy="66" r="1.2" fill="#67000d"/>
<circle cx="742" cy="66" r="1.2" fill="#a50f15"/>
<circle cx="743.6" cy="65.2" r="1.2" fill="#cb181d"/>
<circle cx="745.7" cy="65.2" r="1.2" fill="#cb181d"/>
<circle cx="747.3" cy="64.4" r="1.2" fill="#ef3b2c"/>
<circle cx="746.9" cy="62.6" r="1.2" fill="#ef3b2c"/>
<circle cx="749.3" cy="63.4" r="1.2" fill="#a50f15"/>
<circle cx="749.6" cy="61" r="1.2" fill="#67000d"/>
<circle cx="751" cy="60.6" r="1.2" fill="#cb181d"/>
<circle cx="752.8" cy="59.2" r="1.2" fill="#a50f15"/>
<circle cx="754.2" cy="59.4" r="1.2" fill="#e32f27"/>
<circle cx="756" cy="59.3" r="1.2" fill="#cb181d"/>
<circle cx="756.7" cy="58.8" r="1.2" fill="#fb6a4a"/>
<circle cx="758.4" cy="57.5" r="1.2" fill="#fb6a4a"/>
<circle cx="760.4" cy="58.1" r="1.2" fill="#fb6a4a"/>
<circle cx="761.4" cy="56.8" r="1.2" fill="#ef3b2c"/>
<circle cx="762" cy="54.7" r="1.2" fill="#ef3b2c"/>
<circle cx="764.4" cy="54.4" r="1.2" fill="#a50f15"/>
<circle cx="764.8" cy="53.6" r="1.2" fill="#ef3b2c"/>
<circle cx="766.2" cy="52.5" r="1.2" fill="#67000d"/>
<path d="M652.1 252.5h0M625.9 259.6h0M609.9 240.6h0M633.9 260.2h0M620.4 253.8h0M612.4 246.4h0M621.4 257.3h0M607.9 242.7h0M616.7 243.1h0M724.9 198.9h0M710.7 204h0M699.5 208.8h0M697.2 206.3h0M711.8 204.7h0M707.9 204.7h0M697.3 208.4h0M700.2 207.3h0M704.1 205.1h0M724.2 199.7h0M716.8 200.7h0M712.7 203.3h0M711.7 202.6h0M699.3 207.3h0" stroke="#c8c8c8" stroke-width="5.6" stroke-linecap="round" fill="none"/>
<circle cx="615.7" cy="250.9" r="2.8" fill="#f8694c"/>
<circle cx="618.9" cy="248.2" r="2.8" fill="#f8694c"/>
<circle cx="619.1" cy="243.7" r="2.8" fill="#fb6a4a"/>
<circle cx="622.5" cy="247.2" r="2.8" fill="#a50f15"/>
<circle cx="623.2" cy="244.5" r="2.8" fill="#67000d"/>
<circle cx="626.7" cy="243.2" r="2.8" fill="#e32f27"/>
<circle cx="629.4" cy="246.1" r="2.8" fill="#fb6a4a"/>
<circle cx="630" cy="242.3" r="2.8" fill="#e32f27"/>
<circle cx="632.9" cy="242.2" r="2.8" fill="#a50f15"/>
<circle cx="637" cy="243.5" r="2.8" fill="#e32f27"/>
<circle cx="638" cy="240.3" r="2.8" fill="#e32f27"/>
<circle cx="639.3" cy="240.7" r="2.8" fill="#a50f15"/>
<circle cx="642.4" cy="238.2" r="2.8" fill="#fb6a4a"/>
<circle cx="643.6" cy="238.5" r="2.8" fill="#67000d"/>
<circle cx="646.7" cy="236.7" r="2.8" fill="#e32f27"/>
<circle cx="648.8" cy="235.2" r="2.8" fill="#ef3b2c"/>
<circle cx="651.2" cy="235.7" r="2.8" fill="#ef3b2c"/>
<circle cx="653.4" cy="234.3" r="2.8" fill="#fb6a4a"/>
<circle cx="653.7" cy="230.5" r="2.8" fill="#ef3b2c"/>
<circle cx="657" cy="232.7" r="2.8" fill="#f8694c"/>
<circle cx="659.1" cy="231.5" r="2.8" fill="#f8694c"/>
<circle cx="658.6" cy="227.4" r="2.8" fill="#cb181d"/>
<circle cx="662.5" cy="227.5" r="2.8" fill="#e32f27"/>
<circle cx="665.7" cy="229.5" r="2.8" fill="#cb181d"/>
<circle cx="664.9" cy="224.8" r="2.8" fill="#fb6a4a"/>
<circle cx="669.4" cy="227.1" r="2.8" fill="#a50f15"/>
<circle cx="670" cy="223" r="2.8" fill="#67000d"/>
<circle cx="673.1" cy="223.4" r="2.8" fill="#fb6a4a"/>
<circle cx="674.1" cy="222.9" r="2.8" fill="#f8694c"/>
<circle cx="675.4" cy="217.3" r="2.8" fill="#f8694c"/>
<circle cx="678.5" cy="221.8" r="2.8" fill="#f8694c"/>
<circle cx="681.3" cy="219.7" r="2.8" fill="#fb6a4a"/>
<circle cx="682.5" cy="218.4" r="2.8" fill="#fb6a4a"/>
<circle cx="685.1" cy="216.2" r="2.8" fill="#67000d"/>
<circle cx="685.2" cy="214.5" r="2.8" fill="#a50f15"/>
<circle cx="686.3" cy="210.8" r="2.8" fill="#a50f15"/>
<circle cx="689.3" cy="213.4" r="2.8" fill="#e32f27"/>
<circle cx="693.8" cy="214.1" r="2.8" fill="#67000d"/>
<circle cx="691.1" cy="203.7" r="2.8" fill="#cb181d"/>
<circle cx="695.1" cy="209.2" r="2.8" fill="#ef3b2c"/>
<g fill="none" stroke="#c8c8c8" stroke-width="5.6" stroke-linecap="round" transform="translate(953.8 43.3) scale(0.845 0.832)"><use href="#aall"/></g>
<circle cx="1249.3" cy="310.9" r="1.5" fill="#cb2a20"/>
<circle cx="1146.3" cy="196.1" r="1.5" fill="#e0553f"/>
<circle cx="1275.6" cy="190.4" r="1.5" fill="#e0553f"/>
<circle cx="1172.8" cy="90.4" r="1.5" fill="#a50f15"/>
<circle cx="1256.4" cy="175.3" r="1.5" fill="#a50f15"/>
<circle cx="1229.2" cy="320.9" r="1.5" fill="#cb2a20"/>
<circle cx="1311.6" cy="239" r="1.5" fill="#e0553f"/>
<circle cx="1111.6" cy="221.6" r="1.5" fill="#e0553f"/>
<circle cx="1301.4" cy="132.1" r="1.5" fill="#e0553f"/>
<circle cx="1050.5" cy="223.2" r="1.5" fill="#cb2a20"/>
<circle cx="1198.4" cy="312.7" r="1.5" fill="#ef6b55"/>
<circle cx="1310.9" cy="240.5" r="1.5" fill="#ef6b55"/>
<circle cx="1314.4" cy="236.2" r="1.5" fill="#a50f15"/>
<circle cx="1032.3" cy="270.5" r="1.5" fill="#a50f15"/>
<circle cx="1133.5" cy="198.2" r="1.5" fill="#e0553f"/>
<circle cx="1252.2" cy="287.6" r="1.5" fill="#ef6b55"/>
<circle cx="1340.4" cy="167.2" r="1.5" fill="#cb2a20"/>
<circle cx="1016.1" cy="250.4" r="1.5" fill="#ef6b55"/>
<text x="966" y="74.5" font-size="28.8" font-style="italic">KNU</text>
<path d="M1153.2 41.2L1011.4 186.5M1234.7 89.6L1178.2 282.6" stroke="#000" stroke-width="2.1" fill="none"/>
<rect x="1153.2" y="41.2" width="81.5" height="48.4" fill="#fff" stroke="#000" stroke-width="2.1"/>
<rect x="1011.4" y="186.5" width="166.8" height="96.1" fill="#fff" stroke="#000" stroke-width="2.1"/>
<path d="M1179.8 80.4h0M1176.3 75.1h0M1174.7 78.8h0M1175.4 71.8h0M1189.9 78.1h0M1180.9 78.6h0M1174.5 72.1h0M1181.9 78.2h0M1168.5 69.5h0M1221.3 50.8h0M1227.4 48.5h0M1225.8 49.3h0M1216 52.1h0M1229.9 48.1h0M1229.4 48.3h0M1217.2 52.6h0M1222 51h0M1222.3 49.8h0M1220.1 51.5h0M1229.6 48.8h0M1217.1 52.2h0M1218.1 51.8h0M1218.6 51.6h0" stroke="#c8c8c8" stroke-width="2.5" stroke-linecap="round" fill="none"/>
<circle cx="1172.2" cy="73.2" r="1.2" fill="#a50f15"/>
<circle cx="1174.8" cy="74.1" r="1.2" fill="#67000d"/>
<circle cx="1175.4" cy="73.6" r="1.2" fill="#a50f15"/>
<circle cx="1177.1" cy="71.9" r="1.2" fill="#a50f15"/>
<circle cx="1178.9" cy="71.8" r="1.2" fill="#f8694c"/>
<circle cx="1179.7" cy="70" r="1.2" fill="#a50f15"/>
<circle cx="1181.8" cy="70.6" r="1.2" fill="#cb181d"/>
<circle cx="1182.7" cy="69.9" r="1.2" fill="#fb6a4a"/>
<circle cx="1185.2" cy="69.7" r="1.2" fill="#67000d"/>
<circle cx="1186.3" cy="68.7" r="1.2" fill="#ef3b2c"/>
<circle cx="1187.6" cy="66.3" r="1.2" fill="#67000d"/>
<circle cx="1188.5" cy="66.9" r="1.2" fill="#a50f15"/>
<circle cx="1190.2" cy="64.4" r="1.2" fill="#fb6a4a"/>
<circle cx="1191.2" cy="64.8" r="1.2" fill="#e32f27"/>
<circle cx="1193.7" cy="66.6" r="1.2" fill="#67000d"/>
<circle cx="1195.6" cy="64" r="1.2" fill="#f8694c"/>
<circle cx="1195.6" cy="63.2" r="1.2" fill="#67000d"/>
<circle cx="1197.9" cy="62.4" r="1.2" fill="#cb181d"/>
<circle cx="1199.7" cy="62" r="1.2" fill="#e32f27"/>
<circle cx="1200.4" cy="61.3" r="1.2" fill="#e32f27"/>
<circle cx="1201.6" cy="60.1" r="1.2" fill="#e32f27"/>
<circle cx="1203.9" cy="60.2" r="1.2" fill="#ef3b2c"/>
<circle cx="1205.1" cy="58.9" r="1.2" fill="#cb181d"/>
<circle cx="1206.9" cy="58.2" r="1.2" fill="#e32f27"/>
<circle cx="1207.5" cy="57.3" r="1.2" fill="#a50f15"/>
<circle cx="1208.6" cy="55.1" r="1.2" fill="#ef3b2c"/>
<circle cx="1209.9" cy="55.9" r="1.2" fill="#cb181d"/>
<circle cx="1211.2" cy="55.4" r="1.2" fill="#67000d"/>
<circle cx="1213.2" cy="54.1" r="1.2" fill="#fb6a4a"/>
<circle cx="1214.2" cy="52.8" r="1.2" fill="#fb6a4a"/>
<path d="M1046.9 241.1h0M1054.2 248.4h0M1056.8 259.8h0M1089.7 254h0M1081.8 256.6h0M1052 259.5h0M1088.1 259.1h0M1090.3 259.3h0M1053.1 248.5h0M1156.5 203.2h0M1147.4 208.1h0M1141.8 208.4h0M1167.6 200.1h0M1142.2 207.8h0M1150.2 206.9h0M1151.9 205.7h0M1144.2 208.3h0M1163.4 201.8h0M1166.4 201.4h0M1169.6 200.3h0M1146.8 206.8h0M1168.6 200.1h0M1151.2 206.2h0" stroke="#c8c8c8" stroke-width="5.6" stroke-linecap="round" fill="none"/>
<circle cx="1051" cy="253.7" r="2.8" fill="#e32f27"/>
<circle cx="1053.6" cy="251.5" r="2.8" fill="#e32f27"/>
<circle cx="1055.3" cy="251.1" r="2.8" fill="#ef3b2c"/>
<circle cx="1058.4" cy="249.7" r="2.8" fill="#cb181d"/>
<circle cx="1059.5" cy="249" r="2.8" fill="#fb6a4a"/>
<circle cx="1062.4" cy="247.5" r="2.8" fill="#ef3b2c"/>
<circle cx="1064.6" cy="245.9" r="2.8" fill="#fb6a4a"/>
<circle cx="1064.5" cy="242.5" r="2.8" fill="#e32f27"/>
<circle cx="1068.3" cy="243.7" r="2.8" fill="#cb181d"/>
<circle cx="1072.1" cy="244.5" r="2.8" fill="#f8694c"/>
<circle cx="1071.8" cy="238.4" r="2.8" fill="#fb6a4a"/>
<circle cx="1074.7" cy="240.9" r="2.8" fill="#ef3b2c"/>
<circle cx="1077.3" cy="238.6" r="2.8" fill="#f8694c"/>
<circle cx="1079.9" cy="237" r="2.8" fill="#a50f15"/>
<circle cx="1082.2" cy="234.3" r="2.8" fill="#cb181d"/>
<circle cx="1085.8" cy="240.1" r="2.8" fill="#fb6a4a"/>
<circle cx="1088.8" cy="237.1" r="2.8" fill="#a50f15"/>
<circle cx="1088.7" cy="233.2" r="2.8" fill="#a50f15"/>
<circle cx="1090.7" cy="232.7" r="2.8" fill="#e32f27"/>
<circle cx="1093.5" cy="233.2" r="2.8" fill="#67000d"/>
<circle cx="1094.6" cy="230.1" r="2.8" fill="#ef3b2c"/>
<circle cx="1097.5" cy="230.8" r="2.8" fill="#cb181d"/>
<circle cx="1100.6" cy="227.9" r="2.8" fill="#f8694c"/>
<circle cx="1100.3" cy="226.7" r="2.8" fill="#ef3b2c"/>
<circle cx="1104.4" cy="225.3" r="2.8" fill="#ef3b2c"/>
<circle cx="1106.2" cy="225.5" r="2.8" fill="#f8694c"/>
<circle cx="1110.4" cy="227" r="2.8" fill="#cb181d"/>
<circle cx="1111.5" cy="225.2" r="2.8" fill="#cb181d"/>
<circle cx="1113.7" cy="223.2" r="2.8" fill="#cb181d"/>
<circle cx="1115.6" cy="220.5" r="2.8" fill="#ef3b2c"/>
<circle cx="1117.2" cy="221.3" r="2.8" fill="#fb6a4a"/>
<circle cx="1119.9" cy="218.4" r="2.8" fill="#fb6a4a"/>
<circle cx="1122.8" cy="221.9" r="2.8" fill="#ef3b2c"/>
<circle cx="1126.3" cy="218.9" r="2.8" fill="#fb6a4a"/>
<circle cx="1126.5" cy="218" r="2.8" fill="#ef3b2c"/>
<circle cx="1128.9" cy="214.5" r="2.8" fill="#a50f15"/>
<circle cx="1129.3" cy="213.6" r="2.8" fill="#fb6a4a"/>
<circle cx="1133.9" cy="212.6" r="2.8" fill="#cb181d"/>
<circle cx="1135.2" cy="212.5" r="2.8" fill="#f8694c"/>
<circle cx="1137.1" cy="212" r="2.8" fill="#a50f15"/>
<g fill="none" stroke="#c8c8c8" stroke-width="5.6" stroke-linecap="round" transform="translate(1394.3 43.3) scale(0.845 0.832)"><use href="#aall"/></g>
<circle cx="1460.4" cy="212.8" r="1.5" fill="#f7b799"/>
<circle cx="1702.6" cy="210" r="1.5" fill="#f7b799"/>
<circle cx="1535.3" cy="323.5" r="1.5" fill="#f4a582"/>
<circle cx="1618.8" cy="247.3" r="1.5" fill="#f4a582"/>
<circle cx="1598.9" cy="96" r="1.5" fill="#f08a60"/>
<circle cx="1624" cy="203.3" r="1.5" fill="#e86a48"/>
<circle cx="1605.8" cy="102.1" r="1.5" fill="#f4a582"/>
<circle cx="1635" cy="61.8" r="1.5" fill="#f4a582"/>
<circle cx="1561.6" cy="220.8" r="1.5" fill="#f4a582"/>
<circle cx="1661.1" cy="196.5" r="1.5" fill="#f4a582"/>
<circle cx="1722.3" cy="311.6" r="1.5" fill="#f4a582"/>
<circle cx="1621.3" cy="301.2" r="1.5" fill="#f7b799"/>
<circle cx="1649.3" cy="260.5" r="1.5" fill="#f7b799"/>
<circle cx="1678.2" cy="242.4" r="1.5" fill="#f08a60"/>
<circle cx="1699.7" cy="224.6" r="1.5" fill="#e86a48"/>
<circle cx="1708.3" cy="158.2" r="1.5" fill="#f7b799"/>
<circle cx="1740.2" cy="191.2" r="1.5" fill="#f08a60"/>
<circle cx="1731.7" cy="200.8" r="1.5" fill="#f7b799"/>
<circle cx="1474.1" cy="284.5" r="1.5" fill="#f4a582"/>
<circle cx="1541.3" cy="286.4" r="1.5" fill="#f4a582"/>
<circle cx="1769.2" cy="238.8" r="1.5" fill="#f4a582"/>
<circle cx="1494.8" cy="324.8" r="1.5" fill="#f7b799"/>
<circle cx="1753.1" cy="234.4" r="1.5" fill="#e86a48"/>
<circle cx="1697.3" cy="309.3" r="1.5" fill="#f08a60"/>
<circle cx="1757.7" cy="177.8" r="1.5" fill="#f7b799"/>
<circle cx="1661.4" cy="148.6" r="1.5" fill="#f7b799"/>
<circle cx="1640.9" cy="311.6" r="1.5" fill="#f4a582"/>
<circle cx="1645.9" cy="193.7" r="1.5" fill="#f08a60"/>
<circle cx="1595.4" cy="260.8" r="1.5" fill="#f7b799"/>
<circle cx="1744.7" cy="121.6" r="1.5" fill="#f08a60"/>
<circle cx="1630" cy="256.4" r="1.5" fill="#f4a582"/>
<circle cx="1726.5" cy="214.2" r="1.5" fill="#f08a60"/>
<circle cx="1666.9" cy="122.3" r="1.5" fill="#f4a582"/>
<circle cx="1687.2" cy="114.2" r="1.5" fill="#e86a48"/>
<circle cx="1606.5" cy="264" r="1.5" fill="#f4a582"/>
<circle cx="1792.1" cy="222.6" r="1.5" fill="#e86a48"/>
<circle cx="1634" cy="202.5" r="1.5" fill="#f4a582"/>
<circle cx="1628.3" cy="132.6" r="1.5" fill="#f08a60"/>
<circle cx="1520.3" cy="228" r="1.5" fill="#f4a582"/>
<circle cx="1694.5" cy="139.2" r="1.5" fill="#f08a60"/>
<circle cx="1750.6" cy="212.7" r="1.5" fill="#f08a60"/>
<circle cx="1668.2" cy="181.2" r="1.5" fill="#f7b799"/>
<circle cx="1527.1" cy="206.3" r="1.5" fill="#f08a60"/>
<circle cx="1660.3" cy="321.8" r="1.5" fill="#f08a60"/>
<circle cx="1672.1" cy="182.2" r="1.5" fill="#f4a582"/>
<circle cx="1678.2" cy="192.4" r="1.5" fill="#e86a48"/>
<circle cx="1630.9" cy="272.7" r="1.5" fill="#f4a582"/>
<circle cx="1407.1" cy="273.4" r="1.5" fill="#f08a60"/>
<circle cx="1774.6" cy="188" r="1.5" fill="#f4a582"/>
<circle cx="1544.3" cy="281.2" r="1.5" fill="#f08a60"/>
<circle cx="1745.8" cy="212.7" r="1.5" fill="#f08a60"/>
<circle cx="1527.4" cy="230.7" r="1.5" fill="#e86a48"/>
<circle cx="1694.7" cy="269.1" r="1.5" fill="#f4a582"/>
<circle cx="1517.9" cy="194.1" r="1.5" fill="#f4a582"/>
<circle cx="1691.5" cy="189.4" r="1.5" fill="#f08a60"/>
<circle cx="1604.5" cy="119.9" r="1.5" fill="#f08a60"/>
<circle cx="1615.4" cy="353.2" r="1.5" fill="#e86a48"/>
<circle cx="1663.1" cy="257.1" r="1.5" fill="#e86a48"/>
<circle cx="1702.2" cy="269.5" r="1.5" fill="#f7b799"/>
<circle cx="1673.9" cy="334.1" r="1.5" fill="#f4a582"/>
<circle cx="1656.8" cy="149.8" r="1.5" fill="#e86a48"/>
<circle cx="1640.3" cy="257.8" r="1.5" fill="#f7b799"/>
<circle cx="1490.2" cy="251.6" r="1.5" fill="#f4a582"/>
<circle cx="1616.5" cy="234.3" r="1.5" fill="#f7b799"/>
<circle cx="1457.1" cy="230.6" r="1.5" fill="#f4a582"/>
<circle cx="1699.3" cy="317.6" r="1.5" fill="#e86a48"/>
<circle cx="1510.7" cy="320.8" r="1.5" fill="#f08a60"/>
<circle cx="1465.2" cy="293.2" r="1.5" fill="#f4a582"/>
<circle cx="1527.4" cy="230.7" r="1.5" fill="#f4a582"/>
<circle cx="1697.3" cy="132.3" r="1.5" fill="#f4a582"/>
<circle cx="1470.6" cy="235.4" r="1.5" fill="#f4a582"/>
<circle cx="1639.1" cy="211.1" r="1.5" fill="#f4a582"/>
<circle cx="1628.4" cy="363" r="1.5" fill="#e86a48"/>
<circle cx="1644.6" cy="155.1" r="1.5" fill="#f4a582"/>
<circle cx="1602.4" cy="228.9" r="1.5" fill="#f08a60"/>
<circle cx="1699.3" cy="322.4" r="1.5" fill="#f4a582"/>
<circle cx="1665" cy="129" r="1.5" fill="#f08a60"/>
<circle cx="1694.5" cy="139.2" r="1.5" fill="#f08a60"/>
<circle cx="1726.7" cy="281.5" r="1.5" fill="#f4a582"/>
<circle cx="1555.2" cy="330.6" r="1.5" fill="#f08a60"/>
<circle cx="1666.9" cy="119.6" r="1.5" fill="#f4a582"/>
<circle cx="1640.4" cy="316.6" r="1.5" fill="#f7b799"/>
<circle cx="1582.1" cy="171.7" r="1.5" fill="#e86a48"/>
<circle cx="1577" cy="286.8" r="1.5" fill="#f7b799"/>
<circle cx="1719.6" cy="251.9" r="1.5" fill="#f4a582"/>
<circle cx="1738.5" cy="192.4" r="1.5" fill="#e86a48"/>
<circle cx="1783.1" cy="143.1" r="1.5" fill="#f08a60"/>
<circle cx="1698.8" cy="195.3" r="1.5" fill="#f08a60"/>
<circle cx="1599.4" cy="318.3" r="1.5" fill="#f7b799"/>
<circle cx="1751.1" cy="213.4" r="1.5" fill="#e86a48"/>
<circle cx="1600.5" cy="210.6" r="1.5" fill="#f4a582"/>
<circle cx="1667.9" cy="335.1" r="1.5" fill="#f4a582"/>
<circle cx="1681.7" cy="140.7" r="1.5" fill="#e86a48"/>
<circle cx="1685.9" cy="345.3" r="1.5" fill="#f08a60"/>
<circle cx="1540.9" cy="269.5" r="1.5" fill="#f4a582"/>
<text x="1404" y="77.5" font-size="28.8" font-style="italic">ASY1</text>
<path d="M1581.1 41.6L1456.8 189M1670.7 89.6L1634.4 284.6" stroke="#000" stroke-width="2.1" fill="none"/>
<rect x="1581.1" y="41.6" width="89.6" height="48" fill="#fff" stroke="#000" stroke-width="2.1"/>
<rect x="1456.8" y="189" width="177.6" height="95.6" fill="#fff" stroke="#000" stroke-width="2.1"/>
<path d="M1606.8 81.2h0M1608.2 87.1h0M1612.5 79.2h0M1608.5 82.1h0M1613.1 72.3h0M1608.7 80.2h0M1606 86.8h0M1607.2 70.2h0M1613.4 72.1h0" stroke="#c8c8c8" stroke-width="2.5" stroke-linecap="round" fill="none"/>
<circle cx="1610.5" cy="83.1" r="1.2" fill="#fc9272"/>
<circle cx="1610.9" cy="79.9" r="1.2" fill="#fc9272"/>
<circle cx="1612.8" cy="77.6" r="1.2" fill="#fb7a5a"/>
<circle cx="1613.5" cy="77" r="1.2" fill="#fb7a5a"/>
<circle cx="1614.9" cy="74.4" r="1.2" fill="#fc9272"/>
<circle cx="1616.8" cy="72.4" r="1.2" fill="#fb7a5a"/>
<circle cx="1616.9" cy="71.7" r="1.2" fill="#fdbb9a"/>
<circle cx="1618.6" cy="70.4" r="1.2" fill="#fb7a5a"/>
<circle cx="1622" cy="70.1" r="1.2" fill="#fb7a5a"/>
<circle cx="1622" cy="68" r="1.2" fill="#fb7a5a"/>
<circle cx="1623.9" cy="67.3" r="1.2" fill="#fb7a5a"/>
<circle cx="1625.6" cy="64" r="1.2" fill="#fb7a5a"/>
<circle cx="1628.6" cy="64.4" r="1.2" fill="#ef3b2c"/>
<circle cx="1628.7" cy="62.3" r="1.2" fill="#a50f15"/>
<circle cx="1632.8" cy="62.9" r="1.2" fill="#cb181d"/>
<circle cx="1630.3" cy="57.6" r="1.2" fill="#a50f15"/>
<circle cx="1633.5" cy="58.1" r="1.2" fill="#cb181d"/>
<circle cx="1637" cy="60.5" r="1.2" fill="#a50f15"/>
<circle cx="1638.5" cy="56.9" r="1.2" fill="#cb181d"/>
<circle cx="1638.1" cy="54.2" r="1.2" fill="#b5121b"/>
<circle cx="1640.5" cy="54.2" r="1.2" fill="#a50f15"/>
<circle cx="1643.8" cy="53" r="1.2" fill="#b5121b"/>
<circle cx="1643.8" cy="52.7" r="1.2" fill="#b5121b"/>
<circle cx="1646.5" cy="51.1" r="1.2" fill="#a50f15"/>
<circle cx="1649.9" cy="53.5" r="1.2" fill="#8a0812"/>
<circle cx="1651.3" cy="51.8" r="1.2" fill="#cb181d"/>
<circle cx="1652.8" cy="51.6" r="1.2" fill="#cb181d"/>
<circle cx="1654.8" cy="51.4" r="1.2" fill="#8a0812"/>
<circle cx="1656.9" cy="48.5" r="1.2" fill="#cb181d"/>
<circle cx="1659.9" cy="48.6" r="1.2" fill="#cb181d"/>
<path d="M1519 252.4h0M1515.8 266.8h0M1502.4 245.2h0M1522.8 243.3h0M1507.9 269.6h0M1511.9 260.5h0M1512.9 264.7h0M1512.6 242.9h0M1500.7 237.8h0" stroke="#c8c8c8" stroke-width="5.6" stroke-linecap="round" fill="none"/>
<circle cx="1512.6" cy="265.6" r="2.8" fill="#fdbb9a"/>
<circle cx="1512.1" cy="262.4" r="2.8" fill="#fdbb9a"/>
<circle cx="1513" cy="260.4" r="2.8" fill="#fc9272"/>
<circle cx="1518.9" cy="261.6" r="2.8" fill="#fdbb9a"/>
<circle cx="1516.8" cy="255.3" r="2.8" fill="#fdbb9a"/>
<circle cx="1523.1" cy="257.3" r="2.8" fill="#fc9272"/>
<circle cx="1522.9" cy="253.1" r="2.8" fill="#fc9272"/>
<circle cx="1524.9" cy="247.6" r="2.8" fill="#fc9272"/>
<circle cx="1527.9" cy="247.7" r="2.8" fill="#fb7a5a"/>
<circle cx="1529.7" cy="243.6" r="2.8" fill="#fc9272"/>
<circle cx="1532.4" cy="245.8" r="2.8" fill="#fc9272"/>
<circle cx="1536.5" cy="243" r="2.8" fill="#fb7a5a"/>
<circle cx="1539.1" cy="241.2" r="2.8" fill="#fb7a5a"/>
<circle cx="1542.8" cy="240.2" r="2.8" fill="#a50f15"/>
<circle cx="1544.1" cy="238.1" r="2.8" fill="#cb181d"/>
<circle cx="1545.1" cy="236.5" r="2.8" fill="#ef3b2c"/>
<circle cx="1546.2" cy="233.1" r="2.8" fill="#ef3b2c"/>
<circle cx="1551.6" cy="231.1" r="2.8" fill="#ef3b2c"/>
<circle cx="1550.2" cy="226.2" r="2.8" fill="#cb181d"/>
<circle cx="1555.8" cy="227" r="2.8" fill="#ef3b2c"/>
<circle cx="1557.5" cy="223.8" r="2.8" fill="#a50f15"/>
<circle cx="1561.2" cy="225.8" r="2.8" fill="#cb181d"/>
<circle cx="1559.6" cy="220.3" r="2.8" fill="#ef3b2c"/>
<circle cx="1568.2" cy="222" r="2.8" fill="#cb181d"/>
<circle cx="1567.6" cy="216.7" r="2.8" fill="#b5121b"/>
<circle cx="1567.4" cy="215.3" r="2.8" fill="#b5121b"/>
<circle cx="1571.4" cy="213.8" r="2.8" fill="#b5121b"/>
<circle cx="1575.8" cy="218" r="2.8" fill="#b5121b"/>
<circle cx="1577.1" cy="208.6" r="2.8" fill="#8a0812"/>
<circle cx="1582.8" cy="211.9" r="2.8" fill="#cb181d"/>
<circle cx="1586" cy="214.1" r="2.8" fill="#cb181d"/>
<circle cx="1590.2" cy="214.4" r="2.8" fill="#b5121b"/>
<circle cx="1590.4" cy="207.9" r="2.8" fill="#b5121b"/>
<circle cx="1593.5" cy="212" r="2.8" fill="#cb181d"/>
<circle cx="1598.4" cy="211.3" r="2.8" fill="#8a0812"/>
<circle cx="1600.3" cy="206.8" r="2.8" fill="#8a0812"/>
<circle cx="1604.3" cy="208.3" r="2.8" fill="#b5121b"/>
<circle cx="1607.9" cy="211.8" r="2.8" fill="#8a0812"/>
<circle cx="1608.3" cy="206.7" r="2.8" fill="#cb181d"/>
<circle cx="1612.1" cy="204.8" r="2.8" fill="#cb181d"/>
<defs>
<path id="d1" d="M38.7 1253.2h0M112.9 1270.4h0M90.3 1169h0M108 1279.5h0M80.9 1176h0M85 1207.4h0M108.1 1263.3h0M78 1276.4h0M67.6 1210.8h0M33 1258.3h0M86.2 1264.5h0M95.1 1186.4h0M61.3 1242.6h0M65.6 1193.7h0M113.4 1266.3h0M50.1 1200.5h0M63 1282.8h0M83.9 1260h0M113.8 1279.7h0M83.9 1198h0M92.2 1246.7h0M69.2 1290.7h0M74.9 1178.2h0M83.4 1204.8h0M41.6 1210.2h0M105.4 1276.9h0M75.6 1168.4h0M50.2 1255.9h0M56.6 1284.9h0M91.5 1225.9h0M103.1 1232h0M29 1269.8h0M20.8 1249h0M69.6 1191.8h0M103.9 1270.2h0M63.5 1224.1h0M76.7 1224.5h0M93.5 1261.3h0M97.9 1271.9h0M56.8 1203.6h0M132 1261.8h0M59.7 1246.9h0M59.1 1194.5h0M43.8 1243.5h0M75 1219.3h0M67.5 1201.3h0M116.8 1287.6h0M24.5 1242.3h0M65 1176.3h0M68.7 1238.4h0M51.7 1210.7h0M81.6 1254h0M23.7 1226h0M83.5 1214h0M84.8 1248.2h0M40.6 1273.4h0M47.6 1265.4h0M85.5 1285.7h0M113.7 1260.4h0M65.9 1184.2h0M72.8 1240h0M81.8 1282.4h0M71.1 1245.4h0M49.1 1220.4h0M87 1223.7h0M94.8 1237.4h0M47.9 1259h0M62.7 1273.1h0M43.8 1188.8h0M97.9 1211.5h0M34.7 1280.2h0M94.9 1222.7h0M59.3 1205.8h0M38.9 1244.7h0M86.8 1271.7h0M97.3 1251.6h0M58.9 1267.7h0M32.5 1251.1h0M100.7 1246.4h0M43.4 1229.2h0M44.6 1280.7h0M54.7 1239.5h0M115.3 1251.9h0M114.8 1241.4h0M128.5 1272.5h0M97.7 1218.2h0M78.8 1201.7h0M67.9 1260.7h0M119.7 1296h0M38.1 1237.7h0M122 1261.1h0M60 1216.1h0M75.4 1254h0M86.4 1174.8h0M55.7 1178.3h0M73.2 1263.8h0M34.6 1233.4h0M109.1 1231.2h0M53.5 1251.8h0M94.1 1180.2h0M70.6 1215.7h0M93.3 1277.4h0M64.3 1207.3h0M42.6 1205.2h0M40.4 1239.4h0M82.5 1186h0M28.1 1261.1h0M30.7 1212.6h0M123.8 1270.8h0M101 1283.6h0M47.5 1195.2h0M96.9 1232.4h0M79.2 1218.5h0M42.1 1260.7h0M109 1237.3h0M93 1197h0M77.2 1213.9h0M54.7 1247h0M67.6 1227.8h0M78.8 1246h0M43.9 1182.3h0M83.2 1229.3h0M46.1 1274.8h0M88.3 1215h0M18.8 1241.9h0M29.1 1224.8h0M51.8 1288.4h0M60.9 1183h0M73.9 1270.9h0M65.3 1250.8h0M45.4 1255h0M67.8 1245.4h0M92 1175.8h0M73.1 1200.9h0M122.7 1279h0M99.4 1275.4h0M67.2 1220.8h0M44.3 1251.6h0M93.9 1287.6h0M84.3 1278h0M91.3 1266.4h0M100.1 1258.9h0M129 1255.3h0M35 1205.2h0M54.4 1190.9h0M93 1201.8h0M73.3 1288.1h0M87.2 1232.8h0M99.2 1235.7h0M126.4 1243.5h0M98.6 1205.9h0M88.1 1277h0M59.3 1184.6h0M52.3 1220.6h0M33.6 1273h0M93.1 1271.5h0M58.6 1277.3h0M28.2 1215.9h0M56.1 1234.3h0M38.4 1219.5h0M99.6 1289h0M55.9 1271.5h0M42.3 1258h0M89.6 1210.5h0M106.7 1258.3h0M91.7 1331.8h0M69.9 1326.5h0M63.8 1328.8h0M68.6 1331.6h0M54 1321.3h0M70 1348.8h0M89.4 1308.6h0M73.9 1308.8h0M78.8 1304.3h0M71.7 1322h0M76 1311h0M70.8 1303.1h0M89.6 1330.3h0M65.1 1303.8h0M78.3 1334.4h0M49.9 1345.7h0M86.5 1308.7h0M67.6 1315.7h0M59.5 1333.3h0M55.4 1312.4h0M56.8 1343.2h0M54.5 1352.9h0M86.8 1343.5h0M94.2 1342.7h0M44.8 1364.6h0M82.1 1312.5h0M85.8 1340.4h0M45.3 1320.8h0M72.8 1343.6h0M64.7 1353.9h0M81.9 1318.8h0M81.8 1328.3h0M57.4 1357.2h0M65.9 1349.9h0M54.1 1335.5h0M68.6 1351.1h0M47.7 1311.6h0M92.9 1315.8h0M88.7 1322.8h0M65.8 1309h0M47.3 1339.7h0M45.7 1360h0M82.8 1321.8h0M93.6 1351.8h0M67.2 1342.2h0M85 1316.2h0M59.9 1314.2h0M93.6 1303.6h0M60.7 1324h0M48.7 1325.5h0M71.7 1338.9h0M75.5 1347.2h0M46.7 1354.6h0M81.5 1344.7h0M81.5 1316.7h0M74.6 1321.1h0M78.5 1299h0M88.7 1302.8h0M72.9 1347.8h0M78.3 1313.1h0M71.8 1318.9h0M69 1344.8h0M128.5 1206h0M151.2 1205.2h0M156.2 1209.4h0M149.5 1216.1h0M172.2 1161.5h0M152 1275.7h0M152 1284.1h0M161.3 1353.9h0M67.2 1375.7h0"/>
<path id="d2" d="M403.1 1302.8h0M372.9 1322.3h0M446.8 1298.9h0M317.1 1310.8h0M359 1288.5h0M342.7 1296.6h0M330.1 1295.4h0M396 1301.6h0M345.7 1322h0M455.9 1303.4h0M400.8 1307.9h0M450.8 1295h0M372.2 1300.8h0M323.1 1303.1h0M356.9 1294.2h0M310 1291.1h0M364.3 1315h0M382.6 1295.5h0M320 1298h0M310.5 1316.7h0M323 1283.1h0M382.4 1290.6h0M378 1304h0M326.2 1326.3h0M412.5 1309.8h0M349.6 1292.6h0M418.8 1293.6h0M403.9 1298.4h0M321.3 1314.2h0M343.9 1317.7h0M351.4 1303.7h0M405.7 1308.3h0M316 1296.5h0M418 1304.3h0M368.4 1285.6h0M322 1307.6h0M358.1 1308.8h0M318.4 1304.2h0M443 1295h0M355.1 1320.2h0M392.2 1316.6h0M389.3 1312.6h0M344.6 1301.9h0M330.2 1303.2h0M328.5 1311.9h0M375.8 1282.5h0M408.5 1302.8h0M447.5 1291.2h0M450.5 1303.7h0M339 1306.2h0M453 1291h0M341.5 1314h0M316 1289.7h0M324.3 1294.2h0M362.9 1320.4h0M354.4 1293.7h0M325.2 1291.6h0M388.1 1306.7h0M362.8 1282.4h0M352.2 1313h0M328 1293.4h0M366.9 1310.5h0M464.6 1288.7h0M336.4 1292.4h0M367.4 1296h0M380.5 1292h0M334.5 1316.9h0M324.8 1307.5h0M425.3 1286.8h0M452.9 1300.9h0M411.2 1292.7h0M361.9 1305h0M349.4 1284.4h0M378.3 1308.6h0M433.9 1289.1h0M366.2 1287.4h0M458.5 1298.4h0M425.4 1299.2h0M392.4 1296.1h0M469.3 1292.4h0M321.4 1287.5h0M413 1297.9h0M418 1310.7h0M334.1 1327.6h0M336.2 1303.1h0M350.7 1323.7h0M419 1300.5h0M433.1 1301.3h0M384.2 1314.8h0M465 1299.1h0M369.4 1314.9h0M397.6 1312.3h0M427.1 1303.9h0M433.4 1307.5h0M383.3 1309.7h0M459 1293.6h0M372.5 1288.7h0M386 1285h0M374.3 1296.7h0M349.4 1300.7h0M440.4 1285.9h0M406.4 1311.8h0M438.5 1275.5h0M353.5 1309.1h0M392.4 1311.2h0M320.9 1319.8h0M365.9 1318.9h0M377.9 1313.4h0M348.7 1309.5h0M384.2 1306h0M347.4 1316.7h0M349.9 1288.2h0M373.9 1294.1h0M338.7 1294.5h0M344.4 1283h0M343 1291.9h0M445 1292.6h0M323.5 1319.2h0M400.4 1313.7h0M338.9 1303.4h0M368.4 1293.4h0M311.6 1306.8h0M327.7 1287.2h0M318.9 1296h0M424.4 1290.5h0M332.8 1299.2h0M340.4 1287.1h0M328.2 1328.5h0M454.7 1296.7h0M386.2 1304h0M338.5 1298.2h0M311 1300h0M318 1329h0M415.4 1290h0M368.1 1325.6h0M425.9 1307.8h0M334.3 1313.6h0M313.9 1321.9h0M388.7 1298.8h0M399.5 1303.1h0M314.1 1292h0M364.3 1299.7h0M343.6 1289.4h0M430.9 1303.5h0M430.9 1284.4h0M381.4 1316.5h0M341.9 1298.5h0M316.1 1306.9h0M389.3 1291.7h0M405.5 1292.1h0M371.1 1308h0M389.3 1309.6h0M440.5 1291h0M319.4 1324.5h0M440.6 1304.2h0M428.1 1281.3h0M350.3 1319.6h0M330.3 1320.1h0M318.5 1286.6h0M448.1 1300.9h0M315.8 1303.1h0M334.7 1286h0M390.8 1307.1h0M338.4 1300.5h0M384.9 1291.5h0M443.5 1302.4h0M362.6 1291.4h0M388.9 1287.9h0M423.4 1285.9h0M368.7 1280.1h0M339.7 1323.4h0M407 1299.4h0M455.9 1290.6h0M309.6 1303.6h0M386.2 1299.7h0M348 1295.3h0M384.2 1297.4h0M429.6 1290.3h0M444.4 1282.2h0M331.8 1306.2h0M435 1297.3h0M353.7 1314.9h0M389.9 1295.5h0M387.3 1289.6h0M412.2 1315h0M371.6 1280.3h0M350.5 1308.1h0M396.7 1310h0M475.8 1271.7h0M482.9 1274.4h0M470.5 1271.1h0M475.6 1279.5h0M484.3 1263.3h0M483.8 1267.9h0M479.1 1262h0M476.6 1277.1h0M482 1264.1h0M490 1267.8h0M482.2 1266.2h0M475.5 1267.1h0M475.4 1263.3h0M473.6 1272.9h0M482.6 1270h0M486.1 1277.8h0M484.6 1279.4h0M478.4 1266.7h0M479.4 1275.4h0M487.4 1272h0M480.8 1282.1h0M470.4 1268.4h0M482.2 1272.2h0M476.8 1269.9h0M483.1 1261.5h0M479.1 1271.6h0M472.9 1276h0M480.3 1268.2h0M481.6 1279.8h0M484.6 1271.8h0M434.1 1265.9h0M441.4 1258.5h0M450.7 1263.4h0M447.2 1258.3h0M444.4 1257.7h0M439.9 1263.6h0M450.4 1266h0M439.8 1265.8h0M445.8 1263.6h0M444.9 1251.2h0M436.2 1258.1h0M436.6 1253h0M434.2 1260h0M438.6 1261.5h0M450.8 1260h0M485.6 1205.7h0M483.7 1211.7h0M480.8 1238.6h0M481.2 1226h0M483.4 1236.4h0M479.5 1219.2h0M477 1223.2h0M479.6 1222.4h0M479.3 1224.9h0M483.5 1212.8h0M488.2 1209.5h0M479.8 1227h0M481.7 1239.4h0M484.8 1203h0M480.4 1231h0M482.5 1232.5h0M479.7 1221.3h0M485.5 1208.1h0M480 1222.4h0M478.4 1219.6h0M483.1 1211.4h0M481.8 1227.8h0M480 1226.8h0M481.2 1214.2h0M480.6 1230.1h0M479.1 1218.3h0M478.8 1221.7h0M483.3 1214.4h0M485.1 1208.9h0M479.5 1238.7h0M479.8 1218h0M481.5 1213.1h0M486.4 1203.7h0M481.5 1230.9h0M480.8 1247.7h0M476.5 1252.1h0M478.9 1243.8h0M479.8 1242.6h0M482.1 1243.4h0M481.3 1244.6h0M324.6 1254.9h0M319 1272.4h0M321.3 1247.1h0M323.6 1254.8h0M324.1 1255.4h0M322 1242.1h0M321.7 1271h0M319.5 1272.3h0M336.4 1242.1h0M336.4 1250.3h0M341.3 1261.7h0M352 1256.8h0M331.5 1276.4h0M292.3 1243.7h0M284.9 1229h0M271.9 1218.4h0M465.5 1269.1h0M467.2 1278.1h0"/>
<path id="d3" d="M237 1111.8h0M233.1 1121.3h0M177.3 1155h0M209.5 1124h0M229.2 1106.3h0M218.8 1103.7h0M191 1129.8h0M224.1 1129.3h0M192.8 1115.6h0M212.7 1127.9h0M200 1151.7h0M230.7 1114.3h0M233.8 1150.9h0M184.3 1148.8h0M174.1 1121.5h0M172.8 1131.5h0M169.5 1110.7h0M221.8 1113.4h0M241.9 1111.5h0M188.9 1152.9h0M208 1142h0M201.1 1120.7h0M224.9 1162.6h0M186.1 1129.6h0M243.1 1132.1h0M218.4 1090.9h0M200.5 1134.7h0M214 1144h0M221.4 1119.9h0M239.2 1149.6h0M236.7 1155.2h0M216 1095.4h0M193 1143.9h0M220.3 1125.9h0M190.5 1134.2h0M208.2 1134.2h0M183.4 1157.1h0M223.6 1132.7h0M214.2 1112.6h0M207 1119.2h0M184.9 1121.7h0M233.7 1102.3h0M222 1156.9h0M178.1 1113.4h0M181.4 1144h0M209.9 1112.7h0M185 1117h0M242.6 1153.1h0M169.4 1139.4h0M229.4 1097.1h0M216.4 1122.1h0M176.4 1122.4h0M205.1 1107.5h0M231.9 1119.1h0M210.6 1143h0M221 1137.7h0M171 1116.8h0M234.6 1126.8h0M202.2 1125.2h0M214.7 1135.5h0M238 1139h0M206.4 1128.1h0M224.4 1146.9h0M240.4 1137.3h0M179.8 1160.2h0M181.2 1125.5h0M236.4 1151.2h0M185.2 1136.6h0M199.5 1140.4h0M225.7 1101.4h0M202 1142.3h0M175.8 1145.7h0M227.7 1153.1h0M185.4 1153.8h0M234.9 1160.2h0M230.5 1111.6h0M247.8 1127.9h0M233.3 1140.3h0M216.4 1105.4h0M199.3 1107.6h0M239.9 1143.6h0M237.6 1119.8h0M189.8 1110.2h0M208.7 1104.4h0M247.9 1119.4h0M236.4 1145.8h0M229.4 1137.1h0M226.3 1128.7h0M206.2 1111h0M174.2 1156.4h0M201.1 1114.3h0M220.1 1150.3h0M176 1136h0M196.3 1138.2h0M174 1151.2h0M210.2 1115.6h0M187.6 1145.9h0M170.9 1125.1h0M173.7 1111.5h0M190.2 1119.8h0M213.6 1097.7h0M231.7 1116.4h0M194.3 1126.6h0M177.8 1159.1h0M225 1116.9h0M196.3 1148.8h0M223.7 1154.8h0M182.6 1162.5h0M202.2 1218.2h0M199.9 1208.3h0M211.9 1220.3h0M202.2 1211.4h0M203.5 1213.3h0M217.4 1215.8h0M226.8 1222.7h0M195.3 1214h0M203.8 1227.1h0M210.5 1215.8h0M204.5 1209.1h0M197.9 1216.1h0M212.1 1226.5h0M218 1223.6h0M143.2 1243h0M144.1 1237.4h0M145.1 1241.7h0M135.2 1232.5h0M148.7 1244.1h0M147.7 1251h0M138.2 1237.6h0M147.4 1241.5h0M139.9 1239.1h0M148.2 1170.4h0M145.9 1179h0M143.2 1182.8h0M147 1171.9h0M145 1185.3h0M147.2 1169.9h0M146.5 1180.9h0M147.1 1175.8h0M136.9 1192.6h0M173.5 1187.5h0M170.4 1186.5h0M160.2 1177.4h0M170.1 1187.5h0M167.8 1184.8h0M166.4 1184h0M169.2 1183.4h0M164.4 1184.2h0M220.9 1185.4h0M229.7 1193h0M226.7 1194.6h0M220.6 1191h0M215.8 1186.2h0M230.7 1199.4h0M232.5 1207.3h0M229.7 1201.1h0M214.6 1186.5h0M222.5 1185.8h0M219.4 1183h0M229.1 1202.3h0M233.9 1207.3h0M226.2 1193.2h0M157.8 1213.8h0M156.2 1208.3h0M156.4 1209.8h0M100 1160.3h0M178.1 1232h0M159.6 1233.7h0M216.7 1240.5h0M208.3 1242.1h0M198.3 1266.5h0M319.3 1236.4h0M320.1 1240.5h0M333.2 1236.4h0M303.7 1242.1h0M311.1 1248.6h0M317.6 1254.4h0M314.4 1257.6h0M275.6 1210.2h0M275.1 1229h0M277.3 1227.4h0M272.2 1320.9h0M277.9 1342.1h0"/>
<path id="d4" d="M221.5 1259.5h0M194.3 1304.7h0M208.6 1268.6h0M203.5 1308.6h0M220.9 1282.1h0M193.9 1292.1h0M182.2 1253.6h0M189.1 1239.5h0M168.1 1266.7h0M196.3 1268h0M203.9 1265h0M219.4 1253h0M237.5 1304.9h0M220 1262.8h0M199 1296.5h0M159.9 1259.3h0M207.2 1233.7h0M195.1 1236.5h0M233.2 1263.6h0M189.3 1298.8h0M216.9 1287.8h0M237.6 1317.4h0M211.2 1295.8h0M176.7 1276.7h0M177.2 1286.8h0M216 1260.7h0M156.9 1254.7h0M167.3 1294.3h0M202.6 1247.5h0M217.9 1234.1h0M163.3 1276.3h0M223 1257.1h0M184 1257.9h0M177.5 1266.4h0M229.3 1289h0M239.1 1254.1h0M222.9 1288.5h0M202.8 1290.5h0M226.6 1229.7h0M231.2 1235.4h0M221 1230.1h0M228.9 1270.8h0M171.5 1237.7h0M167.1 1244.9h0M177.9 1231.8h0M182.9 1242.4h0M189.8 1272.6h0M230.8 1297.3h0M203.4 1284h0M164.6 1270.9h0M233.8 1228.7h0M209.9 1251.9h0M182.3 1271.6h0M230 1330.3h0M212 1283.6h0M208.6 1288.8h0M186.1 1297.3h0M169.5 1251.8h0M203.5 1275.4h0M214.1 1265.2h0M205.8 1294.8h0M223.8 1248.2h0M176.5 1242.6h0M241.7 1325.8h0M237.2 1233.1h0M159 1292.3h0M161.6 1287h0M237.1 1276.9h0M199.5 1313.9h0M155.2 1261.4h0M160.1 1296.7h0M167.1 1260.3h0M187.7 1286.4h0M165.2 1250.8h0M206.2 1307.3h0M222 1264.4h0M206.3 1241.6h0M188.9 1247.3h0M235.2 1264.7h0M211.6 1246.8h0M206.2 1252.9h0M190.2 1234.1h0M215.3 1305.5h0M156.4 1242.4h0M196.2 1280h0M183.7 1266.9h0M161.2 1246.7h0M159.3 1263.1h0M199.9 1303h0M234.9 1318.5h0M212.3 1263.7h0M229.4 1278.6h0M223.8 1238.9h0M172 1246.3h0M234.6 1290.4h0M181 1233h0M208.6 1242.5h0M171.5 1290h0M171.4 1277.9h0M236.3 1302.9h0M235.5 1310h0M214.8 1252.2h0M180.4 1294.7h0M184.5 1282.5h0M224.9 1234.1h0M219.1 1305.9h0M228 1277h0M154.8 1249.3h0M178 1244.2h0M221 1296h0M197.4 1309.1h0M231.6 1273.3h0M166.3 1214.4h0M167.2 1222h0M231.9 1216.1h0M193.2 1327.8h0M196.6 1327.8h0M176.4 1339.6h0M184.8 1335.4h0M100.8 1342.6h0M55.4 1379.9h0M139.4 1257.8h0M246.1 1148h0M247.8 1161.8h0M277.6 1208.1h0M259.3 1215.6h0M260.9 1220.9h0M267.8 1221.7h0M268.6 1224.5h0M267.8 1307.5h0M292.6 1311.6h0M294.8 1316.5h0M302.1 1314h0M303.7 1318.1h0M305.4 1314h0"/>
<path id="d5" d="M184.2 1397.1h0M191.6 1378h0M181.4 1388h0M181.9 1399.3h0M174 1371.7h0M140.4 1361.5h0M149.1 1373.3h0M160.9 1365.9h0M153.5 1391.4h0M161.8 1391.9h0M174.9 1367.1h0M188.8 1410.4h0M201.1 1406h0M144.6 1383.4h0M174.8 1405.5h0M143.3 1376.7h0M153.7 1381.8h0M204.1 1397h0M166.3 1380.3h0M165 1410.2h0M170.7 1377.3h0M182.2 1362.8h0M169.4 1396.9h0M193.7 1390h0M164.8 1417.9h0M163.7 1435.4h0M155.2 1417.4h0M193.5 1382.8h0M159.7 1432.7h0M159.6 1414.6h0M166.2 1361.2h0M147.8 1404.5h0M170.9 1437.7h0M137.9 1400.7h0M192.1 1405.8h0M179.9 1383.7h0M189.6 1386.4h0M149.1 1367.8h0M134.9 1370.1h0M165.2 1390.8h0M175.7 1426.2h0M161.6 1428h0M155.9 1366.8h0M151.2 1379.3h0M195.6 1409h0M150.1 1400.5h0M169.8 1422.3h0M173.9 1387.5h0M146.7 1362.2h0M180.7 1370.2h0M158.2 1358h0M181.6 1379.4h0M176.4 1379.4h0M169 1444.2h0M182.5 1404.6h0M140 1384.6h0M144.2 1403.8h0M191.6 1370.2h0M198.2 1391.3h0M171.6 1396.4h0M132.4 1376.5h0M176.5 1392.5h0M164 1402.2h0M184 1394.5h0M145.8 1398.1h0M141 1371.1h0M157.9 1369.5h0M148.3 1365.4h0M163.5 1445.9h0M186 1371h0M140.2 1406.5h0M195.2 1395.7h0M157.4 1388.4h0M149.4 1360.3h0M155.6 1400.9h0M162.9 1372.7h0M181.3 1375.9h0M170 1427.8h0M159.8 1405.8h0M165.7 1447.3h0M154.1 1403.7h0M142.3 1374h0M169.5 1390.3h0M163.4 1439.8h0M160.1 1395.6h0M170.5 1207.7h0M178.1 1207.7h0M169.7 1211.9h0M189 1227h0M237.7 1217.8h0M225.1 1242.1h0M159.6 1243.8h0M134.4 1271.5h0M139.4 1276.6h0M131 1275.7h0M128.5 1291.7h0M136.9 1298.4h0M128.5 1312.7h0M154.6 1317.7h0M161.3 1318.6h0M166.3 1318.6h0M141.1 1330.8h0M179.8 1342.1h0M181.5 1337.1h0M116.8 1351.3h0M82.3 1322.8h0M70.6 1377.4h0M275.1 1327.9h0"/>
<g id="dall"><use href="#d1"/><use href="#d2"/><use href="#d3"/><use href="#d4"/><use href="#d5"/></g>
</defs>
<g fill="none" stroke-width="5.6" stroke-linecap="round">
<use href="#d1" stroke="#1f77b4"/>
<use href="#d2" stroke="#ff7f0e"/>
<use href="#d3" stroke="#2ca02c"/>
<use href="#d4" stroke="#d62728"/>
<use href="#d5" stroke="#9467bd"/>
</g>
<text x="204.6" y="1184.3" font-size="66" text-anchor="middle">3</text>
<text x="91.3" y="1285" font-size="66" text-anchor="middle">1</text>
<text x="199.9" y="1292.9" font-size="66" text-anchor="middle">4</text>
<text x="406.1" y="1315.9" font-size="66" text-anchor="middle">2</text>
<text x="173.1" y="1407.8" font-size="66" text-anchor="middle">5</text>
<g fill="none" stroke="#c9c9c9" stroke-width="5.9" stroke-linecap="round" transform="translate(522.5 184.1) scale(0.854 0.85)"><use href="#dall"/></g>
<circle cx="905.2" cy="1289.9" r="2.4" fill="#fb6a4a"/>
<circle cx="847.5" cy="1282.3" r="2.4" fill="#a50f15"/>
<circle cx="934.9" cy="1267.4" r="2.4" fill="#e32f27"/>
<circle cx="862.1" cy="1299.6" r="2.4" fill="#cb181d"/>
<circle cx="937.7" cy="1270.3" r="2.4" fill="#67000d"/>
<circle cx="850.6" cy="1286.9" r="2.4" fill="#cb181d"/>
<circle cx="932.7" cy="1262.1" r="2.4" fill="#e32f27"/>
<circle cx="934.9" cy="1267.4" r="2.4" fill="#a50f15"/>
<circle cx="832.2" cy="1281.8" r="2.4" fill="#a50f15"/>
<circle cx="886.2" cy="1295.8" r="2.4" fill="#cb181d"/>
<circle cx="860.7" cy="1290.5" r="2.4" fill="#67000d"/>
<circle cx="932.7" cy="1262.1" r="2.4" fill="#cb181d"/>
<circle cx="811.9" cy="1292" r="2.4" fill="#cb181d"/>
<circle cx="934.3" cy="1260.4" r="2.4" fill="#f8694c"/>
<circle cx="809.8" cy="1282.7" r="2.4" fill="#ef3b2c"/>
<circle cx="832.2" cy="1281.8" r="2.4" fill="#ef3b2c"/>
<circle cx="798.4" cy="1291.8" r="2.4" fill="#67000d"/>
<circle cx="920.1" cy="1262.8" r="2.4" fill="#ef3b2c"/>
<circle cx="857.4" cy="1303.3" r="2.4" fill="#fb6a4a"/>
<circle cx="796.9" cy="1301.2" r="2.4" fill="#fb6a4a"/>
<circle cx="914.5" cy="1283.7" r="2.4" fill="#cb181d"/>
<circle cx="837.1" cy="1283.5" r="2.4" fill="#67000d"/>
<circle cx="898.1" cy="1260" r="2.4" fill="#cb181d"/>
<circle cx="809.8" cy="1282.7" r="2.4" fill="#cb181d"/>
<circle cx="852.2" cy="1276.4" r="2.4" fill="#f8694c"/>
<circle cx="863.7" cy="1291.8" r="2.4" fill="#cb181d"/>
<circle cx="880.1" cy="1283.7" r="2.4" fill="#e32f27"/>
<circle cx="814.5" cy="1287.9" r="2.4" fill="#fb6a4a"/>
<circle cx="809.8" cy="1282.7" r="2.4" fill="#cb181d"/>
<circle cx="793.3" cy="1298.3" r="2.4" fill="#a50f15"/>
<circle cx="861.2" cy="1297.6" r="2.4" fill="#e32f27"/>
<circle cx="825.2" cy="1283.8" r="2.4" fill="#e32f27"/>
<circle cx="857.6" cy="1298.6" r="2.4" fill="#fb6a4a"/>
<circle cx="831.6" cy="1293.4" r="2.4" fill="#a50f15"/>
<circle cx="871.3" cy="1291.5" r="2.4" fill="#67000d"/>
<circle cx="898.1" cy="1260" r="2.4" fill="#cb181d"/>
<circle cx="934.1" cy="1258.6" r="2.4" fill="#67000d"/>
<circle cx="820.9" cy="1289.7" r="2.4" fill="#fb6a4a"/>
<circle cx="857.4" cy="1303.3" r="2.4" fill="#cb181d"/>
<circle cx="929.5" cy="1269.7" r="2.4" fill="#f8694c"/>
<circle cx="936.4" cy="1271.6" r="2.4" fill="#e32f27"/>
<circle cx="795.8" cy="1287.5" r="2.4" fill="#67000d"/>
<circle cx="797.4" cy="1295.6" r="2.4" fill="#ef3b2c"/>
<circle cx="794.5" cy="1277.7" r="2.4" fill="#f8694c"/>
<circle cx="794.5" cy="1277.7" r="2.4" fill="#e32f27"/>
<circle cx="811.7" cy="1284.5" r="2.4" fill="#cb181d"/>
<circle cx="792.3" cy="1286.1" r="2.4" fill="#e32f27"/>
<circle cx="879.5" cy="1292.7" r="2.4" fill="#ef3b2c"/>
<circle cx="866.8" cy="1291.5" r="2.4" fill="#f8694c"/>
<circle cx="903.2" cy="1258.1" r="2.4" fill="#67000d"/>
<circle cx="840.9" cy="1308.1" r="2.4" fill="#e32f27"/>
<circle cx="799.4" cy="1284.2" r="2.4" fill="#67000d"/>
<circle cx="934.3" cy="1260.4" r="2.4" fill="#fb6a4a"/>
<circle cx="825.2" cy="1283.8" r="2.4" fill="#a50f15"/>
<circle cx="816.8" cy="1290.7" r="2.4" fill="#ef3b2c"/>
<circle cx="903.2" cy="1258.1" r="2.4" fill="#a50f15"/>
<circle cx="816.8" cy="1290.7" r="2.4" fill="#67000d"/>
<circle cx="893.1" cy="1279.9" r="2.4" fill="#f8694c"/>
<circle cx="796.9" cy="1278.5" r="2.4" fill="#a50f15"/>
<circle cx="909.3" cy="1281.4" r="2.4" fill="#f8694c"/>
<circle cx="781.9" cy="1304.5" r="2.4" fill="#e32f27"/>
<circle cx="579.9" cy="1325" r="2.4" fill="#cb181d"/>
<circle cx="569" cy="1334.1" r="2.4" fill="#ef3b2c"/>
<text x="541" y="1116" font-size="29.5">Venus</text>
<g fill="none" stroke="#c9c9c9" stroke-width="5.9" stroke-linecap="round" transform="translate(957 184.1) scale(0.854 0.85)"><use href="#dall"/></g>
<circle cx="1272.4" cy="1301.8" r="2.4" fill="#e32f27"/>
<circle cx="1248.5" cy="1256.6" r="2.4" fill="#cb181d"/>
<circle cx="1271.3" cy="1310.9" r="2.4" fill="#a50f15"/>
<circle cx="1270.8" cy="1285.7" r="2.4" fill="#67000d"/>
<circle cx="1368.8" cy="1260.4" r="2.4" fill="#f8694c"/>
<circle cx="1298.9" cy="1300.8" r="2.4" fill="#e32f27"/>
<circle cx="1301.9" cy="1287.8" r="2.4" fill="#cb181d"/>
<circle cx="1273.9" cy="1295.9" r="2.4" fill="#a50f15"/>
<circle cx="1363.2" cy="1271.7" r="2.4" fill="#e32f27"/>
<circle cx="1363.1" cy="1261.2" r="2.4" fill="#ef3b2c"/>
<circle cx="1370.9" cy="1271.6" r="2.4" fill="#f8694c"/>
<circle cx="1284.3" cy="1297.3" r="2.4" fill="#a50f15"/>
<circle cx="1332.6" cy="1258.2" r="2.4" fill="#ef3b2c"/>
<circle cx="1269.7" cy="1278.4" r="2.4" fill="#e32f27"/>
<circle cx="1346.3" cy="1292" r="2.4" fill="#e32f27"/>
<circle cx="1253.7" cy="1303.3" r="2.4" fill="#fb6a4a"/>
<circle cx="1235.6" cy="1311.5" r="2.4" fill="#fb6a4a"/>
<circle cx="1233.9" cy="1284.2" r="2.4" fill="#cb181d"/>
<circle cx="1326.8" cy="1290.2" r="2.4" fill="#e32f27"/>
<circle cx="1222.6" cy="1289.2" r="2.4" fill="#cb181d"/>
<circle cx="1256.2" cy="1305.8" r="2.4" fill="#cb181d"/>
<circle cx="1321.8" cy="1292.4" r="2.4" fill="#e32f27"/>
<circle cx="1228.9" cy="1292.7" r="2.4" fill="#e32f27"/>
<circle cx="1326.8" cy="1290.2" r="2.4" fill="#a50f15"/>
<circle cx="1308.1" cy="1283" r="2.4" fill="#67000d"/>
<circle cx="1240.4" cy="1294.4" r="2.4" fill="#e32f27"/>
<circle cx="1298.2" cy="1291.8" r="2.4" fill="#f8694c"/>
<circle cx="1235.6" cy="1311.5" r="2.4" fill="#ef3b2c"/>
<circle cx="1357.7" cy="1282.7" r="2.4" fill="#a50f15"/>
<circle cx="1254.2" cy="1285.1" r="2.4" fill="#fb6a4a"/>
<circle cx="1309.7" cy="1287.4" r="2.4" fill="#e32f27"/>
<circle cx="1292.1" cy="1285.8" r="2.4" fill="#f8694c"/>
<circle cx="1277.9" cy="1274.2" r="2.4" fill="#cb181d"/>
<circle cx="1370.9" cy="1271.6" r="2.4" fill="#a50f15"/>
<circle cx="1232.9" cy="1274.7" r="2.4" fill="#67000d"/>
<circle cx="1226.7" cy="1291.8" r="2.4" fill="#e32f27"/>
<circle cx="1335.3" cy="1284.9" r="2.4" fill="#cb181d"/>
<circle cx="1309" cy="1301.9" r="2.4" fill="#ef3b2c"/>
<circle cx="1285.1" cy="1286.9" r="2.4" fill="#f8694c"/>
<circle cx="1357.7" cy="1282.7" r="2.4" fill="#ef3b2c"/>
<circle cx="1229.4" cy="1285.8" r="2.4" fill="#f8694c"/>
<circle cx="1289.4" cy="1299.9" r="2.4" fill="#ef3b2c"/>
<circle cx="1309" cy="1301.9" r="2.4" fill="#cb181d"/>
<circle cx="1274.8" cy="1289.8" r="2.4" fill="#67000d"/>
<circle cx="1232.9" cy="1274.7" r="2.4" fill="#f8694c"/>
<circle cx="1229.8" cy="1309.9" r="2.4" fill="#f8694c"/>
<circle cx="1242.5" cy="1300.7" r="2.4" fill="#f8694c"/>
<circle cx="1258.9" cy="1296.8" r="2.4" fill="#cb181d"/>
<circle cx="1252.3" cy="1307.8" r="2.4" fill="#fb6a4a"/>
<circle cx="1237.1" cy="1283.5" r="2.4" fill="#ef3b2c"/>
<circle cx="1369.4" cy="1267.4" r="2.4" fill="#fb6a4a"/>
<circle cx="1333.2" cy="1281.4" r="2.4" fill="#67000d"/>
<circle cx="1285.1" cy="1301.7" r="2.4" fill="#f8694c"/>
<circle cx="1364.2" cy="1263.6" r="2.4" fill="#cb181d"/>
<circle cx="1270.8" cy="1285.7" r="2.4" fill="#cb181d"/>
<circle cx="1337" cy="1282.8" r="2.4" fill="#ef3b2c"/>
<circle cx="1266.7" cy="1281.8" r="2.4" fill="#fb6a4a"/>
<circle cx="1279.7" cy="1300.5" r="2.4" fill="#fb6a4a"/>
<circle cx="1228.9" cy="1292.7" r="2.4" fill="#cb181d"/>
<circle cx="1261.8" cy="1284.2" r="2.4" fill="#f8694c"/>
<circle cx="1246" cy="1289.6" r="2.4" fill="#e32f27"/>
<circle cx="1252.3" cy="1307.8" r="2.4" fill="#cb181d"/>
<circle cx="1365.5" cy="1260.8" r="2.4" fill="#f8694c"/>
<circle cx="1247.7" cy="1278.1" r="2.4" fill="#fb6a4a"/>
<circle cx="1256.5" cy="1309.3" r="2.4" fill="#fb6a4a"/>
<circle cx="1360.9" cy="1268.7" r="2.4" fill="#cb181d"/>
<circle cx="1233.9" cy="1284.2" r="2.4" fill="#cb181d"/>
<circle cx="1314" cy="1292.7" r="2.4" fill="#fb6a4a"/>
<circle cx="1295.7" cy="1297.6" r="2.4" fill="#a50f15"/>
<circle cx="1325" cy="1275.8" r="2.4" fill="#ef3b2c"/>
<circle cx="1041.9" cy="1268.2" r="2.4" fill="#f8694c"/>
<circle cx="1145.7" cy="1273.9" r="2.4" fill="#67000d"/>
<circle cx="1043.2" cy="1275.2" r="2.4" fill="#e32f27"/>
<circle cx="1020.1" cy="1296.6" r="2.4" fill="#ef3b2c"/>
<text x="969" y="1119" font-size="29.5" font-style="italic">KNU</text>
<g fill="none" stroke="#c9c9c9" stroke-width="5.9" stroke-linecap="round" transform="translate(1384 184.1) scale(0.854 0.85)"><use href="#dall"/></g>
<circle cx="1763.5" cy="1274" r="2.4" fill="#fc9272"/>
<circle cx="1712.1" cy="1294.2" r="2.4" fill="#cb181d"/>
<circle cx="1700.9" cy="1295.9" r="2.4" fill="#cb181d"/>
<circle cx="1747.3" cy="1288.4" r="2.4" fill="#fdae8a"/>
<circle cx="1772.3" cy="1286.3" r="2.4" fill="#fc9272"/>
<circle cx="1795.8" cy="1260.4" r="2.4" fill="#e32f27"/>
<circle cx="1698.3" cy="1310.9" r="2.4" fill="#cb181d"/>
<circle cx="1795.6" cy="1258.6" r="2.4" fill="#a50f15"/>
<circle cx="1794.6" cy="1273.9" r="2.4" fill="#fc9272"/>
<circle cx="1780.7" cy="1279.5" r="2.4" fill="#67000d"/>
<circle cx="1784.7" cy="1282.7" r="2.4" fill="#fdae8a"/>
<circle cx="1790.2" cy="1271.7" r="2.4" fill="#a50f15"/>
<circle cx="1762.7" cy="1291.2" r="2.4" fill="#fc9272"/>
<circle cx="1717.7" cy="1295.1" r="2.4" fill="#cb181d"/>
<circle cx="1772.3" cy="1286.3" r="2.4" fill="#fc9272"/>
<circle cx="1770.8" cy="1281.4" r="2.4" fill="#fdae8a"/>
<circle cx="1766.7" cy="1289.9" r="2.4" fill="#fdae8a"/>
<circle cx="1752" cy="1292.1" r="2.4" fill="#fdae8a"/>
<circle cx="1756.5" cy="1253.5" r="2.4" fill="#e32f27"/>
<circle cx="1790.1" cy="1261.2" r="2.4" fill="#fc9272"/>
<circle cx="1714.8" cy="1280.3" r="2.4" fill="#ef3b2c"/>
<circle cx="1717.7" cy="1295.1" r="2.4" fill="#fc9272"/>
<circle cx="1759.6" cy="1258.2" r="2.4" fill="#fdae8a"/>
<circle cx="1796.1" cy="1263.7" r="2.4" fill="#fdae8a"/>
<circle cx="1741" cy="1298.2" r="2.4" fill="#cb181d"/>
<circle cx="1785.7" cy="1262.3" r="2.4" fill="#ef3b2c"/>
<circle cx="1794.6" cy="1273.9" r="2.4" fill="#ef3b2c"/>
<circle cx="1753.8" cy="1290.2" r="2.4" fill="#fc9272"/>
<circle cx="1791" cy="1269.7" r="2.4" fill="#ef3b2c"/>
<circle cx="1716.1" cy="1278.8" r="2.4" fill="#fdae8a"/>
<circle cx="1769" cy="1255.1" r="2.4" fill="#67000d"/>
<circle cx="1760.2" cy="1281.4" r="2.4" fill="#fc9272"/>
<circle cx="1796.5" cy="1256.4" r="2.4" fill="#ef3b2c"/>
<circle cx="1707.1" cy="1296.4" r="2.4" fill="#fc9272"/>
<circle cx="1794.2" cy="1262.1" r="2.4" fill="#ef3b2c"/>
<circle cx="1784.7" cy="1282.7" r="2.4" fill="#cb181d"/>
<circle cx="1723.6" cy="1299.6" r="2.4" fill="#fc9272"/>
<circle cx="1788.4" cy="1266.1" r="2.4" fill="#67000d"/>
<circle cx="1693.7" cy="1281.8" r="2.4" fill="#a50f15"/>
<circle cx="1764.7" cy="1258.1" r="2.4" fill="#fc9272"/>
<circle cx="1792.5" cy="1260.8" r="2.4" fill="#e32f27"/>
<circle cx="1796.1" cy="1263.7" r="2.4" fill="#ef3b2c"/>
<circle cx="1738.8" cy="1280.7" r="2.4" fill="#67000d"/>
<circle cx="1781.1" cy="1288.4" r="2.4" fill="#cb181d"/>
<circle cx="1716.4" cy="1299.9" r="2.4" fill="#fdae8a"/>
<circle cx="1746.4" cy="1281.1" r="2.4" fill="#67000d"/>
<circle cx="1747.3" cy="1288.4" r="2.4" fill="#fc9272"/>
<circle cx="1738.8" cy="1280.7" r="2.4" fill="#ef3b2c"/>
<circle cx="1701.3" cy="1272.4" r="2.4" fill="#e32f27"/>
<circle cx="1736.7" cy="1287.4" r="2.4" fill="#fc9272"/>
<circle cx="1768.9" cy="1284.9" r="2.4" fill="#67000d"/>
<circle cx="1755.5" cy="1286.8" r="2.4" fill="#e32f27"/>
<circle cx="1764.7" cy="1258.1" r="2.4" fill="#fc9272"/>
<circle cx="1756.9" cy="1249.2" r="2.4" fill="#ef3b2c"/>
<circle cx="1796.5" cy="1256.4" r="2.4" fill="#cb181d"/>
<circle cx="1775.5" cy="1287.8" r="2.4" fill="#ef3b2c"/>
<circle cx="1764.7" cy="1258.1" r="2.4" fill="#ef3b2c"/>
<circle cx="1722.7" cy="1297.6" r="2.4" fill="#fc9272"/>
<circle cx="1695.1" cy="1288.9" r="2.4" fill="#fc9272"/>
<circle cx="1741.6" cy="1283.7" r="2.4" fill="#a50f15"/>
<circle cx="1765.9" cy="1253.7" r="2.4" fill="#67000d"/>
<circle cx="1763.5" cy="1274" r="2.4" fill="#cb181d"/>
<circle cx="1794.6" cy="1273.9" r="2.4" fill="#ef3b2c"/>
<circle cx="1768.7" cy="1292.3" r="2.4" fill="#ef3b2c"/>
<circle cx="1746.4" cy="1281.1" r="2.4" fill="#fc9272"/>
<circle cx="1746.4" cy="1281.1" r="2.4" fill="#ef3b2c"/>
<circle cx="1701.8" cy="1289.8" r="2.4" fill="#67000d"/>
<circle cx="1723.6" cy="1299.6" r="2.4" fill="#fc9272"/>
<circle cx="1747.3" cy="1288.4" r="2.4" fill="#fc9272"/>
<circle cx="1758.6" cy="1256.4" r="2.4" fill="#fc9272"/>
<circle cx="1797.6" cy="1257.9" r="2.4" fill="#cb181d"/>
<circle cx="1741.6" cy="1283.7" r="2.4" fill="#67000d"/>
<circle cx="1747.2" cy="1277.9" r="2.4" fill="#67000d"/>
<circle cx="1753.8" cy="1290.2" r="2.4" fill="#ef3b2c"/>
<circle cx="1713.7" cy="1276.4" r="2.4" fill="#fc9272"/>
<circle cx="1762.7" cy="1291.2" r="2.4" fill="#a50f15"/>
<circle cx="1741.8" cy="1289.6" r="2.4" fill="#e32f27"/>
<circle cx="1753.8" cy="1290.2" r="2.4" fill="#67000d"/>
<circle cx="1762.3" cy="1284.9" r="2.4" fill="#fdae8a"/>
<circle cx="1764" cy="1282.8" r="2.4" fill="#fdae8a"/>
<circle cx="1710.6" cy="1281.1" r="2.4" fill="#fc9272"/>
<circle cx="1790" cy="1257.9" r="2.4" fill="#fdae8a"/>
<circle cx="1703.7" cy="1286.3" r="2.4" fill="#fc9272"/>
<circle cx="1784.7" cy="1282.7" r="2.4" fill="#fdae8a"/>
<circle cx="1741.6" cy="1283.7" r="2.4" fill="#e32f27"/>
<circle cx="1794.2" cy="1262.1" r="2.4" fill="#ef3b2c"/>
<circle cx="1770.8" cy="1289.9" r="2.4" fill="#fc9272"/>
<circle cx="1693.8" cy="1274.1" r="2.4" fill="#a50f15"/>
<circle cx="1716.4" cy="1282.1" r="2.4" fill="#ef3b2c"/>
<circle cx="1783" cy="1270.5" r="2.4" fill="#67000d"/>
<circle cx="1753.8" cy="1290.2" r="2.4" fill="#fdae8a"/>
<circle cx="1799.2" cy="1270.3" r="2.4" fill="#ef3b2c"/>
<circle cx="1699.4" cy="1301.8" r="2.4" fill="#fc9272"/>
<circle cx="1768.9" cy="1258" r="2.4" fill="#ef3b2c"/>
<circle cx="1710.7" cy="1285.3" r="2.4" fill="#cb181d"/>
<circle cx="1701.3" cy="1272.4" r="2.4" fill="#cb181d"/>
<circle cx="1790.1" cy="1261.2" r="2.4" fill="#fc9272"/>
<circle cx="1717.7" cy="1295.1" r="2.4" fill="#fc9272"/>
<circle cx="1773.3" cy="1281.1" r="2.4" fill="#fc9272"/>
<circle cx="1754.6" cy="1279.9" r="2.4" fill="#cb181d"/>
<circle cx="1773.3" cy="1292" r="2.4" fill="#fdae8a"/>
<circle cx="1762.3" cy="1284.9" r="2.4" fill="#67000d"/>
<circle cx="1769" cy="1255.1" r="2.4" fill="#a50f15"/>
<circle cx="1754.1" cy="1295.5" r="2.4" fill="#e32f27"/>
<circle cx="1758.5" cy="1268.3" r="2.4" fill="#ef3b2c"/>
<circle cx="1764" cy="1282.8" r="2.4" fill="#a50f15"/>
<circle cx="1754.8" cy="1260.1" r="2.4" fill="#a50f15"/>
<circle cx="1698.9" cy="1272.2" r="2.4" fill="#67000d"/>
<circle cx="1728.3" cy="1291.5" r="2.4" fill="#fc9272"/>
<circle cx="1717.7" cy="1295.1" r="2.4" fill="#fdae8a"/>
<circle cx="1717" cy="1285.3" r="2.4" fill="#a50f15"/>
<circle cx="1758.6" cy="1256.4" r="2.4" fill="#fdae8a"/>
<circle cx="1713.8" cy="1292.6" r="2.4" fill="#fc9272"/>
<circle cx="1793.4" cy="1268.2" r="2.4" fill="#67000d"/>
<circle cx="1714.8" cy="1280.3" r="2.4" fill="#a50f15"/>
<circle cx="1794.6" cy="1273.9" r="2.4" fill="#a50f15"/>
<circle cx="1697.3" cy="1298.1" r="2.4" fill="#e32f27"/>
<circle cx="1753.8" cy="1290.2" r="2.4" fill="#a50f15"/>
<circle cx="1790.1" cy="1261.2" r="2.4" fill="#cb181d"/>
<circle cx="1768.9" cy="1258" r="2.4" fill="#ef3b2c"/>
<circle cx="1698.9" cy="1272.2" r="2.4" fill="#fc9272"/>
<circle cx="1781.6" cy="1262.8" r="2.4" fill="#cb181d"/>
<circle cx="1710.7" cy="1285.3" r="2.4" fill="#cb181d"/>
<circle cx="1768.9" cy="1258" r="2.4" fill="#cb181d"/>
<circle cx="1768.9" cy="1284.9" r="2.4" fill="#fdae8a"/>
<circle cx="1695.1" cy="1288.9" r="2.4" fill="#cb181d"/>
<circle cx="1768.7" cy="1292.3" r="2.4" fill="#a50f15"/>
<circle cx="1715.9" cy="1288.1" r="2.4" fill="#e32f27"/>
<circle cx="1761" cy="1253.8" r="2.4" fill="#67000d"/>
<circle cx="1791.2" cy="1263.6" r="2.4" fill="#a50f15"/>
<circle cx="1556.7" cy="1213.8" r="2.4" fill="#fdae8a"/>
<circle cx="1537.5" cy="1170.3" r="2.4" fill="#a50f15"/>
<circle cx="1507.9" cy="1239.6" r="2.4" fill="#ef3b2c"/>
<circle cx="1462.5" cy="1183.6" r="2.4" fill="#67000d"/>
<circle cx="1558.1" cy="1259.4" r="2.4" fill="#a50f15"/>
<circle cx="1573.2" cy="1254.7" r="2.4" fill="#fdae8a"/>
<circle cx="1642" cy="1301" r="2.4" fill="#cb181d"/>
<circle cx="1520.8" cy="1184.9" r="2.4" fill="#67000d"/>
<text x="1403" y="1118.5" font-size="29.5" font-style="italic">ASY1</text>
<g fill="none" stroke="#c9c9c9" stroke-width="5.7" stroke-linecap="round" transform="translate(511 530.5) scale(0.88 0.87)"><use href="#dall"/></g>
<circle cx="661.5" cy="1495.7" r="2.4" fill="#fb6a4a"/>
<circle cx="671" cy="1500.1" r="2.4" fill="#8c0a12"/>
<circle cx="669.3" cy="1522.4" r="2.4" fill="#8c0a12"/>
<circle cx="669.9" cy="1531.9" r="2.4" fill="#d7301f"/>
<circle cx="663.2" cy="1540.2" r="2.4" fill="#fb6a4a"/>
<circle cx="669.9" cy="1543" r="2.4" fill="#8c0a12"/>
<circle cx="661.5" cy="1551.4" r="2.4" fill="#8c0a12"/>
<circle cx="700.5" cy="1485.7" r="2.4" fill="#fb6a4a"/>
<circle cx="717.2" cy="1511.3" r="2.4" fill="#fb6a4a"/>
<circle cx="706" cy="1521.9" r="2.4" fill="#fc8d6a"/>
<circle cx="698.8" cy="1530.2" r="2.4" fill="#fb6a4a"/>
<circle cx="652" cy="1603.7" r="2.4" fill="#8c0a12"/>
<circle cx="677.1" cy="1647.7" r="2.4" fill="#fb6a4a"/>
<circle cx="657" cy="1657.2" r="2.4" fill="#d7301f"/>
<circle cx="692.1" cy="1668.3" r="2.4" fill="#fb6a4a"/>
<circle cx="693.8" cy="1673.9" r="2.4" fill="#fb6a4a"/>
<circle cx="722.8" cy="1688.9" r="2.4" fill="#fb6a4a"/>
<circle cx="833" cy="1679.5" r="2.4" fill="#fb6a4a"/>
<circle cx="675.4" cy="1750.7" r="2.4" fill="#fb6a4a"/>
<text x="532" y="1480" font-size="29.5" font-style="italic">SPL</text>
<g fill="none" stroke="#c9c9c9" stroke-width="5.7" stroke-linecap="round" transform="translate(961 526.5) scale(0.871 0.865)"><use href="#dall"/></g>
<circle cx="1150.4" cy="1474.5" r="2.4" fill="#fc8d6a"/>
<circle cx="1129.3" cy="1491.2" r="2.4" fill="#fb6a4a"/>
<circle cx="1162.7" cy="1492.9" r="2.4" fill="#d7301f"/>
<circle cx="1168.3" cy="1498.5" r="2.4" fill="#fc8d6a"/>
<circle cx="1126.5" cy="1504" r="2.4" fill="#8c0a12"/>
<circle cx="1136.5" cy="1502.4" r="2.4" fill="#fb6a4a"/>
<circle cx="1140.4" cy="1507.9" r="2.4" fill="#fb6a4a"/>
<circle cx="1148.8" cy="1509.6" r="2.4" fill="#d7301f"/>
<circle cx="1154.3" cy="1506.8" r="2.4" fill="#fb6a4a"/>
<circle cx="1136.5" cy="1511.3" r="2.4" fill="#fb6a4a"/>
<circle cx="1147.1" cy="1523.5" r="2.4" fill="#fc8d6a"/>
<circle cx="1176.6" cy="1529.1" r="2.4" fill="#fc8d6a"/>
<circle cx="1177.7" cy="1531.9" r="2.4" fill="#d7301f"/>
<circle cx="1112.6" cy="1530.2" r="2.4" fill="#d7301f"/>
<circle cx="1118.1" cy="1528" r="2.4" fill="#fb6a4a"/>
<circle cx="1120.9" cy="1534.7" r="2.4" fill="#8c0a12"/>
<circle cx="1108.1" cy="1540.2" r="2.4" fill="#fb6a4a"/>
<circle cx="1109.8" cy="1541.4" r="2.4" fill="#fc8d6a"/>
<circle cx="1101.4" cy="1594.3" r="2.4" fill="#8c0a12"/>
<circle cx="1092" cy="1597.6" r="2.4" fill="#fb6a4a"/>
<circle cx="1103.1" cy="1647.2" r="2.4" fill="#fb6a4a"/>
<circle cx="1105.9" cy="1647.2" r="2.4" fill="#fc8d6a"/>
<circle cx="1116.5" cy="1661.6" r="2.4" fill="#d7301f"/>
<circle cx="1127.6" cy="1661.6" r="2.4" fill="#fc8d6a"/>
<circle cx="1140.4" cy="1658.9" r="2.4" fill="#d7301f"/>
<circle cx="1017.9" cy="1666.7" r="2.4" fill="#fc8d6a"/>
<circle cx="1201.7" cy="1572.5" r="2.4" fill="#fc8d6a"/>
<circle cx="1210" cy="1589.2" r="2.4" fill="#fb6a4a"/>
<circle cx="1357.6" cy="1623.8" r="2.4" fill="#fc8d6a"/>
<circle cx="1375.4" cy="1609.9" r="2.4" fill="#fb6a4a"/>
<text x="979" y="1473.5" font-size="29.5" font-style="italic">WUS</text>
<g shape-rendering="crispEdges">
<rect x="170" y="553" width="24.7" height="24.7" fill="#ff9500"/>
<rect x="194.3" y="553" width="24.7" height="24.7" fill="#ffaf00"/>
<rect x="218.7" y="553" width="24.7" height="24.7" fill="#ffaf00"/>
<rect x="243" y="553" width="24.7" height="24.7" fill="#ff4500"/>
<rect x="267.3" y="553" width="24.7" height="24.7" fill="#ff4500"/>
<rect x="291.6" y="553" width="24.7" height="24.7" fill="#ff4500"/>
<rect x="316" y="553" width="24.7" height="24.7" fill="#ff3500"/>
<rect x="340.3" y="553" width="24.7" height="24.7" fill="#ff4500"/>
<rect x="364.6" y="553" width="24.7" height="24.7" fill="#ff7a00"/>
<rect x="389" y="553" width="24.7" height="24.7" fill="#ff3a00"/>
<rect x="413.3" y="553" width="24.7" height="24.7" fill="#ff3a00"/>
<rect x="437.6" y="553" width="24.7" height="24.7" fill="#ff2a00"/>
<rect x="462" y="553" width="24.7" height="24.7" fill="#ff2a00"/>
<rect x="486.3" y="553" width="24.7" height="24.7" fill="#ff1000"/>
<rect x="170" y="577.3" width="24.7" height="24.7" fill="#ff8a00"/>
<rect x="194.3" y="577.3" width="24.7" height="24.7" fill="#ffaf00"/>
<rect x="218.7" y="577.3" width="24.7" height="24.7" fill="#ff8a00"/>
<rect x="243" y="577.3" width="24.7" height="24.7" fill="#ff4500"/>
<rect x="267.3" y="577.3" width="24.7" height="24.7" fill="#ff3800"/>
<rect x="291.6" y="577.3" width="24.7" height="24.7" fill="#ff3800"/>
<rect x="316" y="577.3" width="24.7" height="24.7" fill="#ff3800"/>
<rect x="340.3" y="577.3" width="24.7" height="24.7" fill="#ff5500"/>
<rect x="364.6" y="577.3" width="24.7" height="24.7" fill="#ff7a00"/>
<rect x="389" y="577.3" width="24.7" height="24.7" fill="#ff3800"/>
<rect x="413.3" y="577.3" width="24.7" height="24.7" fill="#ff3800"/>
<rect x="437.6" y="577.3" width="24.7" height="24.7" fill="#ff2000"/>
<rect x="462" y="577.3" width="24.7" height="24.7" fill="#ff1000"/>
<rect x="486.3" y="577.3" width="24.7" height="24.7" fill="#ff2a00"/>
<rect x="170" y="601.7" width="24.7" height="24.7" fill="#ff6000"/>
<rect x="194.3" y="601.7" width="24.7" height="24.7" fill="#ff7a00"/>
<rect x="218.7" y="601.7" width="24.7" height="24.7" fill="#ffaf00"/>
<rect x="243" y="601.7" width="24.7" height="24.7" fill="#ff4500"/>
<rect x="267.3" y="601.7" width="24.7" height="24.7" fill="#ff6000"/>
<rect x="291.6" y="601.7" width="24.7" height="24.7" fill="#ff2a00"/>
<rect x="316" y="601.7" width="24.7" height="24.7" fill="#ff4500"/>
<rect x="340.3" y="601.7" width="24.7" height="24.7" fill="#ff3800"/>
<rect x="364.6" y="601.7" width="24.7" height="24.7" fill="#ff6000"/>
<rect x="389" y="601.7" width="24.7" height="24.7" fill="#ff2a00"/>
<rect x="413.3" y="601.7" width="24.7" height="24.7" fill="#ff1d00"/>
<rect x="437.6" y="601.7" width="24.7" height="24.7" fill="#ff1000"/>
<rect x="462" y="601.7" width="24.7" height="24.7" fill="#ff2000"/>
<rect x="486.3" y="601.7" width="24.7" height="24.7" fill="#ff2a00"/>
<rect x="170" y="626" width="24.7" height="24.7" fill="#ff3800"/>
<rect x="194.3" y="626" width="24.7" height="24.7" fill="#ff3800"/>
<rect x="218.7" y="626" width="24.7" height="24.7" fill="#ffaf00"/>
<rect x="243" y="626" width="24.7" height="24.7" fill="#ff6000"/>
<rect x="267.3" y="626" width="24.7" height="24.7" fill="#ff7000"/>
<rect x="291.6" y="626" width="24.7" height="24.7" fill="#ff4500"/>
<rect x="316" y="626" width="24.7" height="24.7" fill="#ff6000"/>
<rect x="340.3" y="626" width="24.7" height="24.7" fill="#ff3800"/>
<rect x="364.6" y="626" width="24.7" height="24.7" fill="#ff3800"/>
<rect x="389" y="626" width="24.7" height="24.7" fill="#ff2a00"/>
<rect x="413.3" y="626" width="24.7" height="24.7" fill="#ff1000"/>
<rect x="437.6" y="626" width="24.7" height="24.7" fill="#ff1d00"/>
<rect x="462" y="626" width="24.7" height="24.7" fill="#ff3800"/>
<rect x="486.3" y="626" width="24.7" height="24.7" fill="#ff3a00"/>
<rect x="170" y="650.3" width="24.7" height="24.7" fill="#ff4500"/>
<rect x="194.3" y="650.3" width="24.7" height="24.7" fill="#ff7a00"/>
<rect x="218.7" y="650.3" width="24.7" height="24.7" fill="#ff9500"/>
<rect x="243" y="650.3" width="24.7" height="24.7" fill="#ff4500"/>
<rect x="267.3" y="650.3" width="24.7" height="24.7" fill="#ff5200"/>
<rect x="291.6" y="650.3" width="24.7" height="24.7" fill="#ff2a00"/>
<rect x="316" y="650.3" width="24.7" height="24.7" fill="#ff4500"/>
<rect x="340.3" y="650.3" width="24.7" height="24.7" fill="#ff3800"/>
<rect x="364.6" y="650.3" width="24.7" height="24.7" fill="#ff4500"/>
<rect x="389" y="650.3" width="24.7" height="24.7" fill="#ff1000"/>
<rect x="413.3" y="650.3" width="24.7" height="24.7" fill="#ff2a00"/>
<rect x="437.6" y="650.3" width="24.7" height="24.7" fill="#ff2a00"/>
<rect x="462" y="650.3" width="24.7" height="24.7" fill="#ff3800"/>
<rect x="486.3" y="650.3" width="24.7" height="24.7" fill="#ff3a00"/>
<rect x="170" y="674.6" width="24.7" height="24.7" fill="#ff3800"/>
<rect x="194.3" y="674.6" width="24.7" height="24.7" fill="#ff6000"/>
<rect x="218.7" y="674.6" width="24.7" height="24.7" fill="#ffa200"/>
<rect x="243" y="674.6" width="24.7" height="24.7" fill="#ff4500"/>
<rect x="267.3" y="674.6" width="24.7" height="24.7" fill="#ff9500"/>
<rect x="291.6" y="674.6" width="24.7" height="24.7" fill="#ff4500"/>
<rect x="316" y="674.6" width="24.7" height="24.7" fill="#ff6000"/>
<rect x="340.3" y="674.6" width="24.7" height="24.7" fill="#ff2a00"/>
<rect x="364.6" y="674.6" width="24.7" height="24.7" fill="#ff1000"/>
<rect x="389" y="674.6" width="24.7" height="24.7" fill="#ff4500"/>
<rect x="413.3" y="674.6" width="24.7" height="24.7" fill="#ff3800"/>
<rect x="437.6" y="674.6" width="24.7" height="24.7" fill="#ff6000"/>
<rect x="462" y="674.6" width="24.7" height="24.7" fill="#ff7a00"/>
<rect x="486.3" y="674.6" width="24.7" height="24.7" fill="#ff7a00"/>
<rect x="170" y="699" width="24.7" height="24.7" fill="#ff4500"/>
<rect x="194.3" y="699" width="24.7" height="24.7" fill="#ff8700"/>
<rect x="218.7" y="699" width="24.7" height="24.7" fill="#ffa200"/>
<rect x="243" y="699" width="24.7" height="24.7" fill="#ff3800"/>
<rect x="267.3" y="699" width="24.7" height="24.7" fill="#ff5500"/>
<rect x="291.6" y="699" width="24.7" height="24.7" fill="#ff2a00"/>
<rect x="316" y="699" width="24.7" height="24.7" fill="#ff2a00"/>
<rect x="340.3" y="699" width="24.7" height="24.7" fill="#ff1000"/>
<rect x="364.6" y="699" width="24.7" height="24.7" fill="#ff2a00"/>
<rect x="389" y="699" width="24.7" height="24.7" fill="#ff3800"/>
<rect x="413.3" y="699" width="24.7" height="24.7" fill="#ff3800"/>
<rect x="437.6" y="699" width="24.7" height="24.7" fill="#ff3800"/>
<rect x="462" y="699" width="24.7" height="24.7" fill="#ff5500"/>
<rect x="486.3" y="699" width="24.7" height="24.7" fill="#ff4500"/>
<rect x="170" y="723.3" width="24.7" height="24.7" fill="#ff9500"/>
<rect x="194.3" y="723.3" width="24.7" height="24.7" fill="#ffff00"/>
<rect x="218.7" y="723.3" width="24.7" height="24.7" fill="#ff9500"/>
<rect x="243" y="723.3" width="24.7" height="24.7" fill="#ff3800"/>
<rect x="267.3" y="723.3" width="24.7" height="24.7" fill="#ff2a00"/>
<rect x="291.6" y="723.3" width="24.7" height="24.7" fill="#ff2000"/>
<rect x="316" y="723.3" width="24.7" height="24.7" fill="#ff1000"/>
<rect x="340.3" y="723.3" width="24.7" height="24.7" fill="#ff2a00"/>
<rect x="364.6" y="723.3" width="24.7" height="24.7" fill="#ff6000"/>
<rect x="389" y="723.3" width="24.7" height="24.7" fill="#ff4500"/>
<rect x="413.3" y="723.3" width="24.7" height="24.7" fill="#ff6000"/>
<rect x="437.6" y="723.3" width="24.7" height="24.7" fill="#ff4500"/>
<rect x="462" y="723.3" width="24.7" height="24.7" fill="#ff3800"/>
<rect x="486.3" y="723.3" width="24.7" height="24.7" fill="#ff3500"/>
<rect x="170" y="747.6" width="24.7" height="24.7" fill="#ff6000"/>
<rect x="194.3" y="747.6" width="24.7" height="24.7" fill="#ffbf00"/>
<rect x="218.7" y="747.6" width="24.7" height="24.7" fill="#ff8a00"/>
<rect x="243" y="747.6" width="24.7" height="24.7" fill="#ff2a00"/>
<rect x="267.3" y="747.6" width="24.7" height="24.7" fill="#ff2a00"/>
<rect x="291.6" y="747.6" width="24.7" height="24.7" fill="#ff1000"/>
<rect x="316" y="747.6" width="24.7" height="24.7" fill="#ff2000"/>
<rect x="340.3" y="747.6" width="24.7" height="24.7" fill="#ff2a00"/>
<rect x="364.6" y="747.6" width="24.7" height="24.7" fill="#ff4500"/>
<rect x="389" y="747.6" width="24.7" height="24.7" fill="#ff2a00"/>
<rect x="413.3" y="747.6" width="24.7" height="24.7" fill="#ff4500"/>
<rect x="437.6" y="747.6" width="24.7" height="24.7" fill="#ff2a00"/>
<rect x="462" y="747.6" width="24.7" height="24.7" fill="#ff3800"/>
<rect x="486.3" y="747.6" width="24.7" height="24.7" fill="#ff4500"/>
<rect x="170" y="772" width="24.7" height="24.7" fill="#ffaf00"/>
<rect x="194.3" y="772" width="24.7" height="24.7" fill="#ffff00"/>
<rect x="218.7" y="772" width="24.7" height="24.7" fill="#ff8a00"/>
<rect x="243" y="772" width="24.7" height="24.7" fill="#ff3800"/>
<rect x="267.3" y="772" width="24.7" height="24.7" fill="#ff1000"/>
<rect x="291.6" y="772" width="24.7" height="24.7" fill="#ff2a00"/>
<rect x="316" y="772" width="24.7" height="24.7" fill="#ff2a00"/>
<rect x="340.3" y="772" width="24.7" height="24.7" fill="#ff5500"/>
<rect x="364.6" y="772" width="24.7" height="24.7" fill="#ff9500"/>
<rect x="389" y="772" width="24.7" height="24.7" fill="#ff5200"/>
<rect x="413.3" y="772" width="24.7" height="24.7" fill="#ff7000"/>
<rect x="437.6" y="772" width="24.7" height="24.7" fill="#ff6000"/>
<rect x="462" y="772" width="24.7" height="24.7" fill="#ff3800"/>
<rect x="486.3" y="772" width="24.7" height="24.7" fill="#ff4500"/>
<rect x="170" y="796.3" width="24.7" height="24.7" fill="#ff9500"/>
<rect x="194.3" y="796.3" width="24.7" height="24.7" fill="#ffe400"/>
<rect x="218.7" y="796.3" width="24.7" height="24.7" fill="#ff8500"/>
<rect x="243" y="796.3" width="24.7" height="24.7" fill="#ff1000"/>
<rect x="267.3" y="796.3" width="24.7" height="24.7" fill="#ff3800"/>
<rect x="291.6" y="796.3" width="24.7" height="24.7" fill="#ff2a00"/>
<rect x="316" y="796.3" width="24.7" height="24.7" fill="#ff3800"/>
<rect x="340.3" y="796.3" width="24.7" height="24.7" fill="#ff3800"/>
<rect x="364.6" y="796.3" width="24.7" height="24.7" fill="#ff4500"/>
<rect x="389" y="796.3" width="24.7" height="24.7" fill="#ff4500"/>
<rect x="413.3" y="796.3" width="24.7" height="24.7" fill="#ff6000"/>
<rect x="437.6" y="796.3" width="24.7" height="24.7" fill="#ff4500"/>
<rect x="462" y="796.3" width="24.7" height="24.7" fill="#ff4500"/>
<rect x="486.3" y="796.3" width="24.7" height="24.7" fill="#ff4500"/>
<rect x="170" y="820.6" width="24.7" height="24.7" fill="#ffca00"/>
<rect x="194.3" y="820.6" width="24.7" height="24.7" fill="#ffff00"/>
<rect x="218.7" y="820.6" width="24.7" height="24.7" fill="#ff1000"/>
<rect x="243" y="820.6" width="24.7" height="24.7" fill="#ff8500"/>
<rect x="267.3" y="820.6" width="24.7" height="24.7" fill="#ff8a00"/>
<rect x="291.6" y="820.6" width="24.7" height="24.7" fill="#ff8a00"/>
<rect x="316" y="820.6" width="24.7" height="24.7" fill="#ff9500"/>
<rect x="340.3" y="820.6" width="24.7" height="24.7" fill="#ffa700"/>
<rect x="364.6" y="820.6" width="24.7" height="24.7" fill="#ffa700"/>
<rect x="389" y="820.6" width="24.7" height="24.7" fill="#ffa200"/>
<rect x="413.3" y="820.6" width="24.7" height="24.7" fill="#ffaf00"/>
<rect x="437.6" y="820.6" width="24.7" height="24.7" fill="#ffaf00"/>
<rect x="462" y="820.6" width="24.7" height="24.7" fill="#ff8a00"/>
<rect x="486.3" y="820.6" width="24.7" height="24.7" fill="#ffaf00"/>
<rect x="170" y="845" width="24.7" height="24.7" fill="#ff3800"/>
<rect x="194.3" y="845" width="24.7" height="24.7" fill="#ff1000"/>
<rect x="218.7" y="845" width="24.7" height="24.7" fill="#ffff00"/>
<rect x="243" y="845" width="24.7" height="24.7" fill="#ffe400"/>
<rect x="267.3" y="845" width="24.7" height="24.7" fill="#ffff00"/>
<rect x="291.6" y="845" width="24.7" height="24.7" fill="#ffbf00"/>
<rect x="316" y="845" width="24.7" height="24.7" fill="#ffff00"/>
<rect x="340.3" y="845" width="24.7" height="24.7" fill="#ff8700"/>
<rect x="364.6" y="845" width="24.7" height="24.7" fill="#ff6000"/>
<rect x="389" y="845" width="24.7" height="24.7" fill="#ff7a00"/>
<rect x="413.3" y="845" width="24.7" height="24.7" fill="#ff3800"/>
<rect x="437.6" y="845" width="24.7" height="24.7" fill="#ff7a00"/>
<rect x="462" y="845" width="24.7" height="24.7" fill="#ffaf00"/>
<rect x="486.3" y="845" width="24.7" height="24.7" fill="#ffaf00"/>
<rect x="170" y="869.3" width="24.7" height="24.7" fill="#ff1000"/>
<rect x="194.3" y="869.3" width="24.7" height="24.7" fill="#ff3800"/>
<rect x="218.7" y="869.3" width="24.7" height="24.7" fill="#ffca00"/>
<rect x="243" y="869.3" width="24.7" height="24.7" fill="#ff9500"/>
<rect x="267.3" y="869.3" width="24.7" height="24.7" fill="#ffaf00"/>
<rect x="291.6" y="869.3" width="24.7" height="24.7" fill="#ff6000"/>
<rect x="316" y="869.3" width="24.7" height="24.7" fill="#ff9500"/>
<rect x="340.3" y="869.3" width="24.7" height="24.7" fill="#ff4500"/>
<rect x="364.6" y="869.3" width="24.7" height="24.7" fill="#ff3800"/>
<rect x="389" y="869.3" width="24.7" height="24.7" fill="#ff4500"/>
<rect x="413.3" y="869.3" width="24.7" height="24.7" fill="#ff3800"/>
<rect x="437.6" y="869.3" width="24.7" height="24.7" fill="#ff6000"/>
<rect x="462" y="869.3" width="24.7" height="24.7" fill="#ff8a00"/>
<rect x="486.3" y="869.3" width="24.7" height="24.7" fill="#ff9500"/>
</g>
<text x="516.5" y="572.7" font-size="21.2">Cluster 7</text>
<text x="516.5" y="597" font-size="21.2">Cluster 2</text>
<text x="516.5" y="621.3" font-size="21.2">Cluster 13</text>
<text x="516.5" y="645.7" font-size="21.2">Cluster 5</text>
<text x="516.5" y="670" font-size="21.2">Cluster 6</text>
<text x="516.5" y="694.3" font-size="21.2">Cluster 12</text>
<text x="516.5" y="718.6" font-size="21.2">Cluster 9</text>
<text x="516.5" y="743" font-size="21.2">Cluster 4</text>
<text x="516.5" y="767.3" font-size="21.2">Cluster 3</text>
<text x="516.5" y="791.6" font-size="21.2">Cluster 8</text>
<text x="516.5" y="816" font-size="21.2">Cluster 1</text>
<text x="516.5" y="840.3" font-size="21.2">Cluster 14</text>
<text x="516.5" y="864.6" font-size="21.2">Cluster 11</text>
<text x="516.5" y="889" font-size="21.2">Cluster 10</text>
<text x="189.7" y="900" font-size="21.2" text-anchor="end" transform="rotate(-90 189.7 900)">Cluster 10</text>
<text x="214" y="900" font-size="21.2" text-anchor="end" transform="rotate(-90 214 900)">Cluster 11</text>
<text x="238.3" y="900" font-size="21.2" text-anchor="end" transform="rotate(-90 238.3 900)">Cluster 14</text>
<text x="262.7" y="900" font-size="21.2" text-anchor="end" transform="rotate(-90 262.7 900)">Cluster 1</text>
<text x="287" y="900" font-size="21.2" text-anchor="end" transform="rotate(-90 287 900)">Cluster 8</text>
<text x="311.3" y="900" font-size="21.2" text-anchor="end" transform="rotate(-90 311.3 900)">Cluster 3</text>
<text x="335.6" y="900" font-size="21.2" text-anchor="end" transform="rotate(-90 335.6 900)">Cluster 4</text>
<text x="360" y="900" font-size="21.2" text-anchor="end" transform="rotate(-90 360 900)">Cluster 9</text>
<text x="384.3" y="900" font-size="21.2" text-anchor="end" transform="rotate(-90 384.3 900)">Cluster 12</text>
<text x="408.6" y="900" font-size="21.2" text-anchor="end" transform="rotate(-90 408.6 900)">Cluster 6</text>
<text x="433" y="900" font-size="21.2" text-anchor="end" transform="rotate(-90 433 900)">Cluster 5</text>
<text x="457.3" y="900" font-size="21.2" text-anchor="end" transform="rotate(-90 457.3 900)">Cluster 13</text>
<text x="481.6" y="900" font-size="21.2" text-anchor="end" transform="rotate(-90 481.6 900)">Cluster 2</text>
<text x="506" y="900" font-size="21.2" text-anchor="end" transform="rotate(-90 506 900)">Cluster 7</text>
<path d="M182.2 551V527.2H206.5V551M303.8 551V532.8H328.1V551M279.5 551V528.6H316V532.8M255.2 551V525H297.7V528.6M352.5 551V530.5H376.8V551M425.5 551V532.8H449.8V551M401.1 551V528.6H437.6V532.8M474.1 551V527.2H498.5V551M419.4 528.6V520.2H486.3V527.2M364.6 530.5V513.8H452.8V520.2M276.4 525V509.7H408.7V513.8M230.8 551V505.5H342.6V509.7M194.3 527.2V500.2H286.7V505.5M166.8 565.2H116.9V589.5H166.8M166.8 613.8H128V638.2H166.8M128 626H118.5V662.5H166.8M116.9 577.3H102.2V644.2H118.5M166.8 686.8H122.6V711.1H166.8M102.2 610.8H87.1V699H122.6M166.8 735.5H129.5V759.8H166.8M129.5 747.6H119.7V784.1H166.8M119.7 765.9H112.3V808.5H166.8M87.1 654.9H80.1V787.2H112.3M80.1 721H70.8V832.8H166.8M166.8 857.1H115.7V881.5H166.8M70.8 776.9H59.6V869.3H115.7" fill="none" stroke="#3a3a3a" stroke-width="1.1"/>
<rect x="98" y="459.5" width="62.3" height="38.5" fill="url(#gk)"/>
<path d="M103 498v4M110 498v4M119 498v4M127 498v4M134 498v4M143 498v4M151 498v4M159.5 498v4" stroke="#333" stroke-width="0.8" fill="none"/>
<text x="87.5" y="456" font-size="21" font-weight="bold">Color key</text>
<text x="89" y="521" font-size="17.2" font-weight="bold">0.7</text>
<text x="119.5" y="521" font-size="17.2" font-weight="bold">0.85</text>
<text x="156.5" y="521" font-size="17.2" font-weight="bold">1</text>
<text x="107.5" y="538.5" font-size="21.5" font-weight="bold">Value</text>
<rect x="862.5" y="490.5" width="799.5" height="482.5" fill="none" stroke="#000" stroke-width="3"/>
<text x="848" y="538.2" font-size="27.3" text-anchor="end">Venus</text>
<text x="848.5" y="606.8" font-size="27.3" text-anchor="end" font-style="italic">KNU</text>
<text x="848.5" y="675.4" font-size="27.3" text-anchor="end" font-style="italic">AGO9</text>
<text x="848.5" y="744" font-size="27.3" text-anchor="end" font-style="italic">DMC1</text>
<text x="848.5" y="812.6" font-size="27.3" text-anchor="end" font-style="italic">ASY1</text>
<text x="848.5" y="881.2" font-size="27.3" text-anchor="end" font-style="italic">SDS</text>
<text x="848.5" y="949.8" font-size="27.3" text-anchor="end" font-style="italic">SWI1</text>
<text x="898.7" y="1001.5" font-size="25" text-anchor="middle">1</text>
<text x="954.4" y="1001.5" font-size="25" text-anchor="middle">2</text>
<text x="1010" y="1001.5" font-size="25" text-anchor="middle">3</text>
<text x="1065.7" y="1001.5" font-size="25" text-anchor="middle">4</text>
<text x="1121.3" y="1001.5" font-size="25" text-anchor="middle">5</text>
<text x="1177" y="1001.5" font-size="25" text-anchor="middle">6</text>
<text x="1232.6" y="1001.5" font-size="25" text-anchor="middle">7</text>
<text x="1288.2" y="1001.5" font-size="25" text-anchor="middle">8</text>
<text x="1343.9" y="1001.5" font-size="25" text-anchor="middle">9</text>
<text x="1399.5" y="1001.5" font-size="25" text-anchor="middle">10</text>
<text x="1455.2" y="1001.5" font-size="25" text-anchor="middle">11</text>
<text x="1510.8" y="1001.5" font-size="25" text-anchor="middle">12</text>
<text x="1566.5" y="1001.5" font-size="25" text-anchor="middle">13</text>
<text x="1622.2" y="1001.5" font-size="25" text-anchor="middle">14</text>
<path d="M862.5 529.7h-9M862.5 598.3h-9M862.5 666.9h-9M862.5 735.5h-9M862.5 804.1h-9M862.5 872.7h-9M862.5 941.3h-9M898.7 973v9M954.4 973v9M1010 973v9M1065.7 973v9M1121.3 973v9M1177 973v9M1232.6 973v9M1288.2 973v9M1343.9 973v9M1399.5 973v9M1455.2 973v9M1510.8 973v9M1566.5 973v9M1622.2 973v9" stroke="#000" stroke-width="2.4" fill="none"/>
<text x="751" y="741.5" font-size="32" text-anchor="middle" transform="rotate(-90 751 741.5)">Genes</text>
<text x="1271" y="1036" font-size="32" text-anchor="middle">Clusters</text>
<circle cx="898.7" cy="529.7" r="4.7" fill="#1414f0"/>
<circle cx="1121.3" cy="529.7" r="5.8" fill="#4212ee"/>
<circle cx="1455.2" cy="529.7" r="9" fill="#f0122e"/>
<circle cx="1622.2" cy="529.7" r="7.3" fill="#c81888"/>
<circle cx="1455.2" cy="598.3" r="9.4" fill="#f60f26"/>
<circle cx="1622.2" cy="598.3" r="7.3" fill="#c81888"/>
<circle cx="954.4" cy="666.9" r="16.3" fill="#4a10e8"/>
<circle cx="1121.3" cy="666.9" r="17.2" fill="#a010c0"/>
<circle cx="1399.5" cy="666.9" r="14.2" fill="#4010f0"/>
<circle cx="1455.2" cy="666.9" r="19" fill="#b010a8"/>
<circle cx="1566.5" cy="666.9" r="14.9" fill="#3a10f0"/>
<circle cx="1455.2" cy="735.5" r="12.7" fill="#e81048"/>
<circle cx="1455.2" cy="804.1" r="11.4" fill="#f01030"/>
<circle cx="1399.5" cy="872.7" r="7.3" fill="#6010e0"/>
<circle cx="1455.2" cy="872.7" r="10.9" fill="#d81868"/>
<circle cx="1510.8" cy="872.7" r="7.3" fill="#1818f8"/>
<circle cx="1455.2" cy="941.3" r="10.9" fill="#f01030"/>
<circle cx="1622.2" cy="941.3" r="6" fill="#6010e0"/>
<text x="1674.5" y="545.5" font-size="27.7">Percentage</text>
<circle cx="1696" cy="566.4" r="6.9" fill="#000"/>
<text x="1715.5" y="574.9" font-size="24.3">0.1</text>
<circle cx="1696" cy="597.6" r="9.1" fill="#000"/>
<text x="1715.5" y="606.1" font-size="24.3">0.2</text>
<circle cx="1696" cy="628.8" r="10.4" fill="#000"/>
<text x="1715.5" y="637.3" font-size="24.3">0.3</text>
<circle cx="1696" cy="660" r="11.3" fill="#000"/>
<text x="1715.5" y="668.5" font-size="24.3">0.4</text>
<circle cx="1696" cy="691.2" r="12.3" fill="#000"/>
<text x="1715.5" y="699.7" font-size="24.3">0.5</text>
<text x="1674.5" y="758" font-size="27.7">Log2 FC</text>
<rect x="1681" y="774" width="31.2" height="157" fill="url(#gfc)"/>
<text x="1721" y="940.9" font-size="25">0</text>
<text x="1721" y="912.6" font-size="25">1</text>
<text x="1721" y="884.4" font-size="25">2</text>
<text x="1721" y="856.1" font-size="25">3</text>
<text x="1721" y="827.9" font-size="25">4</text>
<text x="1721" y="799.6" font-size="25">5</text>
<path d="M1681 904.6h6M1712.2 904.6h-6M1681 876.4h6M1712.2 876.4h-6M1681 848.1h6M1712.2 848.1h-6M1681 819.9h6M1712.2 819.9h-6M1681 791.6h6M1712.2 791.6h-6" stroke="#fff" stroke-opacity="0.7" stroke-width="1" fill="none"/>
<g shape-rendering="crispEdges">
<rect x="165.6" y="1977.8" width="72.4" height="72.4" fill="#ffd800"/>
<rect x="237.6" y="1977.8" width="72.4" height="72.4" fill="#ff6a00"/>
<rect x="309.6" y="1977.8" width="72.4" height="72.4" fill="#ff4d00"/>
<rect x="381.6" y="1977.8" width="72.4" height="72.4" fill="#ff3a00"/>
<rect x="453.6" y="1977.8" width="72.4" height="72.4" fill="#ff0800"/>
<rect x="165.6" y="2049.8" width="72.4" height="72.4" fill="#ffff00"/>
<rect x="237.6" y="2049.8" width="72.4" height="72.4" fill="#ff3a00"/>
<rect x="309.6" y="2049.8" width="72.4" height="72.4" fill="#ff4d00"/>
<rect x="381.6" y="2049.8" width="72.4" height="72.4" fill="#ff0800"/>
<rect x="453.6" y="2049.8" width="72.4" height="72.4" fill="#ff3a00"/>
<rect x="165.6" y="2121.8" width="72.4" height="72.4" fill="#ffc400"/>
<rect x="237.6" y="2121.8" width="72.4" height="72.4" fill="#ff5a00"/>
<rect x="309.6" y="2121.8" width="72.4" height="72.4" fill="#ff0800"/>
<rect x="381.6" y="2121.8" width="72.4" height="72.4" fill="#ff4d00"/>
<rect x="453.6" y="2121.8" width="72.4" height="72.4" fill="#ff4d00"/>
<rect x="165.6" y="2193.8" width="72.4" height="72.4" fill="#ffff00"/>
<rect x="237.6" y="2193.8" width="72.4" height="72.4" fill="#ff0800"/>
<rect x="309.6" y="2193.8" width="72.4" height="72.4" fill="#ff5a00"/>
<rect x="381.6" y="2193.8" width="72.4" height="72.4" fill="#ff3a00"/>
<rect x="453.6" y="2193.8" width="72.4" height="72.4" fill="#ff6a00"/>
<rect x="165.6" y="2265.8" width="72.4" height="72.4" fill="#ff0800"/>
<rect x="237.6" y="2265.8" width="72.4" height="72.4" fill="#ffff00"/>
<rect x="309.6" y="2265.8" width="72.4" height="72.4" fill="#ffc400"/>
<rect x="381.6" y="2265.8" width="72.4" height="72.4" fill="#ffff00"/>
<rect x="453.6" y="2265.8" width="72.4" height="72.4" fill="#ffd800"/>
</g>
<text x="539" y="2021.3" font-size="29.3">subcluster 3</text>
<text x="539" y="2093.3" font-size="29.3">subcluster 1</text>
<text x="539" y="2165.3" font-size="29.3">subcluster 4</text>
<text x="539" y="2237.3" font-size="29.3">subcluster 5</text>
<text x="539" y="2309.3" font-size="29.3">subcluster 2</text>
<text x="210.6" y="2349" font-size="29.3" text-anchor="end" transform="rotate(-90 210.6 2349)">subcluster 2</text>
<text x="282.6" y="2349" font-size="29.3" text-anchor="end" transform="rotate(-90 282.6 2349)">subcluster 5</text>
<text x="354.6" y="2349" font-size="29.3" text-anchor="end" transform="rotate(-90 354.6 2349)">subcluster 4</text>
<text x="426.6" y="2349" font-size="29.3" text-anchor="end" transform="rotate(-90 426.6 2349)">subcluster 1</text>
<text x="498.6" y="2349" font-size="29.3" text-anchor="end" transform="rotate(-90 498.6 2349)">subcluster 3</text>
<path d="M417.6 1975.5V1950.7H489.6V1975.5M345.6 1975.5V1945.6H453.6V1950.7M273.6 1975.5V1940.5H399.6V1945.6M201.6 1975.5V1921.2H336.6V1940.5M161 2013.8H109V2085.8H161M109 2049.8H98.4V2157.8H161M98.4 2103.8H88.3V2229.8H161M88.3 2166.8H48.3V2301.8H161" fill="none" stroke="#3a3a3a" stroke-width="1.1"/>
<rect x="88.8" y="1878.9" width="65.3" height="41" fill="url(#gk)"/>
<path d="M99 1920v4M113 1920v4M127 1920v4M141 1920v4M154 1920v4" stroke="#333" stroke-width="0.8" fill="none"/>
<text x="90.3" y="1869.7" font-size="20.9" font-weight="bold">Color key</text>
<text x="84" y="1938.7" font-size="16.5" font-weight="bold">0.8</text>
<text x="120.5" y="1938.7" font-size="16.5" font-weight="bold">0.9</text>
<text x="157" y="1938.7" font-size="16.5" font-weight="bold">1</text>
<text x="104.5" y="1960.3" font-size="21" font-weight="bold">Value</text>
<rect x="1004.5" y="1858.2" width="673.3" height="566" fill="none" stroke="#000" stroke-width="3"/>
<text x="990" y="1895.5" font-size="29.5" text-anchor="end" font-style="italic">SPL</text>
<text x="990" y="1938.2" font-size="29.5" text-anchor="end" font-style="italic">WUS</text>
<text x="990" y="1980.8" font-size="29.5" text-anchor="end" font-style="italic">WIH1</text>
<text x="990" y="2023.5" font-size="29.5" text-anchor="end" font-style="italic">WIH2</text>
<text x="990" y="2066.2" font-size="29.5" text-anchor="end" font-style="italic">PIN1</text>
<text x="990" y="2108.9" font-size="29.5" text-anchor="end" font-style="italic">WRKY28</text>
<text x="988.5" y="2151.6" font-size="29.5" text-anchor="end">Venus</text>
<text x="990" y="2194.2" font-size="29.5" text-anchor="end" font-style="italic">KNU</text>
<text x="990" y="2236.9" font-size="29.5" text-anchor="end" font-style="italic">AGO9</text>
<text x="990" y="2279.6" font-size="29.5" text-anchor="end" font-style="italic">DMC1</text>
<text x="990" y="2322.2" font-size="29.5" text-anchor="end" font-style="italic">ASY1</text>
<text x="990" y="2364.9" font-size="29.5" text-anchor="end" font-style="italic">SDS</text>
<text x="990" y="2407.6" font-size="29.5" text-anchor="end" font-style="italic">SWI1</text>
<text x="1034" y="2458" font-size="27" text-anchor="middle">1</text>
<text x="1187" y="2458" font-size="27" text-anchor="middle">2</text>
<text x="1340" y="2458" font-size="27" text-anchor="middle">3</text>
<text x="1493" y="2458" font-size="27" text-anchor="middle">4</text>
<text x="1646" y="2458" font-size="27" text-anchor="middle">5</text>
<path d="M1004.5 1886.5h-10M1004.5 1929.2h-10M1004.5 1971.8h-10M1004.5 2014.5h-10M1004.5 2057.2h-10M1004.5 2099.9h-10M1004.5 2142.6h-10M1004.5 2185.2h-10M1004.5 2227.9h-10M1004.5 2270.6h-10M1004.5 2313.2h-10M1004.5 2355.9h-10M1004.5 2398.6h-10M1034 2424.2v10M1187 2424.2v10M1340 2424.2v10M1493 2424.2v10M1646 2424.2v10" stroke="#000" stroke-width="2.6" fill="none"/>
<text x="864" y="2108.5" font-size="34.8" text-anchor="middle" transform="rotate(-90 864 2108.5)">Genes</text>
<text x="1379.5" y="2495.5" font-size="35" text-anchor="middle">Subclusters</text>
<circle cx="1034" cy="2014.5" r="16.9" fill="#5010e8"/>
<circle cx="1187" cy="1971.8" r="11.8" fill="#1010f0"/>
<circle cx="1187" cy="2099.9" r="8.2" fill="#1010f0"/>
<circle cx="1187" cy="2142.6" r="9.4" fill="#f81020"/>
<circle cx="1187" cy="2185.2" r="10" fill="#e81048"/>
<circle cx="1187" cy="2227.9" r="16.3" fill="#6010e0"/>
<circle cx="1187" cy="2270.6" r="14" fill="#e81040"/>
<circle cx="1187" cy="2313.2" r="14" fill="#ff0808"/>
<circle cx="1187" cy="2355.9" r="12.2" fill="#e81040"/>
<circle cx="1187" cy="2398.6" r="12.7" fill="#ff0810"/>
<circle cx="1340" cy="1886.5" r="7.3" fill="#d01878"/>
<circle cx="1340" cy="1929.2" r="7.6" fill="#d01878"/>
<circle cx="1340" cy="1971.8" r="12.7" fill="#8010d0"/>
<circle cx="1340" cy="2014.5" r="16.9" fill="#1008f8"/>
<circle cx="1340" cy="2057.2" r="10.9" fill="#a010c0"/>
<circle cx="1340" cy="2099.9" r="9.1" fill="#8010d0"/>
<circle cx="1340" cy="2227.9" r="16.3" fill="#6810e0"/>
<circle cx="1493" cy="1886.5" r="4.2" fill="#9810c8"/>
<circle cx="1493" cy="1929.2" r="5.7" fill="#a010c0"/>
<circle cx="1493" cy="2057.2" r="7.5" fill="#6810e0"/>
<circle cx="1493" cy="2185.2" r="4.1" fill="#2810f8"/>
<circle cx="1493" cy="2227.9" r="14.3" fill="#6810e0"/>
<circle cx="1646" cy="1971.8" r="10.8" fill="#3010f8"/>
<circle cx="1646" cy="2057.2" r="7.8" fill="#5010e8"/>
<circle cx="1646" cy="2099.9" r="8.3" fill="#9010c8"/>
<text x="1689" y="1942.5" font-size="28.6">Log2 FC</text>
<rect x="1699.6" y="1961.5" width="36.7" height="177" fill="url(#gfc2)"/>
<text x="1745.6" y="2118.6" font-size="27">1</text>
<text x="1745.6" y="2086.8" font-size="27">2</text>
<text x="1745.6" y="2055.1" font-size="27">3</text>
<text x="1745.6" y="2023.3" font-size="27">4</text>
<text x="1745.6" y="1991.6" font-size="27">5</text>
<path d="M1699.6 2109.6h7M1736.3 2109.6h-7M1699.6 2077.8h7M1736.3 2077.8h-7M1699.6 2046.1h7M1736.3 2046.1h-7M1699.6 2014.3h7M1736.3 2014.3h-7M1699.6 1982.6h7M1736.3 1982.6h-7" stroke="#fff" stroke-opacity="0.7" stroke-width="1" fill="none"/>
<text x="1693" y="2203" font-size="30.4">Percentage</text>
<circle cx="1716.7" cy="2233.4" r="8.3" fill="#000"/>
<text x="1735.7" y="2242.4" font-size="26">0.2</text>
<circle cx="1716.7" cy="2269" r="10.8" fill="#000"/>
<text x="1735.7" y="2278" font-size="26">0.4</text>
<circle cx="1716.7" cy="2304.6" r="12.3" fill="#000"/>
<text x="1735.7" y="2313.6" font-size="26">0.6</text>
<circle cx="1716.7" cy="2340.2" r="13.8" fill="#000"/>
<text x="1735.7" y="2349.2" font-size="26">0.8</text>
</svg>
</body></html>
